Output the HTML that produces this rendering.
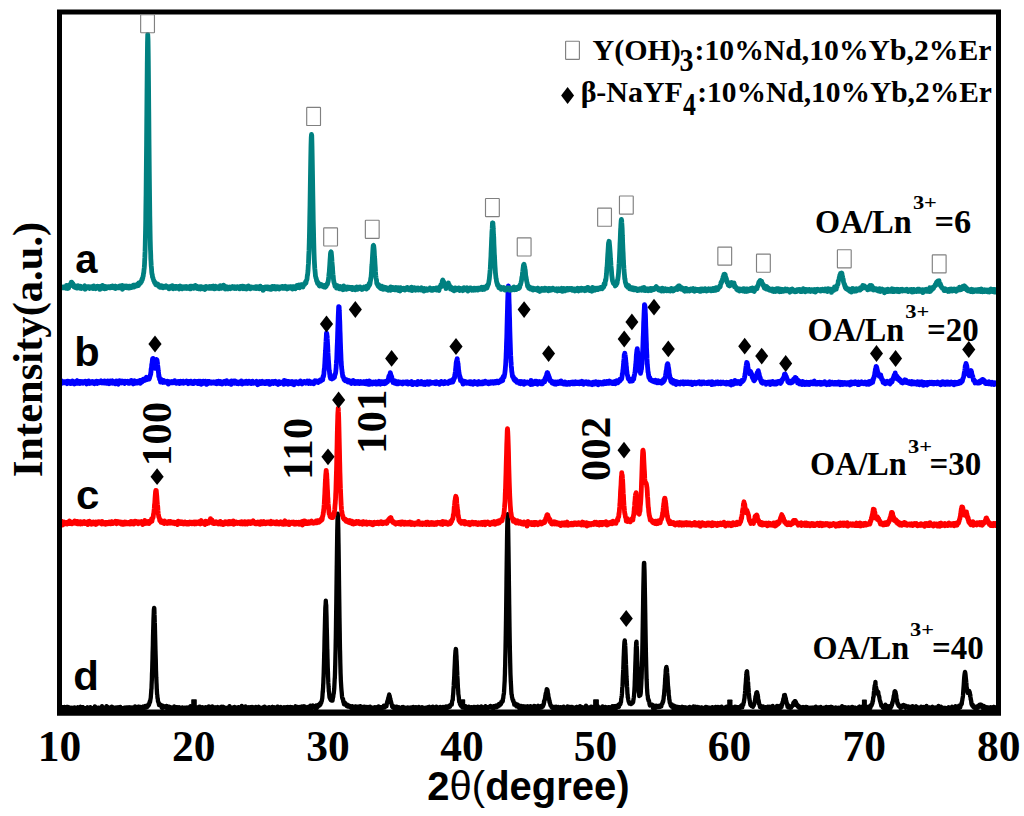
<!DOCTYPE html>
<html><head><meta charset="utf-8"><style>
html,body{margin:0;padding:0;background:#fff;width:1024px;height:816px;overflow:hidden}
svg{display:block}
text{font-family:"Liberation Serif",serif;font-weight:bold}
.s,.s text{font-family:"Liberation Sans",sans-serif;font-weight:bold}
</style></head><body>
<svg width="1024" height="816" viewBox="0 0 1024 816">
<rect width="1024" height="816" fill="#fff"/>
<polyline fill="none" stroke="#000" stroke-width="4.3" stroke-linejoin="round" stroke-linecap="round" points="60.5,707.8 60.75,708.2 61,709.4 61.25,708.7 61.5,707.1 61.75,708.3 62,707.8 62.25,708.4 62.5,707.2 62.75,708.4 63,708.4 63.25,709.4 63.5,708.5 63.75,708.6 64,707.2 64.25,709.9 64.5,706.9 64.75,709.0 65,708.0 65.25,707.7 65.5,707.8 65.75,707.8 66,708.5 66.25,708.2 66.5,709.3 66.75,707.0 67,708.3 67.25,707.7 67.5,708.8 67.75,706.8 68,708.0 68.25,708.4 68.5,707.2 68.75,709.0 69,708.4 69.25,709.0 69.5,708.9 69.75,707.6 70,707.7 70.25,708.1 70.5,708.8 70.75,708.9 71,707.8 71.25,707.8 71.5,707.7 71.75,707.9 72,708.1 72.25,708.2 72.5,709.7 72.75,707.9 73,708.1 73.25,708.6 73.5,707.6 73.75,708.0 74,708.3 74.25,708.8 74.5,707.4 74.75,709.2 75,708.0 75.25,708.4 75.5,708.9 75.75,708.7 76,709.0 76.25,708.4 76.5,708.3 76.75,708.5 77,707.6 77.25,709.1 77.5,707.7 77.75,707.4 78,709.7 78.25,708.2 78.5,707.4 78.75,709.6 79,708.0 79.25,709.0 79.5,707.7 79.75,708.1 80,707.1 80.25,706.9 80.5,707.6 80.75,708.2 81,708.8 81.25,710.0 81.5,707.5 81.75,709.0 82,707.8 82.25,708.2 82.5,707.2 82.75,707.2 83,707.7 83.25,707.4 83.5,708.3 83.75,707.8 84,709.1 84.25,708.4 84.5,708.4 84.75,709.1 85,708.6 85.25,708.2 85.5,708.2 85.75,708.2 86,709.0 86.25,708.8 86.5,708.5 86.75,708.8 87,707.9 87.25,708.6 87.5,707.3 87.75,709.2 88,708.3 88.25,708.4 88.5,708.7 88.75,708.3 89,708.1 89.25,709.1 89.5,708.3 89.75,707.6 90,708.6 90.25,707.1 90.5,709.4 90.75,708.1 91,708.3 91.25,709.8 91.5,709.8 91.75,708.3 92,708.7 92.25,709.0 92.5,709.4 92.75,708.2 93,708.4 93.25,709.1 93.5,708.4 93.75,708.8 94,708.7 94.25,707.5 94.5,707.7 94.75,706.4 95,708.1 95.25,709.2 95.5,707.5 95.75,709.1 96,709.0 96.25,708.2 96.5,708.3 96.75,708.3 97,707.7 97.25,708.1 97.5,708.2 97.75,708.7 98,708.8 98.25,707.7 98.5,708.8 98.75,707.7 99,708.1 99.25,708.5 99.5,708.2 99.75,708.2 100,708.4 100.25,707.9 100.5,707.8 100.75,708.1 101,708.9 101.25,708.2 101.5,709.6 101.75,708.4 102,706.2 102.25,707.9 102.5,709.4 102.75,708.3 103,707.9 103.25,707.6 103.5,709.2 103.75,708.9 104,708.7 104.25,708.5 104.5,709.3 104.75,708.8 105,707.4 105.25,708.8 105.5,708.4 105.75,708.2 106,708.8 106.25,708.3 106.5,706.2 106.75,709.3 107,709.0 107.25,708.2 107.5,708.0 107.75,708.4 108,707.3 108.25,708.4 108.5,708.1 108.75,708.0 109,707.6 109.25,707.8 109.5,709.0 109.75,709.2 110,708.6 110.25,708.2 110.5,707.6 110.75,708.7 111,709.4 111.25,707.1 111.5,709.0 111.75,706.7 112,708.0 112.25,708.5 112.5,707.3 112.75,707.2 113,708.4 113.25,708.8 113.5,707.9 113.75,709.2 114,707.7 114.25,709.4 114.5,708.3 114.75,708.4 115,708.6 115.25,708.4 115.5,709.5 115.75,709.8 116,708.6 116.25,708.1 116.5,707.4 116.75,707.7 117,708.2 117.25,708.1 117.5,708.2 117.75,708.2 118,708.5 118.25,707.3 118.5,707.5 118.75,709.0 119,708.8 119.25,707.8 119.5,709.1 119.75,707.7 120,708.0 120.25,706.9 120.5,708.8 120.75,708.2 121,708.9 121.25,708.7 121.5,708.3 121.75,708.3 122,709.0 122.25,708.1 122.5,708.1 122.75,708.2 123,708.7 123.25,708.8 123.5,709.5 123.75,708.1 124,709.1 124.25,707.7 124.5,708.6 124.75,708.3 125,709.4 125.25,708.6 125.5,707.9 125.75,708.6 126,708.4 126.25,707.9 126.5,708.0 126.75,707.5 127,710.1 127.25,708.3 127.5,708.8 127.75,707.3 128,707.4 128.25,708.0 128.5,708.0 128.75,708.7 129,707.4 129.25,708.5 129.5,709.2 129.75,707.5 130,708.8 130.25,707.4 130.5,708.4 130.75,708.4 131,709.3 131.25,707.6 131.5,708.2 131.75,708.8 132,707.3 132.25,708.1 132.5,707.5 132.75,707.6 133,708.5 133.25,708.6 133.5,709.9 133.75,709.0 134,708.9 134.25,707.9 134.5,707.8 134.75,708.1 135,706.4 135.25,709.2 135.5,707.5 135.75,707.2 136,707.6 136.25,708.6 136.5,708.8 136.75,707.7 137,708.2 137.25,707.9 137.5,707.2 137.75,708.0 138,707.9 138.25,706.8 138.5,708.6 138.75,706.7 139,708.0 139.25,707.1 139.5,707.2 139.75,707.3 140,708.2 140.25,706.8 140.5,707.6 140.75,708.8 141,707.2 141.25,707.6 141.5,708.1 141.75,707.2 142,707.9 142.25,707.0 142.5,708.0 142.75,707.5 143,706.7 143.25,708.3 143.5,707.2 143.75,707.1 144,706.6 144.25,706.8 144.5,707.0 144.75,707.1 145,707.7 145.25,706.0 145.5,706.6 145.75,707.5 146,706.7 146.25,706.8 146.5,707.5 146.75,706.5 147,706.5 147.25,706.0 147.5,707.0 147.75,706.4 148,704.9 148.25,705.6 148.5,704.1 148.75,705.4 149,704.7 149.25,703.7 149.5,703.0 149.75,701.4 150,702.3 150.25,700.6 150.5,699.1 150.75,697.9 151,694.4 151.1,693.2 151.25,691.0 151.35,689.0 151.5,688.9 151.6,685.1 151.75,681.6 151.85,680.0 152,673.1 152.1,672.3 152.25,667.5 152.35,663.4 152.5,658.9 152.6,653.3 152.75,648.8 152.85,645.3 153,636.9 153.1,633.3 153.25,628.3 153.35,624.6 153.5,618.9 153.6,616.6 153.75,612.8 153.85,609.8 154,609.0 154.1,607.9 154.25,608.0 154.35,609.0 154.5,614.4 154.6,616.2 154.75,622.4 154.85,623.5 155,630.0 155.1,634.5 155.25,640.3 155.35,644.9 155.5,650.8 155.6,654.2 155.75,658.7 155.85,663.3 156,670.2 156.1,672.7 156.25,677.5 156.35,678.9 156.5,682.8 156.6,684.5 156.75,688.3 156.85,689.9 157,692.5 157.1,694.7 157.25,694.7 157.5,698.2 157.75,698.5 158,701.6 158.25,701.6 158.5,702.6 158.75,703.4 159,705.0 159.25,704.2 159.5,704.2 159.75,704.0 160,705.3 160.25,704.8 160.5,705.2 160.75,705.7 161,706.4 161.25,705.6 161.5,706.7 161.75,707.6 162,705.4 162.25,707.5 162.5,708.1 162.75,706.3 163,707.2 163.25,705.9 163.5,707.2 163.75,706.8 164,707.3 164.25,706.5 164.5,706.6 164.75,706.9 165,706.8 165.25,706.9 165.5,707.2 165.75,706.6 166,707.3 166.25,707.8 166.5,705.8 166.75,707.6 167,707.0 167.25,706.7 167.5,706.6 167.75,707.0 168,707.1 168.25,707.8 168.5,706.7 168.75,708.4 169,707.1 169.25,708.2 169.5,708.5 169.75,706.9 170,708.5 170.25,709.3 170.5,707.5 170.75,708.2 171,707.7 171.25,707.9 171.5,707.7 171.75,707.5 172,708.4 172.25,708.5 172.5,707.9 172.75,709.0 173,708.7 173.25,708.4 173.5,707.5 173.75,709.3 174,708.9 174.25,706.5 174.5,707.2 174.75,707.7 175,708.7 175.25,708.9 175.5,707.8 175.75,708.2 176,708.5 176.25,707.1 176.5,708.5 176.75,707.8 177,708.2 177.25,708.0 177.5,707.2 177.75,707.4 178,708.1 178.25,708.2 178.5,707.9 178.75,708.8 179,707.8 179.25,707.2 179.5,707.9 179.75,708.0 180,708.0 180.25,708.9 180.5,708.5 180.75,708.9 181,708.6 181.25,708.0 181.5,708.9 181.75,707.9 182,708.3 182.25,707.4 182.5,708.2 182.75,707.9 183,708.4 183.25,709.4 183.5,709.8 183.75,708.9 184,708.1 184.25,708.7 184.5,708.3 184.75,707.7 185,708.1 185.25,708.0 185.5,707.7 185.75,709.1 186,707.8 186.25,707.8 186.5,708.7 186.75,707.7 187,707.4 187.25,707.6 187.5,708.5 187.75,708.4 188,708.4 188.25,707.9 188.5,707.5 188.75,708.8 189,707.2 189.25,708.0 189.5,707.3 189.75,707.9 190,708.1 190.25,709.1 190.5,706.2 190.75,709.2 191,707.6 191.25,708.4 191.5,708.8 191.75,707.7 192,708.1 192.25,708.6 192.5,708.1 192.75,707.7 193,708.3 193.25,708.3 193.5,707.2 193.75,709.2 194,708.4 194.25,706.5 194.5,707.6 194.75,709.4 195,709.3 195.25,708.4 195.5,707.1 195.75,708.1 196,709.0 196.25,708.5 196.5,708.0 196.75,707.7 197,708.8 197.25,708.1 197.5,708.5 197.75,708.6 198,709.4 198.25,708.4 198.5,708.4 198.75,707.0 199,709.0 199.25,708.9 199.5,708.2 199.75,706.7 200,707.9 200.25,708.3 200.5,709.7 200.75,708.7 201,708.8 201.25,708.8 201.5,709.2 201.75,707.5 202,707.7 202.25,707.4 202.5,708.1 202.75,708.0 203,708.3 203.25,707.5 203.5,708.3 203.75,707.7 204,709.7 204.25,707.9 204.5,710.0 204.75,709.4 205,707.4 205.25,708.9 205.5,708.7 205.75,707.2 206,708.7 206.25,708.2 206.5,708.5 206.75,707.7 207,708.2 207.25,708.5 207.5,708.1 207.75,707.8 208,708.1 208.25,707.6 208.5,708.5 208.75,706.5 209,709.3 209.25,708.3 209.5,708.6 209.75,708.9 210,707.4 210.25,709.8 210.5,707.5 210.75,708.6 211,708.5 211.25,709.2 211.5,708.2 211.75,707.3 212,708.5 212.25,706.5 212.5,708.1 212.75,707.9 213,709.3 213.25,708.1 213.5,707.9 213.75,707.7 214,707.6 214.25,707.9 214.5,708.7 214.75,707.3 215,708.1 215.25,707.2 215.5,708.1 215.75,708.4 216,707.4 216.25,707.8 216.5,708.3 216.75,708.8 217,708.9 217.25,708.2 217.5,707.5 217.75,707.1 218,708.8 218.25,709.2 218.5,708.5 218.75,709.3 219,707.9 219.25,708.0 219.5,709.3 219.75,707.5 220,708.7 220.25,708.5 220.5,708.3 220.75,709.5 221,707.6 221.25,707.9 221.5,706.8 221.75,707.5 222,707.9 222.25,708.0 222.5,708.1 222.75,708.4 223,707.8 223.25,706.8 223.5,708.3 223.75,708.5 224,707.4 224.25,707.7 224.5,709.5 224.75,709.0 225,709.0 225.25,708.7 225.5,708.3 225.75,707.9 226,708.6 226.25,708.1 226.5,707.9 226.75,708.2 227,708.2 227.25,708.9 227.5,707.6 227.75,710.0 228,707.5 228.25,707.9 228.5,708.9 228.75,707.6 229,707.9 229.25,708.3 229.5,706.2 229.75,707.9 230,707.6 230.25,708.1 230.5,708.6 230.75,708.7 231,709.3 231.25,709.3 231.5,709.0 231.75,708.2 232,709.0 232.25,707.5 232.5,708.2 232.75,709.3 233,708.8 233.25,707.3 233.5,707.8 233.75,708.9 234,708.7 234.25,709.0 234.5,707.0 234.75,707.3 235,708.1 235.25,707.6 235.5,708.2 235.75,708.3 236,708.5 236.25,708.2 236.5,708.6 236.75,708.8 237,708.4 237.25,707.4 237.5,709.2 237.75,708.4 238,708.5 238.25,708.4 238.5,707.1 238.75,708.7 239,707.8 239.25,707.4 239.5,709.2 239.75,708.0 240,708.5 240.25,708.9 240.5,709.4 240.75,707.0 241,707.7 241.25,708.7 241.5,707.8 241.75,705.9 242,708.3 242.25,708.4 242.5,708.8 242.75,708.4 243,707.9 243.25,708.4 243.5,708.2 243.75,707.9 244,708.4 244.25,708.5 244.5,707.5 244.75,709.0 245,708.8 245.25,708.8 245.5,706.3 245.75,708.3 246,708.2 246.25,707.5 246.5,708.7 246.75,707.2 247,709.1 247.25,708.5 247.5,707.9 247.75,709.2 248,708.6 248.25,708.5 248.5,707.3 248.75,708.6 249,709.2 249.25,709.0 249.5,707.3 249.75,709.2 250,709.4 250.25,708.8 250.5,708.0 250.75,707.2 251,707.6 251.25,707.8 251.5,708.4 251.75,708.6 252,707.7 252.25,707.1 252.5,707.9 252.75,707.3 253,709.2 253.25,707.3 253.5,708.5 253.75,708.8 254,707.5 254.25,708.9 254.5,708.1 254.75,707.6 255,707.5 255.25,708.3 255.5,708.9 255.75,706.9 256,708.6 256.25,708.1 256.5,707.7 256.75,708.1 257,708.2 257.25,708.1 257.5,708.8 257.75,707.5 258,709.6 258.25,708.8 258.5,707.8 258.75,706.8 259,708.2 259.25,707.9 259.5,708.7 259.75,708.7 260,709.5 260.25,708.1 260.5,708.8 260.75,707.9 261,707.9 261.25,709.3 261.5,708.1 261.75,708.1 262,708.0 262.25,708.4 262.5,708.6 262.75,708.1 263,707.4 263.25,708.4 263.5,707.6 263.75,708.0 264,708.4 264.25,708.4 264.5,706.6 264.75,709.4 265,708.8 265.25,709.6 265.5,710.0 265.75,707.5 266,707.8 266.25,708.4 266.5,708.9 266.75,707.8 267,708.0 267.25,708.9 267.5,707.6 267.75,708.3 268,708.9 268.25,708.0 268.5,708.7 268.75,708.1 269,707.1 269.25,707.8 269.5,708.0 269.75,707.9 270,708.2 270.25,708.4 270.5,708.4 270.75,708.3 271,707.8 271.25,708.0 271.5,707.9 271.75,707.7 272,709.1 272.25,706.8 272.5,708.3 272.75,707.0 273,707.7 273.25,708.7 273.5,707.9 273.75,709.1 274,707.4 274.25,707.9 274.5,707.6 274.75,708.1 275,707.8 275.25,707.8 275.5,708.1 275.75,708.8 276,708.2 276.25,708.1 276.5,707.8 276.75,707.5 277,707.0 277.25,707.3 277.5,708.0 277.75,706.7 278,708.5 278.25,707.7 278.5,707.3 278.75,707.6 279,708.5 279.25,708.3 279.5,708.2 279.75,709.2 280,709.7 280.25,707.1 280.5,708.6 280.75,707.5 281,707.1 281.25,707.7 281.5,708.8 281.75,707.8 282,707.7 282.25,709.1 282.5,708.4 282.75,708.0 283,709.4 283.25,708.5 283.5,707.6 283.75,707.4 284,707.8 284.25,708.2 284.5,708.8 284.75,708.7 285,708.2 285.25,707.3 285.5,708.8 285.75,708.2 286,707.4 286.25,707.3 286.5,708.3 286.75,708.4 287,708.7 287.25,707.2 287.5,709.5 287.75,706.8 288,708.1 288.25,709.0 288.5,708.8 288.75,707.4 289,708.5 289.25,708.9 289.5,708.6 289.75,707.4 290,709.2 290.25,706.9 290.5,708.1 290.75,707.3 291,707.7 291.25,707.8 291.5,708.4 291.75,707.1 292,708.2 292.25,708.9 292.5,708.1 292.75,708.4 293,708.3 293.25,707.5 293.5,707.7 293.75,708.0 294,708.3 294.25,709.4 294.5,709.1 294.75,707.7 295,707.7 295.25,707.3 295.5,706.3 295.75,708.9 296,708.3 296.25,706.6 296.5,708.0 296.75,709.6 297,708.3 297.25,708.3 297.5,708.1 297.75,707.4 298,707.1 298.25,707.3 298.5,708.0 298.75,707.8 299,708.4 299.25,709.2 299.5,708.3 299.75,708.5 300,707.7 300.25,707.0 300.5,709.4 300.75,708.4 301,708.7 301.25,707.6 301.5,706.7 301.75,708.8 302,706.3 302.25,707.7 302.5,707.5 302.75,708.0 303,708.4 303.25,708.4 303.5,706.3 303.75,708.5 304,706.5 304.25,708.3 304.5,707.5 304.75,707.0 305,707.4 305.25,706.8 305.5,707.7 305.75,708.4 306,708.3 306.25,707.7 306.5,708.5 306.75,708.1 307,709.2 307.25,708.0 307.5,707.2 307.75,707.4 308,707.1 308.25,707.4 308.5,707.5 308.75,708.1 309,708.1 309.25,707.6 309.5,707.8 309.75,707.0 310,707.1 310.25,705.7 310.5,706.9 310.75,707.1 311,709.2 311.25,706.4 311.5,707.4 311.75,707.1 312,706.2 312.25,707.5 312.5,707.2 312.75,706.2 313,705.5 313.25,707.1 313.5,706.1 313.75,707.5 314,706.8 314.25,707.3 314.5,706.7 314.75,708.0 315,707.3 315.25,707.9 315.5,706.8 315.75,705.9 316,705.6 316.25,706.1 316.5,706.6 316.75,705.9 317,708.0 317.25,706.1 317.5,706.4 317.75,706.0 318,704.9 318.25,706.4 318.5,706.0 318.75,706.0 319,704.5 319.25,705.0 319.5,704.7 319.75,705.4 320,703.3 320.25,704.4 320.5,704.5 320.75,702.9 321,702.1 321.25,703.0 321.5,701.5 321.75,701.2 322,699.7 322.25,698.3 322.5,695.2 322.75,691.0 322.8,692.3 323,688.3 323.05,688.4 323.25,683.7 323.3,684.1 323.5,677.9 323.55,677.3 323.75,671.7 323.8,669.2 324,662.6 324.05,660.5 324.25,652.0 324.3,651.7 324.5,641.5 324.55,638.9 324.75,630.9 324.8,629.2 325,620.8 325.05,618.5 325.25,611.3 325.3,608.5 325.5,605.5 325.55,605.4 325.75,601.6 325.8,600.7 326,603.8 326.05,603.9 326.25,605.5 326.3,609.3 326.5,615.5 326.55,617.6 326.75,627.9 326.8,629.3 327,637.1 327.05,639.4 327.25,649.0 327.3,649.1 327.5,658.3 327.55,659.2 327.75,667.2 327.8,668.4 328,673.7 328.05,676.3 328.25,680.9 328.3,682.9 328.5,685.3 328.55,686.5 328.75,689.0 328.8,691.0 329,691.9 329.25,694.7 329.5,697.3 329.75,697.9 330,698.5 330.25,699.1 330.5,699.5 330.75,700.0 331,699.4 331.25,698.2 331.5,700.5 331.75,698.7 332,700.5 332.25,699.1 332.5,700.7 332.75,698.7 333,697.5 333.25,696.9 333.5,694.1 333.75,693.6 334,691.1 334.25,688.5 334.5,683.1 334.75,677.9 334.8,678.8 335,672.8 335.05,670.9 335.25,664.1 335.3,661.7 335.5,652.9 335.55,651.3 335.75,639.9 335.8,637.7 336,624.0 336.05,619.8 336.25,606.4 336.3,603.0 336.5,586.8 336.55,583.3 336.75,567.2 336.8,564.3 337,548.9 337.05,545.5 337.25,531.1 337.3,529.0 337.5,520.5 337.55,518.1 337.75,514.2 337.8,513.6 338,517.3 338.05,518.2 338.25,527.0 338.3,528.8 338.5,542.9 338.55,544.9 338.75,559.1 338.8,564.1 339,580.3 339.05,584.9 339.25,599.3 339.3,603.1 339.5,618.0 339.55,621.3 339.75,633.1 339.8,638.2 340,649.8 340.05,650.9 340.25,660.0 340.3,662.7 340.5,669.7 340.55,672.6 340.75,677.4 340.8,679.6 341,682.8 341.25,687.1 341.5,690.3 341.75,693.0 342,696.2 342.25,698.0 342.5,698.6 342.75,699.6 343,698.7 343.25,701.7 343.5,700.6 343.75,703.0 344,704.2 344.25,702.9 344.5,703.7 344.75,704.0 345,702.9 345.25,703.3 345.5,703.9 345.75,704.7 346,705.4 346.25,705.1 346.5,705.9 346.75,704.9 347,704.4 347.25,705.6 347.5,705.7 347.75,704.8 348,706.7 348.25,705.3 348.5,705.6 348.75,706.4 349,705.5 349.25,706.8 349.5,706.7 349.75,706.9 350,706.6 350.25,706.3 350.5,706.2 350.75,707.0 351,707.8 351.25,707.4 351.5,707.2 351.75,707.7 352,708.0 352.25,706.1 352.5,707.1 352.75,708.0 353,706.7 353.25,706.9 353.5,707.7 353.75,707.1 354,708.2 354.25,707.1 354.5,707.8 354.75,709.2 355,708.2 355.25,706.4 355.5,706.7 355.75,706.7 356,707.5 356.25,706.5 356.5,707.9 356.75,708.8 357,708.7 357.25,707.0 357.5,707.4 357.75,707.4 358,707.0 358.25,708.9 358.5,707.2 358.75,706.9 359,707.9 359.25,707.9 359.5,708.8 359.75,708.8 360,707.6 360.25,706.2 360.5,708.2 360.75,708.3 361,709.0 361.25,706.6 361.5,706.9 361.75,708.9 362,708.9 362.25,708.7 362.5,707.8 362.75,708.7 363,707.4 363.25,706.9 363.5,707.8 363.75,707.9 364,708.4 364.25,708.6 364.5,706.6 364.75,708.0 365,708.2 365.25,706.9 365.5,707.7 365.75,707.9 366,708.2 366.25,707.3 366.5,707.4 366.75,707.1 367,708.1 367.25,707.6 367.5,707.5 367.75,708.3 368,707.8 368.25,707.0 368.5,708.7 368.75,708.6 369,708.2 369.25,707.2 369.5,708.7 369.75,707.5 370,706.6 370.25,707.8 370.5,709.2 370.75,707.6 371,708.3 371.25,708.9 371.5,708.1 371.75,707.7 372,707.9 372.25,708.3 372.5,707.6 372.75,708.2 373,708.3 373.25,707.7 373.5,708.5 373.75,708.3 374,707.7 374.25,707.8 374.5,708.0 374.75,707.8 375,707.8 375.25,707.2 375.5,708.0 375.75,708.5 376,708.4 376.25,707.4 376.5,708.3 376.75,708.4 377,707.3 377.25,708.3 377.5,707.8 377.75,707.7 378,708.1 378.25,707.8 378.5,706.3 378.75,708.1 379,707.1 379.25,707.8 379.5,708.4 379.75,707.7 380,707.6 380.25,708.0 380.5,708.2 380.75,707.2 381,707.4 381.25,708.2 381.5,708.9 381.75,707.8 382,708.4 382.25,707.2 382.5,707.7 382.75,707.7 383,706.7 383.25,707.6 383.5,707.4 383.75,705.7 384,707.4 384.25,707.6 384.5,707.5 384.75,707.4 385,706.3 385.25,706.4 385.5,706.5 385.75,705.7 386,705.6 386.2,706.5 386.25,704.9 386.45,704.8 386.5,706.2 386.7,704.3 386.75,703.5 386.95,703.8 387,703.6 387.2,702.8 387.25,701.4 387.45,701.9 387.5,701.7 387.7,702.0 387.75,700.9 387.95,699.2 388,699.5 388.2,698.8 388.25,698.0 388.45,697.3 388.5,698.1 388.7,696.8 388.75,696.7 388.95,695.3 389,696.2 389.2,694.4 389.25,696.6 389.45,695.6 389.5,696.5 389.7,697.5 389.75,695.9 389.95,698.2 390,697.7 390.2,699.2 390.25,698.4 390.45,699.1 390.5,700.7 390.7,701.0 390.75,701.0 390.95,701.0 391,702.9 391.2,702.6 391.25,702.8 391.45,703.2 391.5,703.9 391.7,704.9 391.75,704.6 391.95,705.1 392,704.9 392.2,706.8 392.25,706.9 392.5,706.1 392.75,706.0 393,707.0 393.25,706.0 393.5,707.4 393.75,707.5 394,707.6 394.25,708.6 394.5,708.9 394.75,708.0 395,707.5 395.25,708.5 395.5,708.6 395.75,707.0 396,707.3 396.25,707.7 396.5,706.7 396.75,707.1 397,709.0 397.25,707.1 397.5,708.5 397.75,707.4 398,708.7 398.25,708.2 398.5,708.6 398.75,707.1 399,708.2 399.25,707.6 399.5,708.6 399.75,708.5 400,708.2 400.25,708.0 400.5,708.1 400.75,708.2 401,707.7 401.25,707.8 401.5,707.6 401.75,707.4 402,708.8 402.25,707.2 402.5,709.0 402.75,708.6 403,706.9 403.25,706.9 403.5,708.1 403.75,707.4 404,708.2 404.25,708.8 404.5,708.4 404.75,708.0 405,708.0 405.25,709.1 405.5,707.9 405.75,709.3 406,709.5 406.25,707.9 406.5,708.4 406.75,709.3 407,707.7 407.25,708.5 407.5,708.9 407.75,707.5 408,708.4 408.25,708.3 408.5,707.8 408.75,709.2 409,708.1 409.25,709.8 409.5,708.7 409.75,707.7 410,708.4 410.25,707.7 410.5,708.8 410.75,708.7 411,707.4 411.25,707.9 411.5,708.5 411.75,708.2 412,707.5 412.25,708.9 412.5,709.1 412.75,707.2 413,709.2 413.25,706.8 413.5,708.1 413.75,707.7 414,707.8 414.25,708.3 414.5,707.4 414.75,708.1 415,709.3 415.25,708.5 415.5,709.2 415.75,708.8 416,707.1 416.25,709.4 416.5,708.8 416.75,708.6 417,707.9 417.25,707.8 417.5,707.5 417.75,708.1 418,708.3 418.25,708.1 418.5,708.1 418.75,706.9 419,707.7 419.25,707.6 419.5,708.4 419.75,707.9 420,707.9 420.25,708.2 420.5,707.8 420.75,708.0 421,708.9 421.25,708.1 421.5,707.5 421.75,708.6 422,708.7 422.25,708.6 422.5,707.3 422.75,708.8 423,708.2 423.25,708.3 423.5,708.2 423.75,708.5 424,708.5 424.25,709.2 424.5,708.3 424.75,708.1 425,708.6 425.25,708.1 425.5,708.9 425.75,708.3 426,708.7 426.25,707.8 426.5,708.8 426.75,708.6 427,707.6 427.25,707.9 427.5,708.2 427.75,707.3 428,707.4 428.25,708.5 428.5,708.5 428.75,709.1 429,707.3 429.25,707.9 429.5,706.8 429.75,709.3 430,707.2 430.25,708.0 430.5,709.4 430.75,709.1 431,707.5 431.25,709.6 431.5,708.4 431.75,707.4 432,708.3 432.25,708.5 432.5,708.5 432.75,706.6 433,709.3 433.25,707.0 433.5,707.9 433.75,709.0 434,708.3 434.25,708.0 434.5,707.6 434.75,708.4 435,709.0 435.25,707.7 435.5,708.3 435.75,707.8 436,707.7 436.25,706.6 436.5,708.2 436.75,708.7 437,707.9 437.25,708.7 437.5,708.1 437.75,708.8 438,708.1 438.25,707.7 438.5,707.7 438.75,708.0 439,708.2 439.25,707.4 439.5,707.9 439.75,707.1 440,707.0 440.25,708.4 440.5,708.2 440.75,708.5 441,708.0 441.25,708.1 441.5,709.1 441.75,707.3 442,708.0 442.25,708.9 442.5,709.2 442.75,708.2 443,707.7 443.25,707.1 443.5,707.6 443.75,707.8 444,707.7 444.25,708.0 444.5,708.0 444.75,707.3 445,707.0 445.25,707.4 445.5,707.8 445.75,708.6 446,706.4 446.25,708.1 446.5,707.2 446.75,708.1 447,708.5 447.25,707.6 447.5,706.4 447.75,706.8 448,707.3 448.25,706.7 448.5,706.8 448.75,706.2 449,706.5 449.25,706.1 449.5,707.0 449.75,706.5 450,706.6 450.25,704.8 450.5,705.4 450.75,704.9 451,704.8 451.25,704.1 451.5,703.8 451.75,704.7 452,702.6 452.25,700.8 452.5,700.1 452.75,699.9 452.8,698.5 453,695.5 453.05,695.4 453.25,693.2 453.3,692.6 453.5,688.5 453.55,688.3 453.75,685.4 453.8,683.5 454,680.6 454.05,679.8 454.25,676.0 454.3,675.0 454.5,669.7 454.55,668.8 454.75,664.5 454.8,663.6 455,658.7 455.05,657.1 455.25,654.4 455.3,653.7 455.5,650.8 455.55,650.6 455.75,650.3 455.8,648.8 456,649.4 456.05,649.5 456.25,652.7 456.3,653.8 456.5,656.3 456.55,658.8 456.75,661.4 456.8,663.1 457,667.4 457.05,669.6 457.25,672.8 457.3,675.4 457.5,678.6 457.55,678.8 457.75,683.3 457.8,684.5 458,689.2 458.05,688.6 458.25,691.9 458.3,693.9 458.5,695.1 458.55,695.1 458.75,697.0 458.8,696.9 459,699.8 459.25,701.9 459.5,702.1 459.75,702.6 460,704.1 460.25,704.5 460.5,704.8 460.75,705.6 461,705.6 461.25,705.5 461.5,706.6 461.75,704.9 462,705.5 462.25,706.2 462.5,705.6 462.75,707.7 463,705.3 463.25,707.3 463.5,707.3 463.75,707.2 464,707.3 464.25,706.7 464.5,706.7 464.75,708.2 465,707.1 465.25,706.3 465.5,706.5 465.75,706.3 466,707.6 466.25,708.2 466.5,707.3 466.75,707.6 467,707.2 467.25,708.1 467.5,708.2 467.75,708.2 468,708.8 468.25,706.8 468.5,708.2 468.75,706.6 469,708.2 469.25,708.2 469.5,708.2 469.75,708.3 470,707.7 470.25,707.3 470.5,708.3 470.75,707.4 471,708.3 471.25,707.2 471.5,708.0 471.75,708.0 472,707.3 472.25,707.6 472.5,708.5 472.75,707.9 473,708.2 473.25,707.5 473.5,707.9 473.75,706.9 474,707.4 474.25,708.7 474.5,708.2 474.75,707.9 475,708.0 475.25,707.0 475.5,708.2 475.75,707.1 476,707.4 476.25,708.3 476.5,707.4 476.75,707.5 477,707.8 477.25,707.9 477.5,708.8 477.75,706.7 478,707.6 478.25,708.3 478.5,707.5 478.75,707.6 479,707.3 479.25,707.7 479.5,708.3 479.75,708.7 480,708.1 480.25,708.8 480.5,707.9 480.75,706.7 481,708.3 481.25,706.5 481.5,707.8 481.75,707.8 482,707.1 482.25,707.7 482.5,707.4 482.75,707.9 483,707.6 483.25,708.2 483.5,707.5 483.75,708.2 484,707.8 484.25,707.9 484.5,707.8 484.75,707.4 485,708.5 485.25,708.1 485.5,706.2 485.75,706.9 486,708.8 486.25,707.5 486.5,709.5 486.75,708.0 487,708.0 487.25,707.4 487.5,707.5 487.75,707.7 488,708.2 488.25,707.7 488.5,707.6 488.75,706.9 489,707.2 489.25,707.3 489.5,707.4 489.75,707.0 490,706.8 490.25,707.2 490.5,705.8 490.75,706.4 491,706.8 491.25,707.6 491.5,706.9 491.75,706.6 492,707.7 492.25,707.1 492.5,708.1 492.75,707.0 493,706.6 493.25,706.8 493.5,708.2 493.75,708.0 494,707.1 494.25,707.6 494.5,706.0 494.75,707.6 495,707.0 495.25,706.7 495.5,706.7 495.75,706.8 496,706.2 496.25,706.2 496.5,705.6 496.75,707.3 497,705.6 497.25,706.0 497.5,706.7 497.75,706.7 498,706.7 498.25,705.3 498.5,705.2 498.75,705.3 499,704.0 499.25,705.6 499.5,703.8 499.75,704.6 500,705.0 500.25,704.8 500.5,703.7 500.75,704.3 501,704.1 501.25,701.9 501.5,702.4 501.75,702.6 502,702.0 502.25,701.0 502.5,700.4 502.75,701.2 503,698.5 503.25,698.3 503.5,695.3 503.75,694.6 504,692.4 504.25,688.2 504.5,683.6 504.7,680.7 504.75,678.1 504.95,673.1 505,669.8 505.2,664.4 505.25,659.9 505.45,651.4 505.5,649.0 505.7,638.2 505.75,635.4 505.95,623.3 506,620.1 506.2,605.4 506.25,600.9 506.45,584.8 506.5,579.3 506.7,564.6 506.75,560.4 506.95,546.2 507,541.6 507.2,529.2 507.25,526.6 507.45,519.4 507.5,517.7 507.7,514.4 507.75,514.1 507.95,518.6 508,520.2 508.2,529.4 508.25,532.7 508.45,546.2 508.5,549.9 508.7,564.3 508.75,568.2 508.95,585.7 509,588.5 509.2,604.7 509.25,608.1 509.45,622.5 509.5,626.7 509.7,638.2 509.75,642.0 509.95,652.4 510,654.4 510.2,663.1 510.25,665.1 510.45,673.3 510.5,674.8 510.7,679.1 510.75,681.2 511,684.9 511.25,690.1 511.5,694.4 511.75,694.4 512,697.1 512.25,697.8 512.5,699.4 512.75,699.5 513,701.0 513.25,700.0 513.5,701.9 513.75,702.3 514,702.9 514.25,704.6 514.5,702.9 514.75,703.5 515,703.3 515.25,704.8 515.5,704.7 515.75,704.1 516,705.7 516.25,705.4 516.5,706.4 516.75,706.1 517,705.7 517.25,705.3 517.5,704.5 517.75,705.6 518,706.9 518.25,706.1 518.5,705.7 518.75,706.5 519,706.9 519.25,708.4 519.5,705.9 519.75,706.4 520,706.0 520.25,706.3 520.5,707.4 520.75,706.8 521,705.9 521.25,707.8 521.5,708.2 521.75,707.6 522,706.4 522.25,706.4 522.5,708.0 522.75,706.5 523,706.8 523.25,706.2 523.5,708.5 523.75,706.8 524,707.2 524.25,706.8 524.5,706.9 524.75,706.6 525,708.1 525.25,706.9 525.5,708.4 525.75,706.6 526,707.8 526.25,708.1 526.5,706.7 526.75,707.6 527,707.1 527.25,706.8 527.5,707.2 527.75,706.3 528,707.3 528.25,706.5 528.5,708.0 528.75,708.6 529,708.5 529.25,707.1 529.5,707.5 529.75,708.9 530,708.5 530.25,708.0 530.5,706.2 530.75,707.4 531,709.1 531.25,707.9 531.5,707.3 531.75,707.7 532,709.3 532.25,708.5 532.5,706.8 532.75,706.9 533,707.7 533.25,708.5 533.5,707.1 533.75,707.3 534,705.9 534.25,707.2 534.5,708.0 534.75,708.0 535,706.6 535.25,708.2 535.5,707.0 535.75,706.6 536,707.9 536.25,706.5 536.5,707.2 536.75,706.9 537,707.4 537.25,707.7 537.5,707.2 537.75,706.9 538,707.1 538.25,705.8 538.5,707.3 538.75,708.8 539,707.6 539.25,708.2 539.5,707.4 539.75,707.3 540,707.6 540.25,707.7 540.5,707.6 540.75,706.6 541,707.1 541.25,706.0 541.5,707.6 541.75,706.8 542,706.4 542.25,705.6 542.5,706.5 542.75,706.6 543,705.9 543.25,705.8 543.5,704.0 543.75,704.5 543.9,703.3 544,701.2 544.15,702.6 544.25,701.3 544.4,701.3 544.5,700.5 544.65,699.6 544.75,700.4 544.9,698.5 545,698.4 545.15,697.9 545.25,696.6 545.4,695.1 545.5,695.4 545.65,694.4 545.75,693.2 545.9,693.1 546,693.3 546.15,692.4 546.25,692.3 546.4,691.6 546.5,690.5 546.65,690.0 546.75,689.1 546.9,690.6 547,689.4 547.15,690.4 547.25,691.4 547.4,690.8 547.5,690.0 547.65,691.0 547.75,692.0 547.9,693.9 548,693.4 548.15,694.4 548.25,694.3 548.4,696.2 548.5,696.7 548.65,698.1 548.75,697.4 548.9,699.4 549,698.5 549.15,699.8 549.25,700.4 549.4,701.3 549.5,702.2 549.65,700.9 549.75,702.8 549.9,703.2 550,702.8 550.25,704.3 550.5,705.4 550.75,705.2 551,705.6 551.25,706.7 551.5,706.0 551.75,707.5 552,707.2 552.25,707.3 552.5,707.5 552.75,708.1 553,706.8 553.25,708.2 553.5,706.8 553.75,707.7 554,707.9 554.25,707.7 554.5,706.8 554.75,706.8 555,706.9 555.25,707.7 555.5,707.8 555.75,708.1 556,706.7 556.25,708.0 556.5,708.5 556.75,707.9 557,707.8 557.25,708.4 557.5,709.0 557.75,708.9 558,709.0 558.25,707.0 558.5,708.9 558.75,707.7 559,708.5 559.25,707.5 559.5,708.2 559.75,707.6 560,707.8 560.25,709.3 560.5,707.2 560.75,708.7 561,708.1 561.25,707.3 561.5,708.9 561.75,708.1 562,707.7 562.25,708.3 562.5,707.5 562.75,709.2 563,707.0 563.25,707.7 563.5,706.7 563.75,708.2 564,708.6 564.25,708.7 564.5,709.2 564.75,708.1 565,707.8 565.25,708.7 565.5,707.7 565.75,708.3 566,707.8 566.25,707.6 566.5,708.1 566.75,708.9 567,708.8 567.25,708.2 567.5,706.3 567.75,708.2 568,708.4 568.25,708.5 568.5,707.7 568.75,708.9 569,708.4 569.25,706.8 569.5,708.7 569.75,709.3 570,708.4 570.25,707.6 570.5,709.4 570.75,708.9 571,706.9 571.25,708.9 571.5,708.5 571.75,708.4 572,707.0 572.25,707.0 572.5,708.3 572.75,709.5 573,708.3 573.25,708.2 573.5,707.7 573.75,707.9 574,708.9 574.25,707.6 574.5,709.5 574.75,708.5 575,708.4 575.25,708.0 575.5,707.6 575.75,708.0 576,707.1 576.25,708.2 576.5,706.8 576.75,709.6 577,708.0 577.25,707.0 577.5,708.3 577.75,708.2 578,707.7 578.25,708.2 578.5,707.5 578.75,708.0 579,707.9 579.25,708.4 579.5,707.7 579.75,708.3 580,706.1 580.25,708.8 580.5,708.2 580.75,708.4 581,707.9 581.25,708.7 581.5,708.0 581.75,708.2 582,708.1 582.25,707.7 582.5,707.4 582.75,708.4 583,708.5 583.25,708.0 583.5,709.0 583.75,708.2 584,708.4 584.25,708.9 584.5,708.6 584.75,708.0 585,707.3 585.25,707.6 585.5,707.4 585.75,708.6 586,705.6 586.25,709.5 586.5,707.5 586.75,708.8 587,708.3 587.25,708.5 587.5,707.2 587.75,708.8 588,708.0 588.25,708.5 588.5,707.4 588.75,708.1 589,707.6 589.25,708.3 589.5,708.6 589.75,707.9 590,708.4 590.25,708.4 590.5,708.0 590.75,707.9 591,706.7 591.25,708.8 591.5,708.2 591.75,707.9 592,708.2 592.25,707.7 592.5,707.9 592.75,708.4 593,707.0 593.25,707.9 593.5,708.2 593.75,707.0 594,707.3 594.25,708.9 594.5,709.6 594.75,708.3 595,708.5 595.25,707.5 595.5,709.0 595.75,708.0 596,708.1 596.25,708.3 596.5,707.7 596.75,707.6 597,708.0 597.25,707.3 597.5,707.6 597.75,706.2 598,707.3 598.25,708.3 598.5,708.8 598.75,708.4 599,707.4 599.25,708.1 599.5,707.3 599.75,707.3 600,708.7 600.25,707.7 600.5,707.8 600.75,708.1 601,708.6 601.25,708.1 601.5,707.8 601.75,708.2 602,707.9 602.25,707.8 602.5,706.4 602.75,707.4 603,707.9 603.25,707.3 603.5,709.2 603.75,709.5 604,709.1 604.25,707.3 604.5,708.3 604.75,708.2 605,708.2 605.25,706.8 605.5,708.6 605.75,709.1 606,708.5 606.25,709.4 606.5,707.7 606.75,708.4 607,708.8 607.25,707.3 607.5,707.8 607.75,707.4 608,708.5 608.25,707.1 608.5,708.1 608.75,707.5 609,708.4 609.25,707.4 609.5,707.7 609.75,707.9 610,707.2 610.25,707.4 610.5,707.6 610.75,707.4 611,707.9 611.25,707.1 611.5,707.7 611.75,707.4 612,707.1 612.25,706.8 612.5,706.2 612.75,707.0 613,707.8 613.25,707.1 613.5,708.4 613.75,706.6 614,707.0 614.25,706.1 614.5,707.9 614.75,706.2 615,707.4 615.25,707.2 615.5,708.7 615.75,707.8 616,707.4 616.25,706.9 616.5,708.0 616.75,706.4 617,705.7 617.25,707.0 617.5,706.3 617.75,705.7 618,706.3 618.25,706.3 618.5,704.7 618.75,706.3 619,706.8 619.25,704.9 619.5,703.9 619.75,704.7 620,704.1 620.25,704.2 620.5,703.7 620.75,702.2 621,702.2 621.25,698.5 621.5,697.5 621.7,696.4 621.75,696.0 621.95,693.4 622,693.2 622.2,689.2 622.25,687.7 622.45,686.5 622.5,686.0 622.7,681.1 622.75,679.3 622.95,675.1 623,674.9 623.2,669.7 623.25,669.2 623.45,664.3 623.5,662.7 623.7,656.5 623.75,656.1 623.95,651.0 624,649.7 624.2,645.8 624.25,644.8 624.45,641.6 624.5,642.1 624.7,640.5 624.75,641.1 624.95,642.8 625,643.3 625.2,644.2 625.25,645.9 625.45,649.7 625.5,651.8 625.7,655.9 625.75,658.3 625.95,662.5 626,664.4 626.2,668.5 626.25,669.9 626.45,675.0 626.5,676.7 626.7,679.3 626.75,681.7 626.95,684.4 627,686.4 627.2,688.3 627.25,689.9 627.45,693.7 627.5,694.4 627.7,694.8 627.75,697.2 628,697.7 628.25,699.5 628.5,701.0 628.75,701.6 629,702.4 629.25,702.8 629.5,703.6 629.75,703.4 630,703.1 630.25,702.8 630.5,702.9 630.75,703.6 631,704.1 631.25,703.8 631.5,703.3 631.75,703.7 632,702.8 632.25,703.0 632.5,702.9 632.75,701.9 633,702.4 633.25,701.4 633.4,699.7 633.5,699.8 633.65,698.5 633.75,697.8 633.9,696.4 634,696.1 634.15,693.5 634.25,692.1 634.4,690.0 634.5,688.2 634.65,685.6 634.75,681.6 634.9,678.9 635,674.4 635.15,671.4 635.25,667.5 635.4,662.9 635.5,660.6 635.65,655.3 635.75,653.0 635.9,647.3 636,647.9 636.15,642.5 636.25,642.7 636.4,643.6 636.5,641.7 636.65,645.2 636.75,646.4 636.9,648.6 637,650.9 637.15,655.1 637.25,658.4 637.4,663.4 637.5,666.6 637.65,668.7 637.75,673.5 637.9,677.2 638,678.4 638.15,683.2 638.25,685.2 638.4,687.8 638.5,688.6 638.65,691.2 638.75,692.6 638.9,692.7 639,693.6 639.15,694.4 639.25,696.1 639.4,695.8 639.5,695.5 639.75,695.5 640,695.1 640.25,695.4 640.5,694.5 640.75,692.9 641,688.5 641.1,687.1 641.25,684.6 641.35,682.7 641.5,678.9 641.6,678.4 641.75,673.2 641.85,669.2 642,662.2 642.1,660.8 642.25,653.5 642.35,648.2 642.5,640.6 642.6,634.0 642.75,625.9 642.85,618.9 643,610.1 643.1,603.4 643.25,593.2 643.35,587.4 643.5,580.6 643.6,575.7 643.75,568.8 643.85,565.4 644,562.9 644.1,563.0 644.25,563.0 644.35,566.7 644.5,570.4 644.6,574.4 644.75,582.8 644.85,589.8 645,597.1 645.1,603.7 645.25,612.7 645.35,620.1 645.5,629.4 645.6,635.1 645.75,643.4 645.85,649.2 646,656.9 646.1,660.5 646.25,666.8 646.35,670.3 646.5,675.3 646.6,679.5 646.75,681.8 646.85,684.9 647,688.5 647.1,689.2 647.25,692.1 647.5,695.2 647.75,695.8 648,699.1 648.25,698.9 648.5,700.7 648.75,700.3 649,700.8 649.25,702.3 649.5,704.0 649.75,705.1 650,705.5 650.25,704.9 650.5,705.0 650.75,705.0 651,705.2 651.25,704.6 651.5,704.8 651.75,705.5 652,705.7 652.25,705.1 652.5,704.8 652.75,705.2 653,708.2 653.25,705.4 653.5,707.0 653.75,706.9 654,706.9 654.25,705.8 654.5,707.7 654.75,706.5 655,705.9 655.25,705.9 655.5,706.3 655.75,707.9 656,705.6 656.25,706.0 656.5,706.5 656.75,706.9 657,705.8 657.25,705.8 657.5,706.1 657.75,707.0 658,706.4 658.25,706.3 658.5,706.6 658.75,706.5 659,707.1 659.25,705.8 659.5,706.3 659.75,705.8 660,706.7 660.25,706.7 660.5,705.8 660.75,706.7 661,705.6 661.25,706.5 661.5,705.1 661.75,704.7 662,703.7 662.25,703.5 662.5,703.4 662.75,701.4 663,701.8 663.25,701.2 663.4,700.1 663.5,699.1 663.65,698.4 663.75,696.7 663.9,695.4 664,695.3 664.15,693.1 664.25,692.7 664.4,689.9 664.5,689.4 664.65,687.8 664.75,685.5 664.9,684.6 665,683.0 665.15,678.0 665.25,680.1 665.4,674.9 665.5,676.4 665.65,672.1 665.75,670.0 665.9,669.0 666,669.4 666.15,667.4 666.25,667.4 666.4,668.4 666.5,666.9 666.65,668.5 666.75,669.7 666.9,668.7 667,670.2 667.15,672.9 667.25,674.0 667.4,676.3 667.5,676.1 667.65,679.2 667.75,681.5 667.9,683.9 668,685.8 668.15,686.8 668.25,687.9 668.4,689.7 668.5,690.9 668.65,691.9 668.75,695.6 668.9,695.6 669,696.3 669.15,697.6 669.25,699.2 669.4,699.9 669.5,700.0 669.75,702.5 670,703.1 670.25,703.6 670.5,704.4 670.75,705.7 671,705.8 671.25,705.5 671.5,706.6 671.75,704.5 672,706.7 672.25,705.8 672.5,706.1 672.75,706.4 673,708.0 673.25,706.7 673.5,706.8 673.75,707.4 674,705.6 674.25,706.9 674.5,707.6 674.75,706.5 675,707.6 675.25,706.7 675.5,706.3 675.75,708.0 676,707.5 676.25,708.0 676.5,707.6 676.75,706.7 677,708.2 677.25,707.9 677.5,707.9 677.75,707.3 678,706.9 678.25,708.7 678.5,708.2 678.75,707.8 679,707.3 679.25,708.7 679.5,707.2 679.75,707.2 680,709.3 680.25,708.2 680.5,708.5 680.75,708.3 681,709.3 681.25,708.1 681.5,708.2 681.75,707.3 682,707.9 682.25,706.8 682.5,707.6 682.75,707.9 683,708.4 683.25,708.9 683.5,707.5 683.75,707.2 684,708.1 684.25,707.3 684.5,709.1 684.75,708.8 685,707.3 685.25,708.1 685.5,708.9 685.75,707.3 686,707.6 686.25,707.9 686.5,709.0 686.75,708.3 687,707.8 687.25,708.2 687.5,708.0 687.75,708.1 688,708.4 688.25,708.2 688.5,708.5 688.75,708.0 689,707.8 689.25,707.8 689.5,706.9 689.75,707.7 690,709.3 690.25,708.0 690.5,708.4 690.75,708.6 691,707.7 691.25,707.8 691.5,708.4 691.75,707.4 692,708.7 692.25,708.5 692.5,708.2 692.75,708.2 693,708.6 693.25,708.1 693.5,706.3 693.75,708.4 694,707.4 694.25,707.7 694.5,707.8 694.75,707.8 695,706.9 695.25,706.8 695.5,708.0 695.75,708.1 696,708.4 696.25,707.2 696.5,707.9 696.75,708.6 697,707.8 697.25,707.7 697.5,709.5 697.75,707.0 698,707.6 698.25,707.4 698.5,707.8 698.75,710.3 699,707.4 699.25,707.9 699.5,707.8 699.75,707.6 700,708.7 700.25,707.8 700.5,708.9 700.75,709.1 701,707.8 701.25,709.1 701.5,707.3 701.75,708.4 702,708.9 702.25,707.5 702.5,708.1 702.75,708.5 703,708.6 703.25,708.4 703.5,709.6 703.75,708.1 704,709.0 704.25,709.7 704.5,707.8 704.75,707.9 705,707.5 705.25,708.7 705.5,709.2 705.75,707.0 706,707.5 706.25,707.8 706.5,709.8 706.75,707.9 707,708.5 707.25,707.4 707.5,708.8 707.75,707.5 708,708.2 708.25,707.5 708.5,708.1 708.75,708.1 709,708.4 709.25,708.4 709.5,709.5 709.75,707.7 710,709.1 710.25,708.4 710.5,708.1 710.75,708.4 711,708.4 711.25,708.8 711.5,708.8 711.75,708.6 712,708.4 712.25,707.1 712.5,708.8 712.75,709.0 713,708.5 713.25,708.4 713.5,707.6 713.75,708.4 714,708.8 714.25,707.3 714.5,707.9 714.75,707.8 715,709.1 715.25,707.9 715.5,706.9 715.75,708.3 716,709.1 716.25,708.1 716.5,707.9 716.75,708.3 717,709.4 717.25,708.0 717.5,708.0 717.75,708.5 718,707.7 718.25,707.0 718.5,708.3 718.75,707.9 719,708.4 719.25,708.3 719.5,708.6 719.75,707.4 720,708.4 720.25,707.5 720.5,708.4 720.75,707.9 721,709.3 721.25,707.6 721.5,706.6 721.75,708.3 722,707.8 722.25,707.5 722.5,708.3 722.75,709.3 723,708.0 723.25,707.7 723.5,709.1 723.75,708.9 724,708.1 724.25,707.8 724.5,708.6 724.75,707.6 725,707.7 725.25,707.5 725.5,708.5 725.75,709.1 726,708.1 726.25,709.3 726.5,706.7 726.75,708.1 727,706.9 727.25,708.7 727.5,709.0 727.75,706.8 728,707.5 728.25,708.1 728.5,707.0 728.75,707.4 729,707.3 729.25,708.1 729.5,707.5 729.75,707.2 730,707.4 730.25,707.9 730.5,708.0 730.75,707.8 731,708.8 731.25,707.7 731.5,708.0 731.75,708.3 732,707.7 732.25,708.8 732.5,708.4 732.75,708.4 733,707.3 733.25,707.8 733.5,708.3 733.75,708.6 734,707.4 734.25,707.5 734.5,706.9 734.75,706.8 735,708.6 735.25,707.8 735.5,708.2 735.75,708.5 736,707.7 736.25,707.8 736.5,707.0 736.75,707.3 737,708.0 737.25,708.6 737.5,708.3 737.75,707.1 738,707.1 738.25,708.0 738.5,707.9 738.75,707.9 739,707.6 739.25,708.3 739.5,707.5 739.75,708.3 740,707.6 740.25,707.2 740.5,706.3 740.75,707.2 741,707.5 741.25,706.9 741.5,706.0 741.75,705.3 742,706.2 742.25,707.4 742.5,705.1 742.75,705.2 743,705.2 743.25,705.1 743.5,703.0 743.75,702.7 743.9,702.2 744,700.6 744.15,700.8 744.25,699.1 744.4,698.8 744.5,698.2 744.65,696.5 744.75,694.6 744.9,694.3 745,693.2 745.15,691.0 745.25,690.2 745.4,687.3 745.5,685.7 745.65,684.1 745.75,683.1 745.9,681.3 746,678.9 746.15,677.6 746.25,676.4 746.4,674.5 746.5,672.6 746.65,671.8 746.75,673.2 746.9,671.3 747,671.2 747.15,672.0 747.25,673.3 747.4,675.6 747.5,676.0 747.65,677.1 747.75,678.4 747.9,680.9 748,682.0 748.15,682.9 748.25,686.3 748.4,688.1 748.5,688.1 748.65,690.6 748.75,692.2 748.9,693.9 749,694.5 749.15,696.3 749.25,698.4 749.4,698.2 749.5,699.9 749.65,700.4 749.75,700.1 749.9,702.1 750,702.4 750.25,704.0 750.5,705.1 750.75,705.3 751,705.2 751.25,705.7 751.5,706.1 751.75,705.2 752,705.2 752.25,706.4 752.5,705.1 752.75,705.6 753,706.9 753.25,706.1 753.5,706.1 753.75,704.8 753.8,705.5 754,703.7 754.05,703.6 754.25,703.5 754.3,703.0 754.5,703.7 754.55,702.5 754.75,701.0 754.8,702.1 755,701.1 755.05,701.1 755.25,698.5 755.3,698.4 755.5,696.3 755.55,697.8 755.75,696.4 755.8,695.8 756,696.0 756.05,694.3 756.25,693.6 756.3,693.1 756.5,692.4 756.55,692.9 756.75,692.6 756.8,692.5 757,692.1 757.05,692.1 757.25,693.2 757.3,693.7 757.5,694.1 757.55,694.6 757.75,695.7 757.8,695.6 758,696.4 758.05,697.6 758.25,700.0 758.3,699.5 758.5,700.3 758.55,700.1 758.75,701.2 758.8,702.6 759,702.0 759.05,704.2 759.25,703.8 759.3,704.2 759.5,704.3 759.55,705.4 759.75,705.9 759.8,704.9 760,707.0 760.25,706.3 760.5,705.5 760.75,707.1 761,707.2 761.25,707.2 761.5,707.8 761.75,708.0 762,706.6 762.25,707.3 762.5,707.4 762.75,707.6 763,706.4 763.25,707.8 763.5,707.7 763.75,709.0 764,707.1 764.25,707.4 764.5,708.1 764.75,707.8 765,708.4 765.25,708.7 765.5,707.2 765.75,707.9 766,708.3 766.25,707.4 766.5,709.4 766.75,708.1 767,708.0 767.25,706.9 767.5,707.5 767.75,706.6 768,708.4 768.25,707.4 768.5,708.0 768.75,708.2 769,708.1 769.25,707.7 769.5,708.5 769.75,707.2 770,706.7 770.25,707.0 770.5,708.5 770.75,708.9 771,707.5 771.25,707.6 771.5,708.2 771.75,707.0 772,707.6 772.25,707.0 772.5,708.0 772.75,705.9 773,706.9 773.25,706.7 773.5,707.9 773.75,708.2 774,707.9 774.25,709.3 774.5,707.9 774.75,707.2 775,707.6 775.25,708.3 775.5,708.2 775.75,709.3 776,708.0 776.25,707.2 776.5,707.1 776.75,708.3 777,705.9 777.25,708.0 777.5,708.3 777.75,707.4 778,707.9 778.25,708.6 778.5,708.7 778.75,708.6 779,708.2 779.25,707.4 779.5,706.6 779.75,705.9 780,708.5 780.25,707.9 780.5,706.1 780.75,707.6 781,706.2 781.25,705.9 781.5,705.0 781.6,707.0 781.75,704.3 781.85,704.3 782,705.1 782.1,705.0 782.25,704.3 782.35,702.9 782.5,702.9 782.6,702.1 782.75,701.7 782.85,702.9 783,701.2 783.1,701.1 783.25,699.2 783.35,699.0 783.5,699.0 783.6,699.1 783.75,697.5 783.85,698.3 784,698.4 784.1,695.1 784.25,696.0 784.35,696.3 784.5,695.5 784.6,696.8 784.75,695.8 784.85,696.1 785,695.0 785.1,697.1 785.25,696.6 785.35,697.5 785.5,697.6 785.6,697.8 785.75,698.8 785.85,698.5 786,699.9 786.1,701.3 786.25,701.8 786.35,700.9 786.5,702.8 786.6,702.3 786.75,702.7 786.85,703.9 787,704.5 787.1,703.8 787.25,705.3 787.35,704.9 787.5,706.8 787.6,704.4 787.75,705.6 788,705.9 788.25,705.8 788.5,705.7 788.75,707.7 789,707.1 789.25,706.0 789.5,706.7 789.75,706.8 790,707.3 790.25,706.4 790.5,708.0 790.75,706.9 791,707.8 791.25,707.0 791.5,706.3 791.75,706.1 792,706.3 792.25,705.8 792.5,705.5 792.75,705.5 793,705.4 793.25,703.4 793.5,702.5 793.75,702.5 794,703.6 794.25,702.2 794.5,701.6 794.75,702.1 795,702.4 795.25,701.1 795.5,701.4 795.75,702.4 796,702.7 796.25,702.7 796.5,705.3 796.75,705.1 797,704.5 797.25,705.6 797.5,704.7 797.75,706.5 798,706.1 798.25,706.0 798.5,705.8 798.75,707.5 799,707.2 799.25,706.9 799.5,708.1 799.75,707.3 800,707.8 800.25,707.3 800.5,708.0 800.75,707.0 801,707.5 801.25,707.9 801.5,707.3 801.75,707.5 802,708.4 802.25,707.6 802.5,708.7 802.75,708.3 803,708.0 803.25,707.0 803.5,709.1 803.75,709.0 804,708.2 804.25,708.1 804.5,708.1 804.75,707.8 805,707.9 805.25,708.4 805.5,707.0 805.75,708.1 806,708.4 806.25,706.9 806.5,707.6 806.75,707.0 807,707.1 807.25,708.5 807.5,707.3 807.75,709.9 808,708.0 808.25,707.5 808.5,707.9 808.75,708.1 809,708.3 809.25,708.3 809.5,708.3 809.75,708.9 810,709.0 810.25,708.2 810.5,708.4 810.75,707.6 811,707.7 811.25,707.9 811.5,709.1 811.75,707.7 812,708.3 812.25,708.2 812.5,708.7 812.75,707.7 813,707.9 813.25,708.9 813.5,708.4 813.75,707.8 814,709.0 814.25,708.3 814.5,707.8 814.75,708.8 815,709.4 815.25,707.9 815.5,707.5 815.75,706.6 816,709.5 816.25,707.8 816.5,708.0 816.75,707.5 817,708.1 817.25,707.5 817.5,709.3 817.75,708.7 818,707.8 818.25,707.4 818.5,708.6 818.75,707.6 819,709.1 819.25,708.4 819.5,708.2 819.75,707.4 820,708.4 820.25,707.3 820.5,709.0 820.75,706.9 821,708.0 821.25,709.9 821.5,707.9 821.75,708.7 822,709.0 822.25,708.5 822.5,708.1 822.75,709.0 823,709.0 823.25,707.9 823.5,709.3 823.75,709.2 824,707.6 824.25,708.6 824.5,708.7 824.75,708.4 825,707.8 825.25,707.4 825.5,708.6 825.75,707.2 826,707.9 826.25,706.9 826.5,707.8 826.75,708.4 827,707.3 827.25,708.8 827.5,708.9 827.75,708.6 828,708.7 828.25,709.3 828.5,708.8 828.75,707.1 829,708.2 829.25,707.7 829.5,708.3 829.75,707.1 830,708.3 830.25,708.1 830.5,708.7 830.75,707.6 831,708.1 831.25,706.8 831.5,708.2 831.75,708.2 832,707.3 832.25,708.3 832.5,707.3 832.75,708.6 833,707.7 833.25,708.0 833.5,709.4 833.75,708.7 834,709.3 834.25,709.0 834.5,708.2 834.75,709.3 835,708.5 835.25,708.3 835.5,708.0 835.75,707.5 836,708.7 836.25,708.1 836.5,708.6 836.75,708.2 837,708.7 837.25,707.9 837.5,708.5 837.75,709.0 838,709.2 838.25,708.3 838.5,707.7 838.75,709.3 839,709.2 839.25,707.9 839.5,709.2 839.75,708.7 840,707.7 840.25,708.4 840.5,707.5 840.75,708.1 841,708.1 841.25,708.3 841.5,709.1 841.75,707.3 842,706.2 842.25,708.8 842.5,708.1 842.75,709.0 843,708.9 843.25,709.5 843.5,707.0 843.75,709.4 844,708.3 844.25,708.0 844.5,709.4 844.75,709.2 845,707.4 845.25,707.9 845.5,709.3 845.75,707.4 846,708.6 846.25,708.7 846.5,708.2 846.75,708.0 847,708.9 847.25,708.2 847.5,707.7 847.75,708.8 848,707.3 848.25,708.0 848.5,708.6 848.75,707.4 849,709.4 849.25,708.6 849.5,708.3 849.75,707.6 850,708.5 850.25,708.1 850.5,708.6 850.75,707.9 851,708.5 851.25,707.3 851.5,707.2 851.75,707.7 852,706.9 852.25,708.1 852.5,708.3 852.75,707.1 853,708.1 853.25,707.7 853.5,707.7 853.75,709.1 854,707.9 854.25,708.1 854.5,707.7 854.75,707.8 855,708.1 855.25,708.2 855.5,708.0 855.75,708.9 856,708.0 856.25,708.1 856.5,709.3 856.75,708.3 857,708.7 857.25,708.6 857.5,707.9 857.75,709.1 858,708.3 858.25,708.3 858.5,708.2 858.75,708.4 859,708.7 859.25,706.7 859.5,709.1 859.75,706.7 860,707.3 860.25,708.5 860.5,708.0 860.75,708.6 861,707.3 861.25,708.1 861.5,708.5 861.75,707.5 862,707.6 862.25,708.1 862.5,708.4 862.75,706.3 863,707.8 863.25,708.2 863.5,709.0 863.75,707.2 864,708.1 864.25,707.2 864.5,707.3 864.75,707.5 865,709.1 865.25,708.3 865.5,708.6 865.75,707.8 866,708.6 866.25,707.9 866.5,708.3 866.75,706.8 867,707.2 867.25,708.2 867.5,709.2 867.75,709.0 868,706.9 868.25,707.5 868.5,707.4 868.75,709.3 869,706.9 869.25,707.5 869.5,708.1 869.75,707.7 870,706.2 870.25,708.4 870.5,705.4 870.75,706.8 871,706.1 871.25,705.1 871.5,705.5 871.75,705.0 872,703.8 872.2,703.6 872.25,703.7 872.45,703.2 872.5,701.3 872.7,701.5 872.75,701.7 872.95,701.2 873,700.9 873.2,697.5 873.25,698.0 873.45,697.0 873.5,697.0 873.7,696.0 873.75,694.1 873.95,691.6 874,692.1 874.2,690.4 874.25,689.4 874.45,687.5 874.5,688.1 874.7,685.4 874.75,685.6 874.95,685.1 875,684.9 875.2,684.3 875.25,683.6 875.45,681.8 875.5,683.8 875.7,685.5 875.75,685.8 875.95,687.2 876,686.8 876.2,688.5 876.25,687.8 876.45,689.2 876.5,690.7 876.7,689.7 876.75,690.1 876.95,692.1 877,692.1 877.2,690.9 877.25,693.1 877.45,692.1 877.5,692.2 877.7,693.7 877.75,693.4 877.95,693.7 878,694.4 878.2,694.3 878.25,691.9 878.5,694.4 878.75,695.4 879,695.9 879.25,696.8 879.5,698.4 879.75,699.7 880,700.7 880.25,701.7 880.5,702.1 880.75,703.8 881,703.9 881.25,705.6 881.5,705.2 881.75,705.7 882,705.4 882.25,706.3 882.5,707.1 882.75,706.0 883,707.8 883.25,707.1 883.5,707.0 883.75,707.7 884,707.5 884.25,705.9 884.5,708.0 884.75,707.8 885,707.4 885.25,705.2 885.5,704.7 885.75,706.2 886,708.0 886.25,708.1 886.5,707.5 886.75,707.4 887,705.9 887.25,707.4 887.5,706.8 887.75,707.3 888,706.7 888.25,707.9 888.5,707.1 888.75,707.6 889,707.3 889.25,706.7 889.5,706.1 889.75,706.2 890,706.4 890.25,707.0 890.5,708.2 890.75,706.9 891,706.4 891.25,706.8 891.5,705.0 891.75,705.5 892,704.9 892.25,702.4 892.5,703.3 892.75,701.6 893,700.7 893.25,699.2 893.5,698.0 893.75,695.8 894,695.5 894.25,694.2 894.5,691.6 894.75,691.8 895,691.2 895.25,692.5 895.5,691.8 895.75,693.6 896,694.7 896.25,695.4 896.5,698.7 896.75,699.6 897,699.9 897.25,702.6 897.5,703.7 897.75,702.8 898,704.5 898.25,705.0 898.5,705.6 898.75,706.0 899,706.0 899.25,705.3 899.5,706.7 899.75,705.8 900,706.4 900.25,707.2 900.5,708.1 900.75,707.7 901,706.2 901.25,706.5 901.5,707.5 901.75,706.8 902,706.8 902.25,705.5 902.5,706.3 902.75,706.2 903,706.5 903.25,706.6 903.5,704.8 903.75,706.2 904,705.0 904.25,705.3 904.5,706.4 904.75,705.7 905,706.1 905.25,707.1 905.5,707.7 905.75,706.9 906,705.9 906.25,706.9 906.5,706.5 906.75,706.8 907,707.5 907.25,707.2 907.5,707.5 907.75,707.5 908,707.5 908.25,706.4 908.5,707.6 908.75,707.7 909,708.9 909.25,708.4 909.5,708.1 909.75,707.5 910,708.3 910.25,706.9 910.5,708.4 910.75,707.5 911,707.5 911.25,708.8 911.5,708.0 911.75,707.9 912,707.2 912.25,709.0 912.5,706.2 912.75,708.4 913,708.2 913.25,708.4 913.5,707.6 913.75,707.3 914,709.3 914.25,708.4 914.5,708.7 914.75,706.9 915,708.8 915.25,709.2 915.5,708.7 915.75,706.9 916,707.3 916.25,706.3 916.5,708.3 916.75,708.8 917,708.3 917.25,707.8 917.5,707.4 917.75,708.7 918,707.4 918.25,709.5 918.5,708.5 918.75,709.1 919,708.2 919.25,708.0 919.5,708.5 919.75,707.6 920,708.0 920.25,708.1 920.5,707.5 920.75,708.5 921,707.4 921.25,706.8 921.5,707.9 921.75,708.0 922,707.9 922.25,708.1 922.5,708.2 922.75,708.3 923,708.1 923.25,708.1 923.5,707.0 923.75,708.4 924,708.8 924.25,707.8 924.5,707.5 924.75,708.8 925,707.7 925.25,708.3 925.5,708.5 925.75,709.0 926,710.4 926.25,708.1 926.5,705.9 926.75,708.3 927,707.7 927.25,708.7 927.5,708.5 927.75,708.9 928,708.2 928.25,708.9 928.5,707.9 928.75,708.8 929,707.4 929.25,707.6 929.5,708.1 929.75,708.7 930,707.5 930.25,708.2 930.5,708.6 930.75,708.7 931,707.4 931.25,709.5 931.5,707.9 931.75,708.5 932,709.3 932.25,707.6 932.5,706.8 932.75,709.1 933,707.2 933.25,708.3 933.5,707.6 933.75,709.6 934,708.5 934.25,709.4 934.5,708.6 934.75,707.8 935,708.8 935.25,707.5 935.5,707.8 935.75,708.8 936,708.7 936.25,707.5 936.5,708.1 936.75,708.0 937,707.3 937.25,709.0 937.5,707.3 937.75,708.1 938,708.1 938.25,708.2 938.5,705.9 938.75,708.3 939,707.7 939.25,709.1 939.5,707.1 939.75,708.9 940,708.6 940.25,707.6 940.5,708.3 940.75,708.6 941,707.2 941.25,706.9 941.5,707.9 941.75,708.6 942,708.4 942.25,708.2 942.5,707.7 942.75,707.8 943,708.8 943.25,708.5 943.5,709.3 943.75,708.6 944,708.3 944.25,707.9 944.5,708.1 944.75,709.2 945,707.8 945.25,707.9 945.5,708.3 945.75,708.5 946,709.1 946.25,708.1 946.5,709.7 946.75,708.2 947,708.3 947.25,708.4 947.5,709.1 947.75,708.8 948,708.3 948.25,707.4 948.5,707.2 948.75,708.3 949,708.3 949.25,708.0 949.5,708.3 949.75,707.6 950,708.2 950.25,709.0 950.5,708.4 950.75,708.1 951,708.2 951.25,708.7 951.5,707.6 951.75,707.7 952,707.4 952.25,706.7 952.5,708.9 952.75,708.4 953,707.4 953.25,709.2 953.5,707.4 953.75,708.2 954,707.3 954.25,708.8 954.5,708.2 954.75,708.3 955,708.2 955.25,709.4 955.5,706.1 955.75,707.4 956,707.8 956.25,708.1 956.5,707.6 956.75,707.6 957,708.2 957.25,708.2 957.5,707.1 957.75,708.3 958,707.4 958.25,707.5 958.5,708.7 958.75,708.2 959,705.7 959.25,707.5 959.5,707.5 959.75,706.9 960,706.1 960.25,707.4 960.5,705.7 960.75,705.7 961,704.8 961.25,704.6 961.5,703.0 961.75,704.0 962,701.5 962.25,700.5 962.5,698.4 962.75,697.6 963,695.5 963.25,691.4 963.5,687.9 963.75,684.6 964,680.3 964.25,677.0 964.5,674.6 964.75,673.2 965,671.9 965.25,672.7 965.5,674.4 965.75,677.1 966,679.5 966.2,681.3 966.25,682.2 966.45,683.6 966.5,685.8 966.7,687.5 966.75,687.8 966.95,687.8 967,689.1 967.2,690.7 967.25,690.5 967.45,692.1 967.5,690.6 967.7,692.5 967.75,692.9 967.95,691.8 968,691.8 968.2,691.1 968.25,692.3 968.45,691.4 968.5,691.4 968.7,690.7 968.75,691.5 968.95,691.0 969,690.9 969.2,690.9 969.25,691.5 969.45,691.4 969.5,691.4 969.7,692.3 969.75,692.6 969.95,693.2 970,695.5 970.2,696.6 970.25,694.6 970.45,696.5 970.5,696.6 970.7,699.6 970.75,698.5 970.95,700.3 971,699.7 971.2,701.1 971.25,702.1 971.45,703.9 971.5,702.7 971.7,704.4 971.75,704.7 971.95,705.1 972,705.3 972.2,704.4 972.25,705.7 972.5,705.6 972.75,704.5 973,706.6 973.25,706.5 973.5,706.1 973.75,707.2 974,706.3 974.25,706.7 974.5,706.7 974.75,708.1 975,706.7 975.25,708.5 975.5,707.6 975.75,708.2 976,707.4 976.25,707.3 976.5,707.4 976.75,707.8 977,707.4 977.25,707.6 977.5,706.2 977.75,707.6 978,707.7 978.25,707.0 978.5,706.8 978.75,706.5 979,705.6 979.25,705.0 979.5,705.5 979.75,705.5 980,705.2 980.25,705.5 980.5,704.8 980.75,705.2 981,704.7 981.25,704.7 981.5,706.7 981.75,706.1 982,706.0 982.25,705.6 982.5,706.8 982.75,708.0 983,706.4 983.25,706.8 983.5,707.5 983.75,706.7 984,706.1 984.25,708.1 984.5,707.5 984.75,708.5 985,708.4 985.25,707.9 985.5,706.9 985.75,708.8 986,708.3 986.25,708.1 986.5,708.1 986.75,708.1 987,708.4 987.25,707.3 987.5,708.2 987.75,707.4 988,707.5 988.25,708.1 988.5,707.8 988.75,708.2 989,708.1 989.25,707.7 989.5,708.6 989.75,708.4 990,707.9 990.25,707.6 990.5,709.1 990.75,707.1 991,708.5 991.25,707.6 991.5,708.7 991.75,708.0 992,709.4 992.25,708.5 992.5,707.9 992.75,707.7 993,708.6 993.25,708.1 993.5,707.0 993.75,707.3 994,706.9 994.25,709.3 994.5,709.2 994.75,708.1 995,709.0 995.25,708.0 995.5,708.0 995.75,708.1 996,708.6 996.25,707.8 996.5,708.5 996.75,708.2 997,706.9 997.25,707.2 997.5,708.7"/>
<polyline fill="none" stroke="#f00" stroke-width="4.8" stroke-linejoin="round" stroke-linecap="round" points="60.5,524.2 60.75,521.0 61,523.1 61.25,522.4 61.5,522.5 61.75,522.6 62,521.4 62.25,522.6 62.5,522.2 62.75,525.1 63,522.9 63.25,522.5 63.5,522.6 63.75,522.3 64,522.1 64.25,522.5 64.5,523.1 64.75,522.6 65,523.5 65.25,522.7 65.5,522.8 65.75,523.9 66,523.2 66.25,522.4 66.5,522.7 66.75,523.2 67,524.1 67.25,522.6 67.5,522.6 67.75,523.5 68,522.2 68.25,522.6 68.5,523.4 68.75,523.2 69,522.9 69.25,523.3 69.5,520.8 69.75,523.5 70,522.1 70.25,521.6 70.5,523.0 70.75,523.3 71,522.5 71.25,522.0 71.5,522.8 71.75,522.8 72,523.8 72.25,523.3 72.5,522.9 72.75,523.6 73,522.6 73.25,522.1 73.5,523.2 73.75,523.2 74,522.6 74.25,522.2 74.5,523.0 74.75,521.0 75,523.3 75.25,523.1 75.5,521.6 75.75,522.8 76,522.1 76.25,523.3 76.5,521.4 76.75,522.2 77,523.3 77.25,523.6 77.5,521.3 77.75,522.4 78,523.0 78.25,522.4 78.5,523.9 78.75,522.0 79,523.0 79.25,522.1 79.5,523.8 79.75,522.8 80,522.5 80.25,521.6 80.5,524.0 80.75,523.3 81,523.3 81.25,523.6 81.5,523.0 81.75,522.3 82,522.2 82.25,522.2 82.5,523.8 82.75,521.8 83,522.4 83.25,522.6 83.5,523.0 83.75,523.2 84,521.9 84.25,521.6 84.5,522.8 84.75,523.6 85,523.3 85.25,522.9 85.5,522.6 85.75,523.0 86,522.6 86.25,523.4 86.5,522.2 86.75,522.9 87,522.7 87.25,523.2 87.5,523.0 87.75,524.6 88,523.8 88.25,523.8 88.5,521.4 88.75,522.6 89,522.4 89.25,523.2 89.5,521.2 89.75,523.6 90,523.5 90.25,521.9 90.5,522.1 90.75,522.2 91,522.8 91.25,523.2 91.5,524.2 91.75,522.7 92,523.3 92.25,522.9 92.5,524.0 92.75,523.3 93,523.8 93.25,522.0 93.5,522.7 93.75,522.2 94,523.9 94.25,523.3 94.5,522.6 94.75,522.5 95,523.1 95.25,522.3 95.5,522.1 95.75,523.1 96,524.5 96.25,522.6 96.5,522.4 96.75,522.0 97,521.9 97.25,523.2 97.5,523.4 97.75,522.8 98,523.0 98.25,522.9 98.5,522.9 98.75,521.7 99,522.5 99.25,522.9 99.5,522.2 99.75,522.5 100,522.2 100.25,522.6 100.5,523.4 100.75,522.5 101,522.7 101.25,523.4 101.5,523.2 101.75,524.0 102,521.3 102.25,523.4 102.5,522.5 102.75,522.9 103,523.4 103.25,523.6 103.5,523.5 103.75,522.9 104,523.9 104.25,522.6 104.5,522.7 104.75,523.4 105,522.4 105.25,524.3 105.5,523.5 105.75,524.3 106,522.8 106.25,522.5 106.5,522.9 106.75,523.3 107,522.4 107.25,523.1 107.5,522.8 107.75,523.9 108,522.3 108.25,523.5 108.5,522.3 108.75,522.1 109,522.3 109.25,522.0 109.5,522.9 109.75,523.5 110,522.9 110.25,523.2 110.5,523.9 110.75,523.0 111,522.9 111.25,522.6 111.5,521.7 111.75,523.3 112,521.6 112.25,523.3 112.5,522.8 112.75,523.6 113,522.7 113.25,522.2 113.5,523.0 113.75,522.4 114,522.7 114.25,522.8 114.5,522.7 114.75,522.7 115,522.2 115.25,522.7 115.5,521.3 115.75,522.7 116,522.0 116.25,523.6 116.5,523.7 116.75,521.4 117,522.9 117.25,522.7 117.5,522.1 117.75,523.2 118,522.5 118.25,521.6 118.5,522.6 118.75,522.7 119,522.9 119.25,521.9 119.5,523.2 119.75,523.3 120,522.0 120.25,522.3 120.5,522.7 120.75,522.4 121,524.0 121.25,522.9 121.5,522.1 121.75,522.2 122,522.7 122.25,524.4 122.5,522.7 122.75,522.9 123,523.1 123.25,522.8 123.5,524.4 123.75,522.4 124,523.3 124.25,522.9 124.5,523.2 124.75,522.0 125,524.0 125.25,522.7 125.5,522.8 125.75,522.1 126,522.3 126.25,523.2 126.5,523.5 126.75,523.3 127,523.6 127.25,523.3 127.5,522.8 127.75,523.4 128,523.2 128.25,522.7 128.5,523.3 128.75,523.7 129,522.9 129.25,522.5 129.5,523.3 129.75,524.1 130,522.6 130.25,522.7 130.5,522.7 130.75,523.6 131,521.5 131.25,523.0 131.5,523.6 131.75,522.2 132,523.8 132.25,523.1 132.5,522.4 132.75,522.9 133,521.7 133.25,522.3 133.5,524.0 133.75,522.1 134,524.0 134.25,522.7 134.5,523.4 134.75,522.8 135,521.2 135.25,522.3 135.5,522.9 135.75,521.9 136,521.8 136.25,523.0 136.5,522.3 136.75,521.5 137,522.2 137.25,523.3 137.5,522.4 137.75,523.3 138,523.8 138.25,522.7 138.5,521.9 138.75,521.8 139,522.7 139.25,523.3 139.5,522.9 139.75,523.0 140,522.3 140.25,522.9 140.5,522.3 140.75,522.4 141,521.7 141.25,521.5 141.5,522.3 141.75,521.8 142,521.9 142.25,523.1 142.5,522.5 142.75,524.6 143,523.2 143.25,522.1 143.5,523.1 143.75,522.8 144,522.0 144.25,523.3 144.5,521.9 144.75,520.3 145,523.0 145.25,522.0 145.5,523.5 145.75,521.9 146,521.6 146.25,523.4 146.5,521.6 146.75,522.5 147,523.3 147.25,522.3 147.5,522.2 147.75,522.3 148,522.7 148.25,521.5 148.5,522.5 148.75,522.4 149,523.6 149.25,521.6 149.5,521.2 149.75,522.2 150,521.4 150.25,521.7 150.5,521.5 150.75,522.1 151,520.7 151.25,520.9 151.5,519.0 151.75,519.9 152,521.2 152.25,519.2 152.5,518.7 152.75,517.6 153,517.9 153.25,516.5 153.5,514.0 153.75,513.5 154,511.0 154.25,508.7 154.5,504.7 154.75,503.2 155,498.9 155.25,495.3 155.5,492.2 155.75,490.5 156,490.6 156.25,490.5 156.5,493.3 156.75,495.7 157,499.5 157.25,502.5 157.5,505.1 157.75,506.8 158,511.0 158.25,513.6 158.5,515.0 158.75,516.8 159,517.2 159.25,518.2 159.5,518.5 159.75,520.7 160,520.3 160.25,520.1 160.5,519.8 160.75,520.9 161,522.2 161.25,521.6 161.5,520.9 161.75,522.5 162,522.6 162.25,522.4 162.5,522.4 162.75,522.7 163,522.3 163.25,522.5 163.5,521.5 163.75,523.2 164,522.3 164.25,523.6 164.5,520.8 164.75,522.7 165,523.0 165.25,522.1 165.5,522.7 165.75,522.9 166,522.8 166.25,522.0 166.5,522.3 166.75,523.2 167,523.4 167.25,522.6 167.5,522.6 167.75,522.7 168,523.3 168.25,521.8 168.5,521.6 168.75,522.6 169,521.8 169.25,522.2 169.5,522.7 169.75,522.9 170,521.9 170.25,523.2 170.5,521.4 170.75,523.0 171,521.5 171.25,521.8 171.5,523.1 171.75,522.4 172,522.1 172.25,522.4 172.5,523.0 172.75,522.6 173,522.7 173.25,523.4 173.5,522.2 173.75,522.4 174,522.3 174.25,523.5 174.5,523.4 174.75,523.6 175,522.7 175.25,522.6 175.5,523.3 175.75,522.4 176,523.3 176.25,523.2 176.5,522.2 176.75,522.7 177,522.7 177.25,524.0 177.5,524.6 177.75,522.7 178,522.8 178.25,521.2 178.5,522.9 178.75,522.7 179,522.0 179.25,523.3 179.5,521.7 179.75,522.6 180,522.9 180.25,521.9 180.5,523.4 180.75,523.5 181,521.8 181.25,521.8 181.5,523.2 181.75,522.8 182,521.9 182.25,522.6 182.5,522.7 182.75,522.7 183,523.4 183.25,523.1 183.5,524.0 183.75,523.7 184,523.3 184.25,523.5 184.5,523.7 184.75,523.3 185,521.9 185.25,523.4 185.5,522.8 185.75,523.9 186,522.9 186.25,523.2 186.5,523.0 186.75,524.0 187,522.9 187.25,522.6 187.5,523.0 187.75,522.5 188,522.9 188.25,522.8 188.5,523.0 188.75,524.1 189,522.5 189.25,522.8 189.5,522.7 189.75,523.3 190,522.0 190.25,522.3 190.5,522.8 190.75,523.2 191,522.8 191.25,522.5 191.5,522.2 191.75,523.2 192,523.8 192.25,523.0 192.5,522.9 192.75,523.1 193,522.2 193.25,522.6 193.5,522.6 193.75,523.0 194,522.8 194.25,522.0 194.5,523.6 194.75,524.0 195,522.6 195.25,523.1 195.5,523.0 195.75,523.4 196,521.8 196.25,523.9 196.5,522.5 196.75,523.7 197,522.9 197.25,522.5 197.5,522.7 197.75,523.4 198,522.2 198.25,522.6 198.5,522.5 198.75,521.6 199,523.7 199.25,523.2 199.5,522.8 199.75,523.6 200,522.1 200.25,522.8 200.5,524.0 200.75,523.5 201,521.3 201.25,520.5 201.5,522.1 201.75,523.5 202,522.5 202.25,522.7 202.5,523.2 202.75,522.2 203,522.9 203.25,523.4 203.5,523.1 203.75,523.1 204,522.4 204.25,523.1 204.5,522.5 204.75,523.7 205,524.6 205.25,522.2 205.5,521.2 205.75,522.5 206,523.0 206.25,523.5 206.5,523.5 206.75,522.2 207,522.1 207.25,523.6 207.5,521.9 207.7,523.4 207.75,522.5 207.95,523.1 208,523.1 208.2,523.1 208.25,523.1 208.45,521.7 208.5,522.6 208.7,522.3 208.75,522.5 208.95,523.0 209,521.9 209.2,521.3 209.25,521.3 209.45,521.3 209.5,522.0 209.7,520.5 209.75,521.8 209.95,520.8 210,520.4 210.2,519.3 210.25,520.3 210.45,520.3 210.5,518.6 210.7,520.5 210.75,520.9 210.95,520.1 211,520.2 211.2,521.9 211.25,521.1 211.45,520.0 211.5,520.7 211.7,521.0 211.75,521.1 211.95,519.9 212,522.1 212.2,521.4 212.25,522.0 212.45,522.0 212.5,522.8 212.7,522.1 212.75,521.8 212.95,522.8 213,523.4 213.2,522.3 213.25,523.5 213.45,522.8 213.5,522.2 213.7,523.7 213.75,522.1 214,523.4 214.25,522.3 214.5,523.0 214.75,521.9 215,522.2 215.25,523.5 215.5,522.9 215.75,522.8 216,522.5 216.25,523.1 216.5,521.8 216.75,522.0 217,522.7 217.25,522.2 217.5,522.3 217.75,522.8 218,522.7 218.25,522.7 218.5,524.0 218.75,523.5 219,523.7 219.25,522.8 219.5,522.5 219.75,521.8 220,522.6 220.25,521.4 220.5,522.4 220.75,523.4 221,524.0 221.25,523.5 221.5,522.2 221.75,523.2 222,522.3 222.25,523.4 222.5,522.8 222.75,523.4 223,524.6 223.25,523.5 223.5,524.5 223.75,523.0 224,522.6 224.25,523.8 224.5,524.0 224.75,522.4 225,522.9 225.25,521.8 225.5,522.7 225.75,523.5 226,522.8 226.25,522.4 226.5,521.9 226.75,523.1 227,523.4 227.25,523.3 227.5,523.0 227.75,522.0 228,524.1 228.25,522.8 228.5,522.7 228.75,523.4 229,521.3 229.25,522.8 229.5,522.7 229.75,523.1 230,523.8 230.25,523.2 230.5,521.6 230.75,522.6 231,523.0 231.25,522.9 231.5,521.9 231.75,521.7 232,523.2 232.25,523.1 232.5,522.8 232.75,521.6 233,524.1 233.25,520.8 233.5,522.6 233.75,524.3 234,522.7 234.25,523.0 234.5,522.0 234.75,523.8 235,521.9 235.25,523.0 235.5,522.9 235.75,522.1 236,523.5 236.25,521.9 236.5,522.4 236.75,522.8 237,522.6 237.25,523.2 237.5,523.5 237.75,522.6 238,522.5 238.25,522.5 238.5,522.6 238.75,523.4 239,522.7 239.25,523.1 239.5,522.8 239.75,522.3 240,523.5 240.25,522.1 240.5,522.9 240.75,523.9 241,522.1 241.25,522.8 241.5,521.7 241.75,522.5 242,521.8 242.25,522.6 242.5,522.5 242.75,522.9 243,524.0 243.25,523.0 243.5,523.3 243.75,522.8 244,522.7 244.25,522.3 244.5,521.6 244.75,522.9 245,524.0 245.25,523.2 245.5,522.5 245.75,524.0 246,522.5 246.25,522.4 246.5,522.0 246.75,522.2 247,522.7 247.25,524.2 247.5,522.7 247.75,522.1 248,522.4 248.25,522.7 248.5,521.7 248.75,522.9 249,523.3 249.25,523.1 249.5,523.3 249.75,521.9 250,521.7 250.25,523.7 250.5,523.6 250.75,521.8 251,523.0 251.25,522.9 251.5,523.2 251.75,523.0 252,522.5 252.25,523.0 252.5,523.0 252.75,522.8 253,521.6 253.25,520.8 253.5,522.3 253.75,521.7 254,523.0 254.25,523.3 254.5,523.0 254.75,522.6 255,522.9 255.25,523.7 255.5,522.3 255.75,523.5 256,523.3 256.25,523.0 256.5,523.9 256.75,522.3 257,523.5 257.25,522.2 257.5,522.3 257.75,522.1 258,523.2 258.25,522.2 258.5,522.9 258.75,522.1 259,523.6 259.25,524.1 259.5,523.0 259.75,524.0 260,523.2 260.25,524.4 260.5,522.9 260.75,521.7 261,523.9 261.25,522.8 261.5,522.1 261.75,522.4 262,521.7 262.25,522.7 262.5,522.1 262.75,523.9 263,523.3 263.25,521.7 263.5,521.8 263.75,522.5 264,521.5 264.25,522.8 264.5,522.8 264.75,522.3 265,522.5 265.25,523.2 265.5,523.9 265.75,523.9 266,522.9 266.25,523.5 266.5,522.3 266.75,523.1 267,522.2 267.25,523.4 267.5,522.0 267.75,522.2 268,522.9 268.25,523.3 268.5,521.9 268.75,522.5 269,523.0 269.25,523.0 269.5,522.3 269.75,522.9 270,522.7 270.25,523.8 270.5,523.3 270.75,521.9 271,521.3 271.25,522.9 271.5,523.7 271.75,523.0 272,523.5 272.25,522.5 272.5,521.9 272.75,523.4 273,522.9 273.25,523.3 273.5,521.9 273.75,523.0 274,522.4 274.25,523.4 274.5,522.5 274.75,522.4 275,522.5 275.25,523.8 275.5,522.9 275.75,522.3 276,522.2 276.25,522.1 276.5,523.9 276.75,521.6 277,522.3 277.25,523.3 277.5,523.7 277.75,522.8 278,523.4 278.25,523.4 278.5,523.6 278.75,522.9 279,524.0 279.25,523.0 279.5,524.0 279.75,522.1 280,523.5 280.25,522.0 280.5,521.8 280.75,523.2 281,522.3 281.25,523.2 281.5,522.1 281.75,524.0 282,522.9 282.25,522.1 282.5,523.0 282.75,523.5 283,522.4 283.25,523.3 283.5,524.3 283.75,523.5 284,522.9 284.25,522.5 284.5,523.3 284.75,521.8 285,520.8 285.25,522.4 285.5,522.2 285.75,524.1 286,523.0 286.25,522.2 286.5,522.1 286.75,523.3 287,522.3 287.25,522.5 287.5,522.8 287.75,523.0 288,523.0 288.25,523.0 288.5,523.8 288.75,524.1 289,521.8 289.25,524.7 289.5,523.0 289.75,523.8 290,522.4 290.25,523.1 290.5,523.1 290.75,523.0 291,523.5 291.25,523.4 291.5,522.2 291.75,522.8 292,523.4 292.25,523.4 292.5,522.7 292.75,522.7 293,522.8 293.25,522.1 293.5,522.0 293.75,524.0 294,522.6 294.25,523.0 294.5,522.4 294.75,523.8 295,524.1 295.25,522.7 295.5,523.3 295.75,522.4 296,524.1 296.25,523.5 296.5,522.3 296.75,523.8 297,523.1 297.25,523.2 297.5,523.1 297.75,522.4 298,522.5 298.25,523.3 298.5,522.8 298.75,522.2 299,524.3 299.25,522.7 299.5,522.5 299.75,522.4 300,523.3 300.25,523.5 300.5,523.0 300.75,523.5 301,521.8 301.25,522.6 301.5,522.5 301.75,522.8 302,523.2 302.25,521.4 302.5,525.0 302.75,522.2 303,523.1 303.25,523.4 303.5,523.4 303.75,523.0 304,520.8 304.25,522.0 304.5,523.3 304.75,522.1 305,522.0 305.25,521.1 305.5,523.6 305.75,523.1 306,522.1 306.25,522.6 306.5,522.7 306.75,521.9 307,522.5 307.25,522.9 307.5,523.1 307.75,523.6 308,522.7 308.25,522.3 308.5,522.9 308.75,522.2 309,521.8 309.25,523.4 309.5,522.4 309.75,522.7 310,523.1 310.25,521.8 310.5,523.0 310.75,522.9 311,522.5 311.25,522.8 311.5,522.0 311.75,521.0 312,522.3 312.25,521.8 312.5,523.1 312.75,522.6 313,522.1 313.25,522.4 313.5,523.3 313.75,523.2 314,522.6 314.25,522.6 314.5,522.1 314.75,522.2 315,522.6 315.25,522.1 315.5,522.4 315.75,521.3 316,520.9 316.25,520.9 316.5,521.7 316.75,522.9 317,522.7 317.25,521.2 317.5,520.7 317.75,522.3 318,522.0 318.25,520.6 318.5,522.3 318.75,521.6 319,522.3 319.25,521.5 319.5,521.8 319.75,521.2 320,520.2 320.25,520.6 320.5,520.1 320.75,520.9 321,519.4 321.25,518.8 321.5,520.1 321.75,520.0 322,519.8 322.25,519.0 322.5,516.5 322.75,516.1 323,515.0 323.2,514.2 323.25,512.4 323.45,512.4 323.5,512.2 323.7,509.4 323.75,509.6 323.95,508.0 324,506.6 324.2,504.5 324.25,503.7 324.45,499.9 324.5,499.0 324.7,494.8 324.75,494.9 324.95,489.7 325,488.5 325.2,485.3 325.25,483.2 325.45,480.1 325.5,479.6 325.7,475.5 325.75,474.8 325.95,473.1 326,472.6 326.2,470.3 326.25,470.5 326.45,473.3 326.5,473.1 326.7,473.8 326.75,475.1 326.95,479.5 327,479.8 327.2,484.8 327.25,485.5 327.45,489.9 327.5,489.8 327.7,494.9 327.75,496.8 327.95,498.5 328,500.8 328.2,503.7 328.25,504.2 328.45,506.3 328.5,506.1 328.7,508.5 328.75,510.1 328.95,512.0 329,512.6 329.2,513.7 329.25,514.0 329.5,514.3 329.75,514.7 330,516.3 330.25,517.0 330.5,517.1 330.75,516.2 331,517.0 331.25,516.4 331.5,517.5 331.75,516.6 332,517.1 332.25,517.3 332.5,517.0 332.75,517.6 333,515.5 333.25,514.3 333.5,515.9 333.75,515.5 334,514.7 334.25,512.7 334.5,511.4 334.75,509.2 335,505.6 335.2,503.6 335.25,503.6 335.45,499.5 335.5,500.3 335.7,493.7 335.75,493.3 335.95,489.2 336,486.6 336.2,479.9 336.25,478.1 336.45,471.2 336.5,470.8 336.7,461.7 336.75,459.6 336.95,449.8 337,448.5 337.2,438.6 337.25,435.6 337.45,427.0 337.5,425.4 337.7,418.6 337.75,416.2 337.95,411.6 338,411.8 338.2,408.4 338.25,408.2 338.45,412.0 338.5,412.6 338.7,417.8 338.75,419.8 338.95,427.3 339,430.0 339.2,438.5 339.25,441.6 339.45,449.6 339.5,452.1 339.7,461.7 339.75,463.5 339.95,472.5 340,473.9 340.2,480.7 340.25,482.9 340.45,488.4 340.5,489.1 340.7,494.4 340.75,495.8 340.95,500.1 341,501.4 341.2,505.2 341.25,505.6 341.5,509.5 341.75,511.5 342,512.3 342.25,515.0 342.5,515.8 342.75,515.5 343,516.8 343.25,518.0 343.5,517.9 343.75,518.9 344,518.8 344.25,519.4 344.5,519.0 344.75,519.7 345,519.5 345.25,520.4 345.5,519.0 345.75,520.6 346,521.4 346.25,521.1 346.5,520.8 346.75,521.3 347,520.4 347.25,520.6 347.5,521.0 347.75,521.2 348,522.1 348.25,520.9 348.5,522.3 348.75,520.6 349,521.2 349.25,521.8 349.5,522.7 349.75,521.5 350,520.5 350.25,522.3 350.5,522.0 350.75,521.3 351,521.4 351.25,521.7 351.5,522.3 351.75,522.7 352,521.2 352.25,523.9 352.5,522.3 352.75,522.1 353,522.9 353.25,522.5 353.5,524.1 353.75,523.2 354,522.2 354.25,522.2 354.5,522.2 354.75,522.3 355,523.0 355.25,522.1 355.5,523.7 355.75,522.6 356,522.5 356.25,523.3 356.5,521.3 356.75,522.0 357,523.1 357.25,522.7 357.5,522.7 357.75,523.0 358,522.3 358.25,522.6 358.5,521.8 358.75,521.5 359,523.7 359.25,522.2 359.5,522.3 359.75,523.8 360,523.6 360.25,522.5 360.5,522.5 360.75,522.8 361,522.2 361.25,523.3 361.5,523.0 361.75,523.0 362,523.4 362.25,523.4 362.5,524.2 362.75,524.0 363,521.7 363.25,523.6 363.5,522.2 363.75,521.9 364,523.5 364.25,522.5 364.5,522.7 364.75,523.7 365,522.5 365.25,522.4 365.5,523.2 365.75,523.8 366,523.4 366.25,521.9 366.5,522.5 366.75,522.9 367,524.4 367.25,523.6 367.5,523.6 367.75,523.9 368,522.8 368.25,523.4 368.5,523.4 368.75,522.4 369,523.0 369.25,523.4 369.5,522.3 369.75,523.6 370,523.6 370.25,523.8 370.5,522.5 370.75,523.1 371,524.1 371.25,523.6 371.5,522.5 371.75,523.2 372,524.1 372.25,523.0 372.5,523.4 372.75,524.9 373,523.1 373.25,523.0 373.5,522.4 373.75,522.6 374,524.1 374.25,523.0 374.5,522.3 374.75,522.4 375,523.1 375.25,523.6 375.5,522.6 375.75,523.6 376,522.8 376.25,523.4 376.5,523.5 376.75,523.5 377,522.8 377.25,523.0 377.5,523.5 377.75,522.2 378,523.2 378.25,523.5 378.5,523.8 378.75,523.1 379,523.0 379.25,523.2 379.5,522.6 379.75,522.9 380,523.4 380.25,523.3 380.5,522.3 380.75,522.8 381,521.6 381.25,523.6 381.5,522.7 381.75,523.2 382,522.3 382.25,523.0 382.5,523.3 382.75,523.7 383,522.1 383.25,523.6 383.5,522.9 383.75,522.4 384,523.3 384.25,522.7 384.5,522.7 384.75,522.4 385,523.0 385.25,522.9 385.5,522.7 385.75,522.1 386,522.3 386.25,522.9 386.5,523.4 386.75,522.4 387,523.2 387.25,522.0 387.5,521.0 387.75,521.9 388,520.4 388.25,520.9 388.5,520.9 388.75,519.4 389,519.1 389.25,520.4 389.5,518.4 389.75,518.2 390,518.4 390.25,517.9 390.5,518.2 390.75,518.9 391,517.5 391.25,520.7 391.5,519.4 391.75,519.9 392,521.5 392.25,521.5 392.5,520.9 392.75,522.2 393,521.4 393.25,521.9 393.5,521.5 393.75,522.1 394,523.0 394.25,522.9 394.5,523.1 394.75,523.5 395,522.9 395.25,522.5 395.5,522.8 395.75,524.2 396,523.1 396.25,523.3 396.5,523.0 396.75,523.2 397,523.4 397.25,523.1 397.5,523.0 397.75,522.6 398,522.5 398.25,523.4 398.5,523.7 398.75,523.8 399,523.2 399.25,522.6 399.5,523.6 399.75,523.6 400,522.1 400.25,523.7 400.5,523.6 400.75,524.4 401,522.4 401.25,522.3 401.5,523.8 401.75,522.0 402,522.7 402.25,522.5 402.5,522.5 402.75,521.9 403,523.1 403.25,523.9 403.5,523.5 403.75,523.6 404,523.0 404.25,524.3 404.5,523.6 404.75,524.0 405,522.2 405.25,523.5 405.5,522.5 405.75,523.5 406,523.4 406.25,522.5 406.5,523.4 406.75,524.1 407,523.6 407.25,523.7 407.5,522.7 407.75,522.8 408,522.5 408.25,523.4 408.5,524.1 408.75,523.6 409,523.3 409.25,522.5 409.5,523.6 409.75,523.1 410,522.0 410.25,522.1 410.5,523.1 410.75,522.7 411,524.5 411.25,523.3 411.5,522.6 411.75,523.0 412,524.4 412.25,522.6 412.5,523.8 412.75,523.6 413,524.3 413.25,523.7 413.5,523.0 413.75,523.7 414,523.4 414.25,524.0 414.5,523.3 414.75,524.7 415,523.3 415.25,523.6 415.5,522.9 415.75,523.4 416,523.3 416.25,523.4 416.5,524.0 416.75,523.0 417,522.7 417.25,524.1 417.5,523.1 417.75,522.9 418,524.1 418.25,523.9 418.5,521.5 418.75,523.1 419,523.9 419.25,523.9 419.5,523.0 419.75,524.4 420,522.8 420.25,523.2 420.5,523.4 420.75,523.3 421,523.9 421.25,524.1 421.5,523.3 421.75,524.3 422,522.9 422.25,523.2 422.5,524.6 422.75,523.4 423,524.1 423.25,523.1 423.5,523.2 423.75,523.3 424,523.5 424.25,523.1 424.5,523.4 424.75,523.8 425,524.2 425.25,523.4 425.5,523.8 425.75,524.0 426,522.6 426.25,522.3 426.5,524.5 426.75,524.3 427,523.4 427.25,523.6 427.5,522.7 427.75,522.4 428,523.6 428.25,522.3 428.5,524.0 428.75,522.9 429,523.6 429.25,524.7 429.5,524.7 429.75,523.2 430,524.1 430.25,522.6 430.5,523.0 430.75,523.6 431,524.3 431.25,523.0 431.5,523.7 431.75,523.4 432,522.5 432.25,523.3 432.5,524.4 432.75,523.3 433,523.7 433.25,523.9 433.5,522.8 433.75,524.2 434,524.4 434.25,524.5 434.5,524.3 434.75,523.0 435,522.9 435.25,522.8 435.5,522.7 435.75,522.8 436,524.0 436.25,524.3 436.5,522.9 436.75,523.9 437,522.4 437.25,523.1 437.5,522.6 437.75,522.2 438,523.3 438.25,523.4 438.5,523.0 438.75,522.9 439,522.6 439.25,523.2 439.5,522.9 439.75,523.4 440,522.4 440.25,523.4 440.5,523.6 440.75,524.1 441,524.0 441.25,523.4 441.5,522.8 441.75,522.0 442,523.2 442.25,524.2 442.5,524.4 442.75,521.4 443,522.7 443.25,522.9 443.5,522.4 443.75,523.3 444,523.2 444.25,522.8 444.5,523.1 444.75,522.0 445,522.4 445.25,522.4 445.5,523.7 445.75,521.9 446,522.9 446.25,523.5 446.5,522.9 446.75,523.5 447,522.5 447.25,523.2 447.5,523.5 447.75,524.4 448,523.3 448.25,523.7 448.5,522.7 448.75,522.7 449,523.7 449.25,522.9 449.5,523.4 449.75,522.9 450,523.8 450.25,523.8 450.5,521.5 450.75,523.2 451,522.1 451.25,521.9 451.5,521.2 451.75,521.5 452,519.8 452.25,519.6 452.5,518.9 452.75,518.8 452.8,519.0 453,518.1 453.05,517.6 453.25,515.8 453.3,514.7 453.5,515.0 453.55,514.5 453.75,513.1 453.8,513.5 454,510.6 454.05,510.1 454.25,506.7 454.3,508.2 454.5,505.7 454.55,504.7 454.75,503.4 454.8,501.9 455,500.2 455.05,501.5 455.25,498.9 455.3,498.7 455.5,497.4 455.55,497.1 455.75,496.3 455.8,497.7 456,496.4 456.05,497.1 456.25,497.5 456.3,497.8 456.5,498.0 456.55,498.8 456.75,503.2 456.8,503.7 457,504.4 457.05,505.2 457.25,507.8 457.3,507.1 457.5,511.0 457.55,509.5 457.75,511.5 457.8,510.5 458,515.1 458.05,514.4 458.25,516.8 458.3,515.3 458.5,517.3 458.55,517.4 458.75,518.3 458.8,519.9 459,520.7 459.25,520.8 459.5,520.1 459.75,521.5 460,522.1 460.25,521.9 460.5,522.1 460.75,522.2 461,521.4 461.25,522.3 461.5,523.4 461.75,521.7 462,522.5 462.25,523.1 462.5,521.6 462.75,522.5 463,521.5 463.25,522.3 463.5,521.8 463.75,522.2 464,522.5 464.25,522.7 464.5,522.8 464.75,521.3 465,524.1 465.25,522.8 465.5,522.3 465.75,522.6 466,523.3 466.25,522.4 466.5,522.8 466.75,522.8 467,523.5 467.25,522.6 467.5,523.5 467.75,523.4 468,523.1 468.25,524.1 468.5,523.2 468.75,522.4 469,523.4 469.25,523.3 469.5,523.2 469.75,523.4 470,524.9 470.25,523.4 470.5,523.6 470.75,523.1 471,524.2 471.25,523.3 471.5,522.7 471.75,522.4 472,523.7 472.25,523.8 472.5,522.2 472.75,522.8 473,523.8 473.25,524.0 473.5,522.4 473.75,523.0 474,523.9 474.25,523.0 474.5,523.0 474.75,523.0 475,522.4 475.25,523.4 475.5,523.6 475.75,522.4 476,523.4 476.25,524.1 476.5,523.5 476.75,524.0 477,523.0 477.25,524.3 477.5,522.8 477.75,524.7 478,523.0 478.25,522.9 478.5,522.7 478.75,523.1 479,523.0 479.25,522.9 479.5,523.1 479.75,523.8 480,524.0 480.25,523.1 480.5,524.2 480.75,522.7 481,522.6 481.25,522.6 481.5,523.8 481.75,522.3 482,522.4 482.25,524.2 482.5,524.5 482.75,524.3 483,522.3 483.25,523.3 483.5,523.9 483.75,523.4 484,522.2 484.25,523.1 484.5,522.1 484.75,522.4 485,524.8 485.25,523.8 485.5,522.3 485.75,522.2 486,523.6 486.25,522.9 486.5,523.7 486.75,522.8 487,523.1 487.25,523.4 487.5,522.5 487.75,521.9 488,522.4 488.25,522.7 488.5,523.1 488.75,523.2 489,523.2 489.25,523.5 489.5,522.6 489.75,524.1 490,524.6 490.25,523.4 490.5,523.3 490.75,524.0 491,523.6 491.25,523.2 491.5,523.0 491.75,522.5 492,522.2 492.25,523.5 492.5,523.8 492.75,522.3 493,522.9 493.25,523.1 493.5,522.6 493.75,522.4 494,522.6 494.25,521.5 494.5,522.8 494.75,522.6 495,524.3 495.25,523.4 495.5,522.5 495.75,522.7 496,523.8 496.25,523.7 496.5,522.7 496.75,522.4 497,521.4 497.25,522.2 497.5,522.2 497.75,521.7 498,523.4 498.25,520.8 498.5,521.9 498.75,522.2 499,522.2 499.25,522.9 499.5,520.7 499.75,521.0 500,521.4 500.25,521.3 500.5,520.8 500.75,520.3 501,521.4 501.25,519.7 501.5,519.8 501.75,520.9 502,520.8 502.25,519.8 502.5,518.2 502.75,517.7 503,517.0 503.25,516.1 503.5,515.6 503.75,515.6 504,513.3 504.25,510.6 504.5,507.9 504.75,504.2 505,501.6 505.25,494.0 505.5,489.2 505.75,480.5 506,472.2 506.25,462.6 506.5,454.7 506.75,444.7 507,438.7 507.25,430.6 507.5,428.6 507.75,431.7 508,437.2 508.25,444.5 508.5,452.6 508.75,464.7 509,473.4 509.25,481.8 509.5,488.6 509.75,495.9 510,500.4 510.25,505.1 510.5,508.3 510.75,512.0 511,512.8 511.25,514.5 511.5,516.7 511.75,517.1 512,517.6 512.25,518.1 512.5,519.4 512.75,518.8 513,519.9 513.25,521.3 513.5,520.5 513.75,519.9 514,519.8 514.25,521.0 514.5,520.2 514.75,520.1 515,520.9 515.25,520.8 515.5,522.3 515.75,520.8 516,523.0 516.25,521.4 516.5,522.1 516.75,522.6 517,522.4 517.25,522.8 517.5,521.7 517.75,520.8 518,522.3 518.25,521.3 518.5,522.2 518.75,523.3 519,522.5 519.25,522.3 519.5,521.9 519.75,522.6 520,522.7 520.25,521.7 520.5,523.1 520.75,522.1 521,523.1 521.25,522.6 521.5,523.7 521.75,523.6 522,523.0 522.25,523.0 522.5,523.4 522.75,524.1 523,523.9 523.25,523.2 523.5,523.4 523.75,524.3 524,522.0 524.25,523.6 524.5,522.6 524.75,524.2 525,522.9 525.25,523.2 525.5,522.5 525.75,523.3 526,523.8 526.25,524.5 526.5,522.4 526.75,523.0 527,526.1 527.25,524.0 527.5,523.4 527.75,523.7 528,521.5 528.25,524.5 528.5,523.5 528.75,522.4 529,524.2 529.25,523.0 529.5,522.7 529.75,523.8 530,523.7 530.25,523.1 530.5,523.4 530.75,522.5 531,522.4 531.25,524.1 531.5,524.4 531.75,523.8 532,523.7 532.25,523.2 532.5,523.4 532.75,522.8 533,524.7 533.25,523.1 533.5,523.8 533.75,523.5 534,522.5 534.25,524.8 534.5,523.2 534.75,522.9 535,523.6 535.25,522.8 535.5,523.5 535.75,522.8 536,523.9 536.25,523.5 536.5,522.5 536.75,524.2 537,523.6 537.25,522.7 537.5,523.7 537.75,523.7 538,524.7 538.25,522.8 538.5,524.0 538.75,523.3 539,523.8 539.25,523.2 539.5,523.3 539.75,523.7 540,522.5 540.25,521.9 540.5,523.3 540.75,523.0 541,523.3 541.25,523.7 541.5,523.0 541.75,524.0 542,523.1 542.25,523.1 542.5,523.5 542.75,523.3 543,522.7 543.25,522.7 543.5,521.9 543.75,521.8 544,522.0 544.25,522.2 544.3,521.2 544.5,521.8 544.55,522.5 544.75,522.3 544.8,520.7 545,521.0 545.05,520.6 545.25,520.2 545.3,520.2 545.5,519.4 545.55,519.5 545.75,518.6 545.8,518.1 546,517.9 546.05,517.9 546.25,517.9 546.3,517.2 546.5,517.0 546.55,517.3 546.75,515.3 546.8,515.7 547,516.0 547.05,515.6 547.25,514.7 547.3,516.1 547.5,515.5 547.55,514.8 547.75,517.1 547.8,515.0 548,516.2 548.05,515.9 548.25,516.9 548.3,517.3 548.5,516.9 548.55,517.5 548.75,518.1 548.8,517.6 549,519.7 549.05,519.1 549.25,519.3 549.3,519.1 549.5,519.8 549.55,520.3 549.75,520.3 549.8,521.6 550,519.3 550.05,519.7 550.25,521.3 550.3,520.3 550.5,521.8 550.75,521.7 551,522.8 551.25,522.9 551.5,523.7 551.75,523.5 552,523.9 552.25,523.5 552.5,523.9 552.75,523.6 553,522.9 553.25,522.4 553.5,522.5 553.75,523.7 554,521.7 554.25,523.6 554.5,522.9 554.75,524.0 555,523.6 555.25,523.0 555.5,523.6 555.75,522.0 556,523.8 556.25,523.9 556.5,522.3 556.75,524.2 557,523.5 557.25,523.8 557.5,522.6 557.75,524.1 558,524.1 558.25,523.7 558.5,523.0 558.75,524.2 559,524.6 559.25,524.0 559.5,524.4 559.75,523.3 560,523.8 560.25,524.0 560.5,523.8 560.75,525.7 561,524.0 561.25,523.4 561.5,524.3 561.75,523.0 562,524.0 562.25,524.3 562.5,523.4 562.75,523.6 563,523.1 563.25,523.9 563.5,523.3 563.75,525.0 564,524.3 564.25,523.7 564.5,522.8 564.75,525.2 565,524.7 565.25,524.2 565.5,524.0 565.75,523.9 566,523.5 566.25,525.1 566.5,524.0 566.75,522.8 567,523.4 567.25,522.0 567.5,524.3 567.75,524.4 568,525.1 568.25,525.3 568.5,523.3 568.75,524.2 569,524.5 569.25,524.4 569.5,523.5 569.75,524.4 570,524.2 570.25,524.8 570.5,523.8 570.75,523.7 571,523.5 571.25,523.6 571.5,523.3 571.75,523.6 572,524.2 572.25,524.2 572.5,524.8 572.75,524.6 573,524.3 573.25,523.1 573.5,524.3 573.75,524.7 574,522.9 574.25,523.1 574.5,523.2 574.75,523.1 575,523.7 575.25,523.2 575.5,524.1 575.75,523.0 576,523.8 576.25,523.5 576.5,523.2 576.75,524.6 577,523.9 577.25,524.2 577.5,523.6 577.75,524.3 578,524.3 578.25,523.7 578.5,522.6 578.75,524.4 579,524.3 579.25,524.0 579.5,524.0 579.75,523.9 580,524.0 580.25,523.2 580.5,523.8 580.75,524.1 581,523.4 581.25,523.2 581.5,525.2 581.75,524.3 582,523.6 582.25,523.5 582.5,522.0 582.75,522.9 583,523.7 583.25,524.8 583.5,522.4 583.75,523.4 584,525.2 584.25,524.3 584.5,524.2 584.75,524.7 585,523.8 585.25,523.7 585.5,524.4 585.75,524.5 586,523.1 586.25,524.9 586.5,522.6 586.75,523.4 587,526.0 587.25,523.5 587.5,524.3 587.75,523.2 588,523.6 588.25,523.4 588.5,523.6 588.75,524.3 589,525.1 589.25,524.5 589.5,524.9 589.75,523.5 590,524.9 590.25,524.2 590.5,524.8 590.75,523.6 591,523.7 591.25,524.8 591.5,524.3 591.75,523.9 592,523.4 592.25,523.8 592.5,524.2 592.75,524.3 593,523.4 593.25,523.6 593.5,524.1 593.75,523.0 594,524.5 594.25,523.8 594.5,523.7 594.75,522.1 595,522.7 595.25,523.1 595.5,523.4 595.75,523.0 596,524.0 596.25,523.9 596.5,523.6 596.75,522.3 597,524.7 597.25,523.6 597.5,524.2 597.75,523.3 598,523.7 598.25,524.2 598.5,523.9 598.75,524.4 599,523.6 599.25,525.1 599.5,522.4 599.75,523.3 600,524.4 600.25,523.5 600.5,523.4 600.75,522.5 601,524.5 601.25,522.4 601.5,524.0 601.75,523.8 602,524.3 602.25,524.7 602.5,523.2 602.75,523.1 603,523.4 603.25,522.4 603.5,524.2 603.75,523.3 604,523.7 604.25,522.8 604.5,523.6 604.75,523.1 605,523.5 605.25,522.8 605.5,524.3 605.75,523.1 606,521.7 606.25,524.0 606.5,523.3 606.75,522.9 607,525.2 607.25,523.4 607.5,522.5 607.75,523.0 608,523.7 608.25,523.2 608.5,524.3 608.75,524.1 609,522.8 609.25,523.4 609.5,523.8 609.75,523.0 610,522.9 610.25,523.8 610.5,523.5 610.75,522.2 611,522.8 611.25,522.8 611.5,523.0 611.75,522.5 612,523.9 612.25,522.3 612.5,522.2 612.75,523.0 613,521.2 613.25,522.0 613.5,523.1 613.75,521.7 614,522.0 614.25,523.2 614.5,522.7 614.75,522.3 615,522.4 615.25,521.6 615.5,522.2 615.75,521.6 616,523.4 616.25,521.8 616.5,521.0 616.75,521.0 617,520.7 617.25,519.4 617.5,519.4 617.75,520.5 618,517.8 618.25,517.5 618.5,517.5 618.75,516.5 618.9,513.7 619,514.7 619.15,512.2 619.25,512.7 619.4,510.4 619.5,508.7 619.65,507.6 619.75,506.2 619.9,503.1 620,503.6 620.15,499.4 620.25,498.7 620.4,494.9 620.5,492.1 620.65,489.7 620.75,488.5 620.9,486.2 621,485.1 621.15,481.3 621.25,479.4 621.4,476.5 621.5,476.2 621.65,475.0 621.75,472.7 621.9,474.8 622,474.8 622.15,476.4 622.25,475.0 622.4,477.4 622.5,478.7 622.65,480.2 622.75,482.3 622.9,484.9 623,487.9 623.15,490.7 623.25,493.2 623.4,494.8 623.5,495.9 623.65,499.8 623.75,501.4 623.9,503.9 624,505.7 624.15,506.4 624.25,508.6 624.4,509.1 624.5,510.9 624.65,512.7 624.75,512.9 624.9,514.3 625,513.8 625.25,515.7 625.5,517.4 625.75,517.3 626,518.2 626.25,521.0 626.5,519.9 626.75,519.5 627,519.6 627.25,521.5 627.5,518.7 627.75,520.6 628,521.3 628.25,520.6 628.5,521.4 628.75,520.4 629,521.1 629.25,521.2 629.5,521.2 629.75,521.3 630,521.2 630.25,521.9 630.5,520.8 630.75,520.5 631,520.6 631.25,520.5 631.5,519.5 631.75,519.0 632,519.1 632.25,519.9 632.5,518.8 632.75,518.4 632.9,520.2 633,518.7 633.15,517.2 633.25,516.4 633.4,517.1 633.5,515.0 633.65,515.4 633.75,514.3 633.9,513.6 634,511.3 634.15,511.0 634.25,508.1 634.4,507.6 634.5,507.3 634.65,505.2 634.75,502.2 634.9,502.1 635,500.6 635.15,498.4 635.25,496.8 635.4,495.5 635.5,494.4 635.65,494.5 635.75,493.6 635.9,493.8 636,493.5 636.15,492.6 636.25,494.2 636.4,496.7 636.5,495.4 636.65,497.9 636.75,498.2 636.9,499.9 637,501.8 637.15,504.0 637.25,505.0 637.4,506.4 637.5,507.7 637.65,507.2 637.75,509.8 637.9,510.6 638,510.8 638.15,511.7 638.25,511.6 638.4,513.6 638.5,512.6 638.65,512.4 638.75,513.5 638.9,513.2 639,513.6 639.25,514.3 639.5,512.4 639.75,511.4 640,511.2 640.25,506.2 640.5,504.4 640.75,501.1 641,496.6 641.25,491.6 641.5,483.2 641.75,477.1 642,469.3 642.25,462.0 642.5,455.7 642.75,450.8 643,450.1 643.25,451.2 643.5,453.1 643.75,459.2 644,463.8 644.25,468.8 644.5,472.5 644.75,478.9 645,481.4 645.25,482.3 645.5,483.0 645.75,482.5 646,483.6 646.25,483.4 646.5,484.7 646.75,486.3 647,487.9 647.25,491.1 647.5,496.2 647.75,498.4 648,503.3 648.25,506.9 648.5,508.1 648.75,511.9 649,513.4 649.25,515.4 649.5,515.9 649.75,517.4 650,518.5 650.25,520.1 650.5,519.9 650.75,520.1 651,519.2 651.25,520.7 651.5,520.2 651.75,520.8 652,521.3 652.25,521.9 652.5,521.8 652.75,521.7 653,521.6 653.25,522.7 653.5,521.2 653.75,522.0 654,523.0 654.25,521.9 654.5,522.7 654.75,522.8 655,523.6 655.25,523.1 655.5,521.1 655.75,522.3 656,522.6 656.25,523.0 656.5,522.6 656.75,523.7 657,523.2 657.25,521.5 657.5,521.9 657.75,520.9 658,523.5 658.25,522.2 658.5,522.1 658.75,521.0 659,521.8 659.25,522.3 659.5,521.6 659.75,521.5 660,521.1 660.25,522.8 660.5,520.7 660.75,519.8 661,520.0 661.25,519.6 661.5,519.1 661.75,518.2 661.8,517.3 662,517.2 662.05,517.3 662.25,515.1 662.3,517.2 662.5,515.8 662.55,513.0 662.75,512.6 662.8,513.2 663,511.9 663.05,511.8 663.25,507.5 663.3,507.5 663.5,506.1 663.55,506.4 663.75,503.5 663.8,504.1 664,502.4 664.05,502.2 664.25,499.3 664.3,500.1 664.5,499.0 664.55,498.5 664.75,499.3 664.8,498.2 665,499.7 665.05,498.4 665.25,500.9 665.3,501.2 665.5,500.8 665.55,502.0 665.75,503.7 665.8,503.2 666,506.3 666.05,506.6 666.25,507.4 666.3,508.6 666.5,510.9 666.55,510.6 666.75,511.8 666.8,513.9 667,513.5 667.05,514.7 667.25,516.6 667.3,516.6 667.5,515.8 667.55,517.1 667.75,518.2 667.8,518.3 668,519.6 668.25,520.3 668.5,520.7 668.75,521.2 669,522.1 669.25,522.6 669.5,520.6 669.75,523.7 670,522.0 670.25,523.1 670.5,521.5 670.75,522.4 671,521.9 671.25,523.7 671.5,523.6 671.75,523.1 672,523.0 672.25,523.4 672.5,522.5 672.75,522.8 673,522.8 673.25,523.9 673.5,523.4 673.75,522.5 674,523.7 674.25,523.9 674.5,524.5 674.75,523.1 675,523.8 675.25,525.1 675.5,523.4 675.75,523.4 676,524.0 676.25,523.3 676.5,523.7 676.75,523.3 677,523.1 677.25,524.3 677.5,523.5 677.75,523.0 678,523.6 678.25,523.7 678.5,524.0 678.75,524.5 679,525.1 679.25,522.9 679.5,523.6 679.75,522.5 680,524.0 680.25,524.2 680.5,523.4 680.75,523.2 681,523.2 681.25,522.8 681.5,524.3 681.75,525.2 682,523.1 682.25,525.0 682.5,523.8 682.75,522.9 683,524.3 683.25,524.4 683.5,524.2 683.75,523.7 684,525.1 684.25,523.7 684.5,524.4 684.75,524.4 685,523.3 685.25,522.6 685.5,522.7 685.75,523.7 686,524.2 686.25,522.7 686.5,523.4 686.75,525.0 687,522.7 687.25,524.3 687.5,524.2 687.75,524.5 688,522.9 688.25,524.2 688.5,523.0 688.75,524.9 689,523.4 689.25,524.2 689.5,523.4 689.75,524.1 690,522.9 690.25,524.2 690.5,524.4 690.75,524.0 691,525.1 691.25,524.3 691.5,524.6 691.75,524.4 692,525.3 692.25,523.5 692.5,523.8 692.75,523.9 693,524.5 693.25,524.2 693.5,524.6 693.75,524.2 694,523.7 694.25,524.0 694.5,524.3 694.75,522.4 695,525.0 695.25,523.6 695.5,523.8 695.75,524.2 696,523.9 696.25,523.0 696.5,523.9 696.75,525.1 697,524.8 697.25,525.0 697.5,523.7 697.75,523.9 698,524.8 698.25,525.1 698.5,524.1 698.75,523.4 699,522.7 699.25,525.1 699.5,523.0 699.75,524.4 700,524.7 700.25,526.4 700.5,524.3 700.75,524.0 701,524.5 701.25,524.5 701.5,525.1 701.75,524.6 702,523.6 702.25,522.6 702.5,524.4 702.75,523.7 703,525.2 703.25,523.2 703.5,524.3 703.75,523.6 704,523.5 704.25,525.4 704.5,524.3 704.75,524.0 705,524.7 705.25,523.6 705.5,523.9 705.75,523.7 706,525.6 706.25,524.4 706.5,524.6 706.75,525.0 707,524.0 707.25,524.1 707.5,523.0 707.75,524.5 708,524.4 708.25,523.9 708.5,525.0 708.75,522.9 709,524.5 709.25,523.2 709.5,523.3 709.75,524.0 710,525.1 710.25,523.3 710.5,523.4 710.75,523.3 711,525.6 711.25,524.6 711.5,524.5 711.75,525.7 712,524.4 712.25,522.6 712.5,523.8 712.75,523.3 713,525.6 713.25,523.1 713.5,524.4 713.75,523.8 714,523.9 714.25,524.2 714.5,524.1 714.75,523.7 715,523.3 715.25,523.7 715.5,523.4 715.75,523.5 716,524.3 716.25,524.1 716.5,524.5 716.75,524.0 717,525.6 717.25,523.6 717.5,523.4 717.75,524.9 718,523.7 718.25,524.3 718.5,524.9 718.75,524.1 719,523.9 719.25,524.9 719.5,524.4 719.75,523.8 720,523.3 720.25,523.9 720.5,523.0 720.75,523.5 721,523.4 721.25,524.4 721.5,524.7 721.75,523.7 722,523.8 722.25,523.4 722.5,523.1 722.75,523.8 723,524.6 723.25,524.5 723.5,524.6 723.75,523.9 724,522.2 724.25,524.8 724.5,525.1 724.75,524.8 725,524.8 725.25,524.9 725.5,526.1 725.75,524.4 726,525.3 726.25,524.7 726.5,524.6 726.75,524.0 727,523.9 727.25,523.3 727.5,524.5 727.75,523.9 728,523.2 728.25,523.6 728.5,523.2 728.75,525.3 729,523.9 729.25,524.2 729.5,523.2 729.75,523.3 730,524.8 730.25,523.9 730.5,524.2 730.75,525.4 731,525.6 731.25,524.5 731.5,524.4 731.75,524.2 732,523.8 732.25,525.5 732.5,523.1 732.75,523.9 733,522.6 733.25,523.0 733.5,524.2 733.75,524.2 734,524.1 734.25,523.6 734.5,523.3 734.75,523.4 735,523.5 735.25,524.6 735.5,524.8 735.75,524.0 736,523.3 736.25,523.0 736.5,523.8 736.75,523.4 737,522.2 737.25,524.5 737.5,523.4 737.75,523.1 738,522.7 738.25,522.6 738.5,523.8 738.75,522.3 739,523.0 739.25,523.2 739.5,523.9 739.75,522.8 740,522.0 740.25,521.4 740.5,521.9 740.75,521.4 740.9,520.0 741,520.4 741.15,519.4 741.25,517.9 741.4,517.7 741.5,518.6 741.65,518.3 741.75,517.2 741.9,515.7 742,514.7 742.15,514.6 742.25,513.7 742.4,511.2 742.5,512.1 742.65,509.9 742.75,510.1 742.9,508.8 743,508.2 743.15,507.3 743.25,506.4 743.4,504.2 743.5,503.7 743.65,504.6 743.75,503.9 743.9,502.2 744,501.8 744.15,504.1 744.25,505.4 744.4,504.9 744.5,504.5 744.65,505.7 744.75,504.1 744.9,506.2 745,508.2 745.15,509.0 745.25,507.3 745.4,510.5 745.5,510.5 745.65,511.4 745.75,510.9 745.9,511.5 746,510.9 746.15,512.2 746.25,512.7 746.4,511.5 746.5,512.5 746.65,511.8 746.75,512.9 746.9,512.9 747,510.4 747.25,512.5 747.5,513.1 747.75,512.5 748,513.6 748.25,514.6 748.5,515.0 748.75,516.8 749,519.1 749.25,519.2 749.5,520.8 749.75,521.1 750,521.8 750.25,521.5 750.5,522.4 750.75,523.5 751,523.4 751.25,522.7 751.5,522.0 751.75,521.9 752,522.8 752.25,522.9 752.5,521.2 752.75,522.6 753,522.6 753.25,522.4 753.3,521.7 753.5,523.6 753.55,522.5 753.75,520.5 753.8,520.9 754,521.7 754.05,521.4 754.25,520.7 754.3,520.4 754.5,519.8 754.55,519.5 754.75,518.5 754.8,519.5 755,516.5 755.05,517.8 755.25,518.6 755.3,517.0 755.5,516.1 755.55,518.2 755.75,517.1 755.8,516.1 756,515.4 756.05,515.6 756.25,515.4 756.3,515.5 756.5,515.2 756.55,516.2 756.75,515.8 756.8,515.0 757,515.8 757.05,516.9 757.25,516.8 757.3,515.9 757.5,519.4 757.55,518.9 757.75,518.8 757.8,518.9 758,520.3 758.05,521.0 758.25,520.1 758.3,521.0 758.5,520.7 758.55,521.5 758.75,520.9 758.8,520.5 759,522.2 759.05,522.2 759.25,523.0 759.3,522.1 759.5,523.8 759.75,523.1 760,524.3 760.25,523.1 760.5,524.5 760.75,523.5 761,523.7 761.25,524.3 761.5,522.4 761.75,523.0 762,525.1 762.25,522.7 762.5,523.5 762.75,524.3 763,524.9 763.25,523.5 763.5,524.0 763.75,523.1 764,523.7 764.25,524.7 764.5,524.2 764.75,524.0 765,524.3 765.25,524.1 765.5,524.2 765.75,523.8 766,523.3 766.25,524.6 766.5,523.2 766.75,524.8 767,525.6 767.25,525.2 767.5,525.8 767.75,523.3 768,524.3 768.25,523.5 768.5,523.6 768.75,522.9 769,523.2 769.25,524.7 769.5,524.6 769.75,525.0 770,524.9 770.25,524.7 770.5,523.5 770.75,524.0 771,524.7 771.25,525.0 771.5,523.9 771.75,523.8 772,523.8 772.25,525.3 772.5,524.5 772.75,523.9 773,523.5 773.25,524.4 773.5,522.9 773.75,523.9 774,523.7 774.25,523.6 774.5,524.2 774.75,524.3 775,526.2 775.25,524.1 775.5,524.5 775.75,523.4 776,522.7 776.25,524.7 776.5,525.3 776.75,523.1 777,523.7 777.25,524.5 777.5,523.7 777.75,521.8 778,524.1 778.25,523.1 778.5,523.5 778.75,522.0 779,523.0 779.25,522.8 779.5,521.0 779.75,521.3 780,519.9 780.25,519.2 780.5,518.1 780.75,517.6 781,516.6 781.25,517.2 781.5,515.5 781.75,514.5 782,516.1 782.25,515.7 782.5,516.4 782.75,516.3 783,517.6 783.25,517.9 783.5,518.1 783.75,519.7 784,520.4 784.25,521.1 784.5,522.1 784.75,520.8 785,522.6 785.25,522.1 785.5,522.8 785.75,523.5 786,523.4 786.25,523.0 786.5,524.1 786.75,523.6 787,524.4 787.25,524.7 787.5,523.6 787.75,523.1 788,523.9 788.25,524.5 788.5,524.1 788.75,523.1 789,522.7 789.25,523.2 789.5,523.2 789.75,524.3 790,523.9 790.25,524.4 790.5,523.7 790.75,524.8 791,523.6 791.25,523.8 791.3,523.1 791.5,523.6 791.55,524.0 791.75,523.7 791.8,524.0 792,522.5 792.05,523.2 792.25,523.9 792.3,522.8 792.5,522.3 792.55,522.2 792.75,521.8 792.8,522.2 793,522.9 793.05,522.1 793.25,521.6 793.3,521.0 793.5,520.5 793.55,523.0 793.75,520.8 793.8,521.2 794,520.7 794.05,521.1 794.25,520.6 794.3,521.0 794.5,522.0 794.55,520.5 794.75,521.5 794.8,521.1 795,521.8 795.05,520.8 795.25,521.8 795.3,520.9 795.5,520.5 795.55,520.9 795.75,521.4 795.8,521.3 796,522.1 796.05,523.2 796.25,521.8 796.3,523.0 796.5,523.0 796.55,522.4 796.75,522.4 796.8,523.4 797,523.6 797.05,523.1 797.25,523.4 797.3,523.5 797.5,522.7 797.75,523.8 798,524.1 798.25,525.2 798.5,523.1 798.75,523.4 799,524.2 799.25,523.7 799.5,523.9 799.75,524.2 800,524.0 800.25,524.2 800.5,524.6 800.75,523.1 801,524.7 801.25,522.7 801.5,525.5 801.75,525.0 802,523.9 802.25,525.1 802.5,524.2 802.75,524.7 803,524.9 803.25,524.6 803.5,524.4 803.75,524.8 804,524.3 804.25,524.1 804.5,523.7 804.75,523.1 805,525.5 805.25,525.0 805.5,523.4 805.75,524.7 806,524.6 806.25,522.9 806.5,523.8 806.75,524.4 807,525.6 807.25,525.2 807.5,525.3 807.75,524.7 808,525.2 808.25,523.6 808.5,524.9 808.75,525.0 809,523.6 809.25,524.6 809.5,525.5 809.75,525.8 810,525.5 810.25,524.0 810.5,524.4 810.75,524.1 811,525.4 811.25,523.9 811.5,523.8 811.75,523.4 812,524.6 812.25,524.8 812.5,524.1 812.75,524.0 813,524.4 813.25,525.5 813.5,523.6 813.75,524.5 814,524.7 814.25,524.8 814.5,525.4 814.75,525.1 815,524.7 815.25,525.5 815.5,525.3 815.75,524.7 816,524.7 816.25,523.7 816.5,524.6 816.75,524.0 817,523.7 817.25,524.3 817.5,523.3 817.75,523.9 818,524.2 818.25,524.8 818.5,524.3 818.75,524.8 819,525.6 819.25,525.1 819.5,523.7 819.75,523.3 820,523.9 820.25,523.9 820.5,523.1 820.75,523.3 821,523.3 821.25,524.1 821.5,525.5 821.75,525.7 822,523.8 822.25,524.2 822.5,523.5 822.75,523.4 823,524.4 823.25,524.5 823.5,524.0 823.75,524.9 824,524.2 824.25,525.2 824.5,524.1 824.75,525.1 825,524.3 825.25,524.6 825.5,524.9 825.75,523.5 826,523.9 826.25,524.4 826.5,524.3 826.75,524.7 827,523.9 827.25,523.5 827.5,524.4 827.75,524.7 828,523.9 828.25,525.3 828.5,525.0 828.75,525.1 829,525.0 829.25,523.9 829.5,526.0 829.75,524.0 830,524.8 830.25,525.0 830.5,524.7 830.75,524.7 831,524.0 831.25,524.3 831.5,524.6 831.75,525.5 832,524.1 832.25,525.0 832.5,524.9 832.75,524.6 833,524.2 833.25,524.5 833.5,523.4 833.75,524.7 834,524.8 834.25,524.2 834.5,525.0 834.75,524.8 835,524.1 835.25,525.2 835.5,524.2 835.75,526.3 836,523.9 836.25,524.0 836.5,524.2 836.75,524.8 837,525.4 837.25,524.7 837.5,524.3 837.75,525.9 838,525.3 838.25,524.4 838.5,524.5 838.75,523.5 839,524.6 839.25,525.8 839.5,523.8 839.75,523.6 840,524.7 840.25,522.9 840.5,525.6 840.75,523.5 841,524.1 841.25,524.5 841.5,525.4 841.75,524.9 842,523.2 842.25,523.4 842.5,524.7 842.75,523.1 843,524.4 843.25,524.0 843.5,525.1 843.75,525.4 844,522.8 844.25,524.8 844.5,525.0 844.75,524.0 845,524.1 845.25,523.7 845.5,524.3 845.75,524.8 846,525.5 846.25,525.5 846.5,524.3 846.75,523.9 847,525.2 847.25,522.6 847.5,523.5 847.75,525.0 848,526.1 848.25,524.0 848.5,524.6 848.75,523.7 849,524.5 849.25,524.5 849.5,524.0 849.75,524.8 850,524.4 850.25,524.9 850.5,524.4 850.75,523.7 851,524.6 851.25,525.1 851.5,524.0 851.75,525.4 852,524.8 852.25,524.3 852.5,524.5 852.75,524.2 853,523.9 853.25,525.2 853.5,525.1 853.75,524.2 854,524.4 854.25,524.4 854.5,525.0 854.75,525.5 855,524.0 855.25,524.7 855.5,524.5 855.75,524.9 856,525.5 856.25,523.9 856.5,523.0 856.75,524.4 857,523.4 857.25,525.7 857.5,524.0 857.75,524.3 858,524.6 858.25,524.6 858.5,524.2 858.75,524.5 859,525.1 859.25,524.2 859.5,525.8 859.75,524.7 860,522.8 860.25,525.1 860.5,523.2 860.75,524.7 861,526.0 861.25,525.2 861.5,523.6 861.75,523.8 862,524.4 862.25,525.4 862.5,523.9 862.75,525.2 863,524.6 863.25,524.3 863.5,524.2 863.75,525.5 864,523.3 864.25,523.5 864.5,524.9 864.75,525.0 865,523.3 865.25,523.6 865.5,523.4 865.75,524.6 866,523.7 866.25,525.1 866.5,524.6 866.75,524.3 867,524.2 867.25,524.4 867.5,524.5 867.75,523.9 868,524.0 868.25,524.3 868.5,523.6 868.75,524.3 869,523.4 869.25,522.8 869.5,523.3 869.75,524.1 870,523.8 870.25,521.2 870.5,522.2 870.6,521.4 870.75,521.2 870.85,520.9 871,520.6 871.1,520.1 871.25,519.7 871.35,519.7 871.5,518.1 871.6,517.7 871.75,517.0 871.85,516.6 872,517.0 872.1,515.3 872.25,515.2 872.35,514.7 872.5,514.3 872.6,513.2 872.75,513.1 872.85,511.8 873,511.3 873.1,511.3 873.25,509.2 873.35,510.2 873.5,510.7 873.6,509.7 873.75,509.5 873.85,511.1 874,510.2 874.1,511.3 874.25,509.3 874.35,511.5 874.5,511.7 874.6,512.8 874.7,513.9 874.75,513.2 874.85,513.6 874.95,512.3 875,515.0 875.1,515.8 875.2,515.4 875.25,515.2 875.35,516.1 875.45,516.9 875.5,516.8 875.6,518.1 875.7,516.5 875.75,516.1 875.85,517.6 875.95,518.3 876,517.2 876.1,517.7 876.2,517.3 876.25,516.9 876.35,517.3 876.45,516.4 876.5,518.1 876.6,518.2 876.7,518.5 876.75,517.3 876.95,517.4 877,516.6 877.2,516.7 877.25,518.3 877.45,519.7 877.5,517.0 877.7,517.5 877.75,518.5 877.95,517.6 878,518.5 878.2,518.2 878.25,518.3 878.45,519.6 878.5,518.9 878.7,518.7 878.75,520.2 878.95,520.2 879,519.9 879.2,520.1 879.25,521.2 879.45,520.7 879.5,521.4 879.7,522.4 879.75,521.7 879.95,522.9 880,521.2 880.2,522.9 880.25,522.9 880.45,524.1 880.5,522.8 880.7,523.6 880.75,522.9 881,522.5 881.25,522.8 881.5,523.0 881.75,524.1 882,523.1 882.25,523.7 882.5,524.4 882.75,524.7 883,524.5 883.25,524.9 883.5,523.1 883.75,523.5 884,524.1 884.25,524.7 884.5,524.2 884.75,523.3 885,523.7 885.25,522.7 885.5,524.4 885.75,522.6 886,523.9 886.25,524.5 886.5,524.3 886.75,522.5 887,523.7 887.25,523.2 887.5,523.1 887.75,524.3 888,523.2 888.25,521.7 888.5,521.6 888.75,522.5 888.8,522.1 889,520.8 889.05,520.3 889.25,520.6 889.3,520.6 889.5,521.0 889.55,519.8 889.75,520.1 889.8,520.4 890,517.8 890.05,518.3 890.25,519.1 890.3,517.5 890.5,517.1 890.55,517.6 890.75,515.7 890.8,515.8 891,514.2 891.05,515.6 891.25,514.3 891.3,514.3 891.5,512.3 891.55,514.7 891.75,514.4 891.8,513.3 892,514.8 892.05,512.3 892.25,514.2 892.3,513.2 892.5,516.7 892.55,513.1 892.7,514.5 892.75,514.9 892.8,516.2 892.95,516.6 893,516.5 893.05,516.2 893.2,518.3 893.25,516.4 893.3,517.3 893.45,518.7 893.5,516.7 893.55,517.2 893.7,518.9 893.75,518.5 893.8,517.4 893.95,518.7 894,520.1 894.05,518.7 894.2,519.6 894.25,519.2 894.3,518.7 894.45,520.5 894.5,520.2 894.55,520.4 894.7,519.6 894.75,519.8 894.8,519.9 894.95,520.2 895,519.6 895.2,519.6 895.25,521.0 895.45,519.4 895.5,519.9 895.7,520.1 895.75,520.0 895.95,519.7 896,520.1 896.2,521.4 896.25,520.7 896.45,520.7 896.5,522.4 896.7,520.6 896.75,522.3 896.95,522.1 897,521.0 897.2,521.9 897.25,522.0 897.45,523.4 897.5,523.2 897.7,522.6 897.75,522.0 897.95,521.8 898,522.9 898.2,522.2 898.25,523.1 898.45,523.2 898.5,523.7 898.7,524.2 898.75,523.6 899,524.0 899.25,523.7 899.5,524.6 899.75,524.5 900,525.1 900.25,525.0 900.5,523.6 900.75,523.1 901,524.6 901.25,525.0 901.5,523.7 901.75,525.3 902,524.3 902.25,524.2 902.5,524.5 902.75,523.3 903,523.2 903.25,524.1 903.5,523.5 903.75,524.3 904,524.3 904.25,522.5 904.5,523.8 904.75,524.7 905,522.7 905.25,524.1 905.5,523.4 905.75,523.0 906,525.2 906.25,525.2 906.5,524.1 906.75,524.1 907,525.4 907.25,525.3 907.5,524.4 907.75,525.0 908,524.5 908.25,524.2 908.5,524.9 908.75,524.1 909,524.9 909.25,524.3 909.5,524.1 909.75,524.1 910,524.8 910.25,525.1 910.5,524.8 910.75,523.9 911,524.9 911.25,523.8 911.5,523.7 911.75,524.3 912,525.0 912.25,525.0 912.5,524.9 912.75,525.5 913,525.1 913.25,524.2 913.5,525.1 913.75,524.3 914,524.8 914.25,524.9 914.5,524.5 914.75,523.5 915,524.4 915.25,524.3 915.5,524.5 915.75,524.2 916,523.8 916.25,523.4 916.5,525.0 916.75,525.1 917,524.8 917.25,524.5 917.5,525.9 917.75,525.0 918,524.6 918.25,525.1 918.5,524.5 918.75,525.1 919,524.8 919.25,524.9 919.5,524.6 919.75,524.3 920,524.9 920.25,525.4 920.5,523.9 920.75,524.2 921,523.8 921.25,525.2 921.5,524.4 921.75,525.2 922,524.0 922.25,525.2 922.5,524.2 922.75,524.3 923,525.0 923.25,524.3 923.5,524.2 923.75,525.2 924,524.6 924.25,525.5 924.5,526.4 924.75,524.2 925,524.4 925.25,523.5 925.5,523.8 925.75,525.0 926,524.8 926.25,524.8 926.5,524.9 926.75,524.0 927,523.4 927.25,525.4 927.5,524.8 927.75,525.4 928,524.6 928.25,525.1 928.5,524.2 928.75,524.6 929,524.5 929.25,524.9 929.5,525.6 929.75,525.1 930,522.6 930.25,524.5 930.5,524.6 930.75,525.2 931,524.7 931.25,524.1 931.5,524.1 931.75,524.4 932,524.1 932.25,525.6 932.5,525.0 932.75,524.7 933,525.3 933.25,526.1 933.5,524.5 933.75,524.6 934,524.4 934.25,523.8 934.5,524.2 934.75,524.0 935,524.9 935.25,524.9 935.5,525.2 935.75,524.1 936,525.3 936.25,523.9 936.5,524.5 936.75,525.5 937,525.5 937.25,525.4 937.5,526.1 937.75,525.3 938,524.4 938.25,524.5 938.5,524.1 938.75,524.8 939,524.1 939.25,524.2 939.5,523.9 939.75,523.4 940,526.3 940.25,525.2 940.5,523.2 940.75,524.9 941,524.2 941.25,523.1 941.5,524.5 941.75,524.7 942,525.0 942.25,525.4 942.5,524.0 942.75,524.6 943,525.1 943.25,525.0 943.5,524.9 943.75,524.7 944,525.4 944.25,523.7 944.5,523.5 944.75,525.8 945,524.9 945.25,525.3 945.5,524.7 945.75,524.3 946,524.2 946.25,524.7 946.5,524.2 946.75,524.5 947,524.5 947.25,525.1 947.5,525.1 947.75,525.6 948,524.0 948.25,524.5 948.5,525.2 948.75,524.8 949,522.8 949.25,524.8 949.5,524.5 949.75,524.2 950,524.2 950.25,524.0 950.5,525.3 950.75,524.9 951,524.6 951.25,525.2 951.5,525.1 951.75,523.8 952,523.7 952.25,523.7 952.5,524.9 952.75,524.3 953,525.2 953.25,524.7 953.5,524.2 953.75,523.4 954,524.1 954.25,525.8 954.5,523.7 954.75,523.6 955,524.0 955.25,525.0 955.5,524.0 955.75,523.2 956,523.5 956.25,523.7 956.5,523.8 956.75,524.4 957,525.3 957.25,524.4 957.5,523.7 957.75,523.1 958,522.3 958.25,523.0 958.5,523.1 958.75,522.3 959,521.1 959.1,521.4 959.25,520.4 959.35,520.1 959.5,519.5 959.6,519.3 959.75,518.6 959.85,518.9 960,517.5 960.1,517.0 960.25,516.9 960.35,516.1 960.5,515.5 960.6,513.6 960.75,514.1 960.85,512.6 961,510.9 961.1,510.9 961.25,509.3 961.35,508.9 961.5,508.5 961.6,508.9 961.75,506.8 961.85,507.6 962,506.9 962.1,508.1 962.25,507.2 962.35,507.6 962.5,508.5 962.6,507.1 962.75,508.1 962.85,507.8 963,508.9 963.1,510.2 963.25,510.6 963.35,511.4 963.4,511.1 963.5,511.4 963.6,512.2 963.65,511.9 963.75,512.1 963.85,512.2 963.9,513.4 964,514.1 964.1,513.2 964.15,513.9 964.25,512.8 964.35,513.8 964.4,514.7 964.5,513.9 964.6,515.2 964.65,514.6 964.75,515.2 964.85,514.6 964.9,514.0 965,514.9 965.1,515.3 965.15,514.4 965.25,515.0 965.4,514.1 965.5,514.2 965.65,515.1 965.75,514.1 965.9,513.3 966,514.2 966.15,513.8 966.25,513.4 966.4,514.3 966.5,512.0 966.65,514.6 966.75,515.7 966.9,515.0 967,513.8 967.15,516.5 967.25,517.6 967.4,516.8 967.5,516.1 967.65,516.9 967.75,517.6 967.9,518.4 968,519.4 968.15,519.5 968.25,517.9 968.4,519.7 968.5,520.1 968.65,521.9 968.75,520.5 968.9,520.3 969,521.2 969.15,521.9 969.25,520.7 969.4,522.9 969.5,522.2 969.75,523.2 970,523.4 970.25,523.5 970.5,524.3 970.75,524.6 971,523.3 971.25,523.6 971.5,524.5 971.75,523.9 972,523.5 972.25,524.0 972.5,523.4 972.75,523.7 973,521.7 973.25,524.2 973.5,525.4 973.75,524.6 974,524.6 974.25,524.3 974.5,523.7 974.75,524.5 975,524.3 975.25,524.1 975.5,524.4 975.75,523.8 976,524.3 976.25,524.7 976.5,524.9 976.75,524.3 976.8,524.7 977,524.2 977.05,522.6 977.25,522.8 977.3,523.9 977.5,523.2 977.55,524.4 977.75,523.0 977.8,523.6 978,523.4 978.05,523.3 978.25,523.3 978.3,523.6 978.5,523.6 978.55,523.2 978.75,523.5 978.8,523.7 979,523.1 979.05,522.8 979.25,522.7 979.3,522.8 979.5,522.7 979.55,523.1 979.75,524.8 979.8,523.8 980,523.0 980.05,523.4 980.25,523.5 980.3,524.0 980.5,524.2 980.55,522.6 980.75,524.8 980.8,522.8 981,523.5 981.05,522.9 981.25,522.4 981.3,522.4 981.5,525.0 981.55,524.7 981.75,523.1 981.8,523.0 982,524.9 982.05,523.2 982.25,524.2 982.3,525.3 982.5,524.4 982.55,524.9 982.75,524.0 982.8,522.7 983,523.3 983.25,522.5 983.5,523.8 983.75,522.5 984,523.2 984.25,522.5 984.5,522.0 984.75,522.3 985,521.2 985.25,520.3 985.5,521.0 985.75,519.7 986,518.2 986.25,519.7 986.5,517.8 986.75,519.1 987,519.6 987.25,519.6 987.5,519.8 987.75,520.7 988,521.3 988.25,521.3 988.5,523.1 988.75,522.5 989,522.8 989.25,524.5 989.5,523.2 989.75,522.9 990,524.0 990.25,524.1 990.5,524.2 990.75,525.7 991,523.9 991.25,525.3 991.5,525.0 991.75,525.4 992,524.4 992.25,524.3 992.5,524.4 992.75,524.7 993,525.2 993.25,525.7 993.5,523.4 993.75,525.3 994,524.9 994.25,524.6 994.5,523.9 994.75,524.9 995,523.4 995.25,525.5 995.5,524.0 995.75,524.6 996,524.6 996.25,525.1 996.5,523.8 996.75,525.3 997,525.0 997.25,525.8 997.5,524.9"/>
<polyline fill="none" stroke="#00f" stroke-width="4.8" stroke-linejoin="round" stroke-linecap="round" points="60.5,382.4 60.75,381.9 61,382.0 61.25,380.6 61.5,383.5 61.75,383.1 62,382.1 62.25,382.8 62.5,382.5 62.75,381.9 63,383.0 63.25,382.1 63.5,382.1 63.75,381.7 64,382.6 64.25,382.2 64.5,382.7 64.75,381.9 65,382.4 65.25,381.7 65.5,382.9 65.75,382.4 66,382.5 66.25,382.6 66.5,381.6 66.75,382.8 67,383.7 67.25,381.1 67.5,381.1 67.75,381.2 68,382.9 68.25,382.4 68.5,383.1 68.75,382.8 69,382.4 69.25,382.5 69.5,382.2 69.75,382.9 70,381.5 70.25,382.0 70.5,382.5 70.75,383.6 71,381.8 71.25,381.5 71.5,381.9 71.75,383.0 72,382.1 72.25,383.2 72.5,381.0 72.75,383.1 73,383.0 73.25,381.3 73.5,382.4 73.75,383.2 74,382.4 74.25,383.0 74.5,384.0 74.75,382.5 75,382.1 75.25,381.8 75.5,382.8 75.75,382.2 76,382.2 76.25,382.2 76.5,382.8 76.75,381.6 77,381.2 77.25,380.6 77.5,383.1 77.75,382.4 78,383.4 78.25,382.3 78.5,381.8 78.75,382.6 79,382.3 79.25,381.4 79.5,381.7 79.75,383.5 80,382.6 80.25,382.6 80.5,382.1 80.75,381.8 81,382.9 81.25,382.2 81.5,381.8 81.75,382.2 82,381.7 82.25,382.4 82.5,383.1 82.75,381.7 83,383.3 83.25,381.8 83.5,382.4 83.75,381.7 84,382.2 84.25,382.3 84.5,382.0 84.75,381.8 85,381.8 85.25,381.7 85.5,381.2 85.75,382.1 86,382.6 86.25,382.9 86.5,382.8 86.75,384.0 87,382.5 87.25,382.0 87.5,383.6 87.75,381.6 88,383.0 88.25,381.6 88.5,382.6 88.75,380.9 89,382.9 89.25,382.2 89.5,381.6 89.75,383.5 90,382.8 90.25,382.3 90.5,381.8 90.75,382.3 91,382.2 91.25,382.8 91.5,382.9 91.75,381.8 92,381.9 92.25,381.9 92.5,381.4 92.75,381.9 93,382.3 93.25,382.8 93.5,383.2 93.75,381.8 94,382.7 94.25,382.0 94.5,383.8 94.75,382.3 95,382.7 95.25,381.7 95.5,381.7 95.75,382.5 96,382.0 96.25,382.6 96.5,381.2 96.75,382.8 97,381.7 97.25,383.5 97.5,382.1 97.75,383.1 98,381.3 98.25,382.6 98.5,381.7 98.75,382.0 99,382.3 99.25,382.1 99.5,382.5 99.75,382.8 100,382.8 100.25,382.3 100.5,381.4 100.75,381.8 101,382.2 101.25,380.8 101.5,382.8 101.75,382.2 102,382.1 102.25,383.0 102.5,382.8 102.75,382.5 103,381.6 103.25,382.5 103.5,382.6 103.75,381.7 104,383.0 104.25,382.7 104.5,380.9 104.75,382.4 105,381.4 105.25,383.1 105.5,382.9 105.75,381.5 106,381.7 106.25,382.4 106.5,382.2 106.75,383.4 107,382.8 107.25,382.1 107.5,382.7 107.75,380.9 108,382.5 108.25,382.9 108.5,382.2 108.75,381.8 109,382.7 109.25,383.7 109.5,382.5 109.75,381.5 110,383.3 110.25,381.0 110.5,382.7 110.75,381.9 111,383.0 111.25,381.7 111.5,383.2 111.75,382.5 112,381.1 112.25,380.9 112.5,382.1 112.75,383.2 113,382.4 113.25,382.4 113.5,382.1 113.75,382.8 114,382.6 114.25,382.5 114.5,381.6 114.75,383.1 115,383.3 115.25,381.4 115.5,383.9 115.75,382.8 116,382.0 116.25,381.0 116.5,382.8 116.75,382.7 117,381.9 117.25,381.1 117.5,383.1 117.75,381.9 118,382.0 118.25,384.3 118.5,383.8 118.75,383.0 119,382.0 119.25,382.8 119.5,380.7 119.75,382.4 120,381.8 120.25,381.4 120.5,381.2 120.75,382.7 121,382.4 121.25,382.4 121.5,382.9 121.75,381.7 122,381.4 122.25,381.0 122.5,382.1 122.75,382.8 123,382.2 123.25,382.7 123.5,381.5 123.75,382.0 124,381.7 124.25,381.4 124.5,383.6 124.75,382.9 125,381.7 125.25,381.7 125.5,382.2 125.75,381.3 126,382.6 126.25,381.4 126.5,382.0 126.75,381.5 127,381.9 127.25,381.3 127.5,381.2 127.75,381.6 128,381.8 128.25,382.0 128.5,382.3 128.75,383.3 129,382.8 129.25,382.1 129.5,382.7 129.75,381.8 130,383.2 130.25,382.6 130.5,381.3 130.75,382.8 131,382.8 131.25,380.3 131.5,381.7 131.75,381.9 132,380.9 132.25,381.5 132.5,381.5 132.75,382.5 133,382.4 133.25,384.0 133.5,381.9 133.75,383.0 134,382.2 134.25,382.3 134.5,381.3 134.75,380.8 135,381.6 135.25,382.7 135.5,383.2 135.75,382.5 136,382.4 136.25,381.5 136.5,383.1 136.75,383.0 137,381.7 137.25,382.0 137.5,381.3 137.75,383.0 138,382.3 138.25,381.9 138.5,382.2 138.75,382.2 139,381.6 139.25,381.0 139.5,380.9 139.75,380.6 140,382.1 140.25,383.3 140.5,380.5 140.75,381.7 141,381.8 141.25,380.8 141.5,381.6 141.75,380.6 142,382.1 142.25,380.7 142.5,381.1 142.75,381.3 143,380.4 143.25,379.3 143.5,380.0 143.75,380.7 144,380.0 144.25,380.0 144.5,378.9 144.75,379.5 145,379.8 145.25,379.1 145.5,380.2 145.75,378.6 146,377.9 146.25,377.3 146.5,379.2 146.75,378.3 147,379.0 147.25,378.6 147.5,379.5 147.75,379.2 148,378.1 148.25,378.6 148.5,379.1 148.75,377.4 149,379.2 149.25,378.8 149.5,378.3 149.75,377.0 149.8,377.3 150,375.8 150.05,376.4 150.25,375.3 150.3,375.5 150.5,374.2 150.55,374.5 150.75,374.0 150.8,372.0 151,372.2 151.05,369.8 151.25,368.2 151.3,369.2 151.5,367.6 151.55,367.4 151.75,364.2 151.8,364.9 152,363.2 152.05,363.6 152.25,361.1 152.3,361.2 152.5,359.0 152.55,359.4 152.75,358.6 152.8,359.4 153,358.4 153.05,358.6 153.25,360.3 153.3,361.4 153.5,361.6 153.55,361.8 153.75,362.7 153.8,364.1 154,365.0 154.05,366.1 154.25,366.2 154.3,365.5 154.5,366.5 154.55,366.4 154.75,366.6 154.8,368.4 155,368.0 155.05,366.5 155.25,368.1 155.3,366.8 155.5,365.1 155.55,365.8 155.75,364.4 155.8,363.6 156,361.5 156.05,362.5 156.25,361.5 156.3,359.3 156.5,360.6 156.55,360.5 156.75,359.5 156.8,360.0 157,360.2 157.05,360.0 157.25,361.5 157.3,363.1 157.5,362.7 157.55,364.4 157.75,366.2 157.8,366.0 158,368.1 158.05,367.9 158.25,370.1 158.3,371.1 158.5,372.9 158.55,372.4 158.75,376.6 158.8,374.3 159,376.0 159.05,376.0 159.25,376.8 159.3,378.2 159.5,377.7 159.55,379.1 159.75,379.6 159.8,378.2 160,380.1 160.25,379.3 160.5,382.0 160.75,380.1 161,379.9 161.25,379.4 161.5,380.0 161.75,380.6 162,380.4 162.25,380.4 162.5,380.8 162.75,381.2 163,382.5 163.25,380.3 163.5,381.2 163.75,380.9 164,380.6 164.25,380.8 164.5,381.1 164.75,382.3 165,381.7 165.25,381.5 165.5,382.3 165.75,382.1 166,381.8 166.25,382.2 166.5,381.4 166.75,382.4 167,382.3 167.25,381.7 167.5,381.2 167.75,383.1 168,382.1 168.25,384.2 168.5,381.6 168.75,382.7 169,381.8 169.25,382.3 169.5,382.7 169.75,381.6 170,382.1 170.25,382.3 170.5,382.3 170.75,382.6 171,382.9 171.25,382.8 171.5,382.4 171.75,382.0 172,381.4 172.25,381.7 172.5,381.9 172.75,382.7 173,382.0 173.25,381.4 173.5,382.7 173.75,381.7 174,381.7 174.25,382.1 174.5,382.6 174.75,380.6 175,381.5 175.25,382.4 175.5,382.0 175.75,381.7 176,381.9 176.25,383.3 176.5,382.0 176.75,382.8 177,382.9 177.25,382.0 177.5,382.6 177.75,382.0 178,381.9 178.25,381.5 178.5,382.9 178.75,382.0 179,381.9 179.25,381.5 179.5,383.6 179.75,382.9 180,382.2 180.25,381.9 180.5,381.3 180.75,382.5 181,382.5 181.25,381.4 181.5,383.2 181.75,382.9 182,381.7 182.25,382.0 182.5,382.1 182.75,382.5 183,382.3 183.25,381.2 183.5,383.4 183.75,382.6 184,383.2 184.25,383.2 184.5,382.2 184.75,382.6 185,382.9 185.25,382.9 185.5,382.3 185.75,381.9 186,382.4 186.25,381.8 186.5,382.0 186.75,381.0 187,382.4 187.25,381.7 187.5,382.0 187.75,382.4 188,382.6 188.25,383.7 188.5,382.5 188.75,381.4 189,382.5 189.25,382.0 189.5,382.7 189.75,381.9 190,381.9 190.25,382.0 190.5,382.0 190.75,381.1 191,381.9 191.25,382.4 191.5,383.2 191.75,382.2 192,382.1 192.25,382.8 192.5,382.8 192.75,383.5 193,382.8 193.25,382.4 193.5,383.3 193.75,383.5 194,382.1 194.25,382.5 194.5,381.2 194.75,382.2 195,381.8 195.25,382.3 195.5,382.1 195.75,382.3 196,382.3 196.25,382.8 196.5,382.6 196.75,382.0 197,381.5 197.25,383.3 197.5,383.4 197.75,382.1 198,382.8 198.25,381.4 198.5,381.3 198.75,382.2 199,383.5 199.25,381.7 199.5,381.8 199.75,383.6 200,381.1 200.25,382.9 200.5,382.8 200.75,382.3 201,382.6 201.25,384.3 201.5,381.6 201.75,382.2 202,382.3 202.25,382.0 202.5,381.5 202.75,383.6 203,382.6 203.25,381.2 203.5,381.9 203.75,382.7 204,382.7 204.25,381.4 204.5,382.4 204.75,382.6 205,382.7 205.25,382.7 205.5,381.2 205.75,383.7 206,382.6 206.25,383.7 206.5,384.4 206.75,382.3 207,381.6 207.25,383.0 207.5,382.3 207.75,382.1 208,381.7 208.25,383.6 208.5,382.1 208.75,381.5 209,382.1 209.25,381.6 209.5,382.6 209.75,382.2 210,381.7 210.25,382.9 210.5,382.0 210.75,383.0 211,383.3 211.25,382.2 211.5,382.0 211.75,382.6 212,383.1 212.25,382.5 212.5,382.6 212.75,382.4 213,382.7 213.25,382.9 213.5,382.0 213.75,382.1 214,382.5 214.25,382.0 214.5,382.6 214.75,382.8 215,382.4 215.25,382.0 215.5,381.9 215.75,383.7 216,383.1 216.25,381.7 216.5,381.9 216.75,383.8 217,383.5 217.25,382.6 217.5,383.3 217.75,381.4 218,382.5 218.25,383.0 218.5,381.2 218.75,381.9 219,383.0 219.25,383.3 219.5,382.0 219.75,382.7 220,383.6 220.25,382.2 220.5,381.5 220.75,382.4 221,382.2 221.25,383.4 221.5,382.6 221.75,381.9 222,384.2 222.25,382.1 222.5,382.8 222.75,382.9 223,383.0 223.25,382.6 223.5,382.9 223.75,382.4 224,381.5 224.25,382.3 224.5,382.3 224.75,382.4 225,382.6 225.25,382.0 225.5,383.4 225.75,383.6 226,380.9 226.25,382.5 226.5,382.0 226.75,380.7 227,382.8 227.25,382.1 227.5,382.2 227.75,382.0 228,383.3 228.25,383.4 228.5,382.7 228.75,383.0 229,382.4 229.25,382.6 229.5,382.0 229.75,382.5 230,382.0 230.25,382.8 230.5,383.1 230.75,382.7 231,383.3 231.25,384.4 231.5,381.0 231.75,382.5 232,382.1 232.25,382.2 232.5,381.6 232.75,382.5 233,382.3 233.25,382.1 233.5,382.3 233.75,382.1 234,380.9 234.25,383.3 234.5,382.3 234.75,381.9 235,382.7 235.25,382.1 235.5,381.0 235.75,383.1 236,381.3 236.25,382.4 236.5,382.6 236.75,383.5 237,383.4 237.25,382.6 237.5,382.0 237.75,382.2 238,383.3 238.25,383.8 238.5,382.9 238.75,382.1 239,383.2 239.25,382.3 239.5,382.2 239.75,382.3 240,382.9 240.25,382.7 240.5,383.2 240.75,383.4 241,382.9 241.25,380.9 241.5,381.3 241.75,382.6 242,382.5 242.25,384.1 242.5,382.5 242.75,382.4 243,383.2 243.25,383.3 243.5,382.4 243.75,382.9 244,381.8 244.25,381.9 244.5,383.4 244.75,381.6 245,383.2 245.25,383.0 245.5,383.1 245.75,383.2 246,382.9 246.25,381.1 246.5,381.8 246.75,382.1 247,383.2 247.25,381.8 247.5,382.1 247.75,382.3 248,383.5 248.25,381.5 248.5,381.6 248.75,383.0 249,381.1 249.25,382.8 249.5,382.2 249.75,381.5 250,382.3 250.25,381.9 250.5,382.7 250.75,382.8 251,383.6 251.25,382.6 251.5,382.6 251.75,382.2 252,382.6 252.25,383.3 252.5,381.2 252.75,383.0 253,382.2 253.25,382.6 253.5,382.8 253.75,383.2 254,382.7 254.25,382.3 254.5,382.8 254.75,382.6 255,382.4 255.25,382.7 255.5,383.2 255.75,382.7 256,382.7 256.25,381.7 256.5,382.5 256.75,381.3 257,383.1 257.25,381.9 257.5,383.5 257.75,384.7 258,382.3 258.25,383.5 258.5,382.9 258.75,382.2 259,382.0 259.25,383.0 259.5,383.6 259.75,382.8 260,381.5 260.25,381.9 260.5,382.4 260.75,383.5 261,382.8 261.25,382.8 261.5,383.4 261.75,382.4 262,382.5 262.25,382.5 262.5,381.3 262.75,382.9 263,382.9 263.25,383.3 263.5,381.8 263.75,382.0 264,383.3 264.25,382.8 264.5,383.6 264.75,382.0 265,382.7 265.25,382.1 265.5,382.8 265.75,382.3 266,383.0 266.25,383.4 266.5,383.1 266.75,381.3 267,383.3 267.25,382.9 267.5,381.9 267.75,382.0 268,382.6 268.25,383.0 268.5,382.3 268.75,381.5 269,382.8 269.25,382.7 269.5,384.3 269.75,381.7 270,384.4 270.25,383.8 270.5,382.8 270.75,383.8 271,382.7 271.25,383.3 271.5,382.1 271.75,382.7 272,381.9 272.25,381.5 272.5,382.4 272.75,382.2 273,383.0 273.25,383.5 273.5,382.5 273.75,382.7 274,382.7 274.25,381.4 274.5,382.8 274.75,382.6 275,382.6 275.25,381.9 275.5,381.2 275.75,382.4 276,382.8 276.25,383.6 276.5,383.4 276.75,383.6 277,382.9 277.25,383.4 277.5,382.5 277.75,383.1 278,383.3 278.25,384.5 278.5,382.8 278.75,381.7 279,383.6 279.25,382.1 279.5,382.6 279.75,382.4 280,382.0 280.25,383.6 280.5,383.0 280.75,382.2 281,382.7 281.25,382.3 281.5,383.1 281.75,382.4 282,382.1 282.25,382.2 282.5,382.3 282.75,382.8 283,382.0 283.25,382.6 283.5,382.9 283.75,384.3 284,383.2 284.25,380.5 284.5,382.3 284.75,382.4 285,382.9 285.25,383.7 285.5,383.1 285.75,381.0 286,382.8 286.25,382.7 286.5,382.9 286.75,383.6 287,381.9 287.25,383.4 287.5,381.5 287.75,382.7 288,382.9 288.25,384.2 288.5,382.1 288.75,381.4 289,383.1 289.25,382.2 289.5,383.7 289.75,382.1 290,382.0 290.25,383.5 290.5,382.7 290.75,383.3 291,381.6 291.25,383.8 291.5,382.2 291.75,383.2 292,381.9 292.25,381.5 292.5,382.4 292.75,382.7 293,383.7 293.25,382.9 293.5,383.1 293.75,383.1 294,384.8 294.25,382.0 294.5,383.5 294.75,382.5 295,382.8 295.25,382.2 295.5,383.4 295.75,381.7 296,381.7 296.25,382.5 296.5,381.8 296.75,383.1 297,383.3 297.25,382.1 297.5,383.2 297.75,382.1 298,382.6 298.25,382.6 298.5,383.9 298.75,382.6 299,382.0 299.25,382.0 299.5,383.4 299.75,381.4 300,382.3 300.25,382.3 300.5,380.9 300.75,382.3 301,383.3 301.25,382.7 301.5,381.9 301.75,383.1 302,382.9 302.25,384.0 302.5,382.0 302.75,382.3 303,382.6 303.25,382.5 303.5,382.6 303.75,382.5 304,382.1 304.25,381.4 304.5,382.1 304.75,381.6 305,381.8 305.25,382.1 305.5,382.9 305.75,383.1 306,381.8 306.25,382.7 306.5,383.1 306.75,382.5 307,381.3 307.25,381.0 307.5,383.0 307.75,383.1 308,382.7 308.25,381.7 308.5,383.5 308.75,383.3 309,382.4 309.25,382.3 309.5,381.0 309.75,382.9 310,381.3 310.25,382.9 310.5,382.9 310.75,382.4 311,383.5 311.25,382.1 311.5,382.8 311.75,382.9 312,382.5 312.25,382.0 312.5,383.2 312.75,382.6 313,382.1 313.25,382.1 313.5,382.3 313.75,383.8 314,382.3 314.25,382.0 314.5,381.4 314.75,381.3 315,380.8 315.25,382.3 315.5,382.1 315.75,381.3 316,381.0 316.25,381.7 316.5,381.6 316.75,381.0 317,382.1 317.25,381.9 317.5,381.7 317.75,382.3 318,381.2 318.25,382.6 318.5,380.9 318.75,381.9 319,381.9 319.25,381.2 319.5,381.5 319.75,380.3 320,380.0 320.25,380.8 320.5,380.3 320.75,381.1 321,380.6 321.25,380.8 321.5,380.4 321.75,380.1 322,379.7 322.25,379.0 322.5,378.6 322.75,379.8 323,376.5 323.25,376.7 323.5,376.4 323.7,374.9 323.75,375.3 323.95,373.3 324,371.6 324.2,370.4 324.25,369.2 324.45,368.6 324.5,368.3 324.7,364.3 324.75,364.3 324.95,360.5 325,359.0 325.2,356.1 325.25,354.4 325.45,351.3 325.5,350.8 325.7,347.2 325.75,346.6 325.95,341.7 326,341.2 326.2,338.2 326.25,337.6 326.45,333.1 326.5,334.2 326.7,334.6 326.75,333.3 326.95,335.2 327,336.0 327.2,336.4 327.25,338.4 327.45,342.0 327.5,342.7 327.7,345.4 327.75,347.7 327.95,351.0 328,352.9 328.2,356.4 328.25,356.6 328.45,360.5 328.5,360.7 328.7,363.7 328.75,363.8 328.95,367.2 329,368.5 329.2,370.1 329.25,370.5 329.45,371.7 329.5,372.2 329.7,374.4 329.75,373.1 330,376.8 330.25,376.2 330.5,378.4 330.75,378.2 331,377.5 331.25,378.6 331.5,378.4 331.75,378.7 332,379.0 332.25,378.1 332.5,378.0 332.75,378.1 333,377.4 333.25,378.0 333.5,378.2 333.75,378.0 334,377.6 334.25,376.9 334.5,377.2 334.75,374.6 335,375.0 335.25,374.0 335.5,373.5 335.75,371.6 335.9,370.4 336,368.8 336.15,367.8 336.25,365.1 336.4,363.7 336.5,360.6 336.65,360.7 336.75,358.6 336.9,353.9 337,351.4 337.15,346.9 337.25,344.6 337.4,341.6 337.5,338.5 337.65,333.0 337.75,330.6 337.9,325.8 338,323.6 338.15,319.3 338.25,316.0 338.4,312.6 338.5,310.5 338.65,306.7 338.75,307.3 338.9,306.6 339,307.4 339.15,306.9 339.25,310.2 339.4,312.1 339.5,315.1 339.65,319.8 339.75,320.8 339.9,325.5 340,330.3 340.15,333.4 340.25,336.6 340.4,342.1 340.5,344.4 340.65,349.1 340.75,351.3 340.9,354.6 341,357.5 341.15,361.4 341.25,361.6 341.4,365.1 341.5,366.4 341.65,367.6 341.75,369.1 341.9,369.6 342,370.8 342.25,373.3 342.5,374.6 342.75,376.7 343,375.8 343.25,377.2 343.5,377.5 343.75,378.3 344,379.6 344.25,378.3 344.5,380.0 344.75,379.3 345,379.7 345.25,380.8 345.5,380.1 345.75,380.9 346,380.7 346.25,380.6 346.5,380.6 346.75,379.8 347,380.6 347.25,381.3 347.5,381.4 347.75,380.3 348,382.1 348.25,381.9 348.5,380.6 348.75,380.9 349,382.0 349.25,380.5 349.5,381.2 349.75,381.8 350,381.8 350.25,381.9 350.5,382.2 350.75,381.4 351,381.7 351.25,383.5 351.5,381.1 351.75,381.8 352,382.2 352.25,381.7 352.5,383.0 352.75,382.2 353,382.7 353.25,380.4 353.5,383.1 353.75,383.1 354,381.8 354.25,383.2 354.5,382.5 354.75,383.0 355,383.6 355.25,382.4 355.5,381.7 355.75,382.4 356,381.5 356.25,381.9 356.5,381.9 356.75,382.0 357,383.3 357.25,383.1 357.5,381.9 357.75,383.3 358,381.3 358.25,382.1 358.5,382.4 358.75,383.4 359,383.1 359.25,382.9 359.5,383.5 359.75,383.1 360,383.5 360.25,382.0 360.5,381.4 360.75,382.3 361,383.2 361.25,382.8 361.5,383.3 361.75,383.1 362,383.0 362.25,383.2 362.5,382.2 362.75,383.4 363,382.0 363.25,382.6 363.5,381.7 363.75,383.0 364,381.6 364.25,383.7 364.5,381.7 364.75,382.9 365,382.6 365.25,382.1 365.5,383.6 365.75,382.4 366,383.7 366.25,382.0 366.5,382.2 366.75,381.3 367,383.1 367.25,383.4 367.5,382.9 367.75,382.6 368,382.1 368.25,384.4 368.5,383.3 368.75,381.5 369,382.5 369.25,380.9 369.5,383.9 369.75,384.1 370,383.8 370.25,382.7 370.5,382.4 370.75,381.8 371,383.1 371.25,382.3 371.5,382.5 371.75,382.3 372,382.6 372.25,383.4 372.5,384.0 372.75,382.9 373,382.8 373.25,382.0 373.5,381.9 373.75,382.0 374,383.4 374.25,383.0 374.5,383.5 374.75,383.1 375,382.5 375.25,381.9 375.5,382.5 375.75,381.8 376,384.2 376.25,383.0 376.5,382.5 376.75,384.2 377,382.5 377.25,383.2 377.5,382.7 377.75,383.1 378,382.5 378.25,383.1 378.5,383.8 378.75,381.9 379,381.2 379.25,383.7 379.5,382.9 379.75,383.4 380,382.6 380.25,383.9 380.5,384.1 380.75,381.9 381,383.2 381.25,382.3 381.5,381.6 381.75,382.5 382,383.1 382.25,381.8 382.5,381.8 382.75,383.6 383,382.7 383.25,383.0 383.5,381.8 383.75,382.2 384,382.7 384.25,382.7 384.5,382.7 384.75,383.7 385,382.6 385.25,381.4 385.5,381.8 385.75,382.3 386,383.2 386.25,381.7 386.5,381.8 386.75,382.0 387,381.3 387.25,381.0 387.3,381.3 387.5,382.0 387.55,381.5 387.75,380.7 387.8,381.1 388,379.5 388.05,381.0 388.25,380.4 388.3,379.9 388.5,378.0 388.55,380.5 388.75,376.4 388.8,377.6 389,377.0 389.05,377.9 389.25,375.7 389.3,376.7 389.5,375.8 389.55,375.5 389.75,375.7 389.8,376.0 390,374.8 390.05,374.3 390.25,372.7 390.3,375.4 390.5,374.2 390.55,373.2 390.75,375.0 390.8,376.0 391,375.5 391.05,374.9 391.25,378.0 391.3,377.0 391.5,377.5 391.55,378.2 391.75,376.6 391.8,378.3 392,378.8 392.05,380.7 392.25,379.2 392.3,379.4 392.5,379.3 392.55,379.8 392.75,380.6 392.8,381.0 393,381.0 393.05,382.7 393.25,381.8 393.3,382.0 393.5,382.7 393.75,382.4 394,381.7 394.25,381.1 394.5,382.6 394.75,381.8 395,383.4 395.25,381.9 395.5,381.0 395.75,382.6 396,383.4 396.25,382.5 396.5,382.8 396.75,382.8 397,383.9 397.25,382.9 397.5,382.7 397.75,382.3 398,381.6 398.25,383.8 398.5,383.6 398.75,382.1 399,383.2 399.25,383.0 399.5,382.5 399.75,382.6 400,383.4 400.25,382.0 400.5,382.5 400.75,382.8 401,382.8 401.25,382.7 401.5,383.0 401.75,383.2 402,382.2 402.25,382.9 402.5,382.5 402.75,384.0 403,381.9 403.25,382.7 403.5,383.4 403.75,382.7 404,382.7 404.25,382.5 404.5,383.1 404.75,382.1 405,382.8 405.25,382.8 405.5,381.9 405.75,383.1 406,382.6 406.25,383.1 406.5,383.5 406.75,383.2 407,382.1 407.25,383.2 407.5,381.8 407.75,382.4 408,384.1 408.25,382.9 408.5,384.0 408.75,382.8 409,383.0 409.25,382.2 409.5,383.6 409.75,382.8 410,383.4 410.25,383.3 410.5,383.3 410.75,383.2 411,382.9 411.25,383.0 411.5,382.5 411.75,381.5 412,383.3 412.25,384.5 412.5,383.7 412.75,384.6 413,383.3 413.25,382.3 413.5,382.3 413.75,383.5 414,383.2 414.25,382.9 414.5,383.5 414.75,382.4 415,383.4 415.25,382.8 415.5,383.1 415.75,383.8 416,382.9 416.25,384.0 416.5,383.9 416.75,382.5 417,384.7 417.25,382.1 417.5,382.9 417.75,383.5 418,381.4 418.25,383.7 418.5,383.8 418.75,382.9 419,383.2 419.25,383.2 419.5,382.9 419.75,383.8 420,382.8 420.25,383.0 420.5,383.3 420.75,383.6 421,383.8 421.25,382.0 421.5,381.6 421.75,382.9 422,383.0 422.25,382.2 422.5,383.2 422.75,383.5 423,383.3 423.25,384.2 423.5,382.3 423.75,383.0 424,384.4 424.25,383.5 424.5,382.2 424.75,383.2 425,383.8 425.25,384.5 425.5,383.5 425.75,383.8 426,382.2 426.25,382.8 426.5,383.9 426.75,382.3 427,383.0 427.25,381.7 427.5,384.1 427.75,382.9 428,383.4 428.25,381.9 428.5,382.1 428.75,384.3 429,382.8 429.25,382.6 429.5,383.4 429.75,383.4 430,381.6 430.25,382.3 430.5,383.0 430.75,383.0 431,383.2 431.25,382.7 431.5,382.8 431.75,383.1 432,382.5 432.25,382.4 432.5,382.6 432.75,383.0 433,382.9 433.25,382.6 433.5,382.8 433.75,382.9 434,383.2 434.25,383.2 434.5,382.1 434.75,383.7 435,381.8 435.25,383.3 435.5,382.5 435.75,383.4 436,383.7 436.25,381.6 436.5,383.4 436.75,383.1 437,382.6 437.25,383.2 437.5,382.6 437.75,383.0 438,382.2 438.25,383.5 438.5,383.3 438.75,383.4 439,382.5 439.25,384.2 439.5,384.3 439.75,382.8 440,382.6 440.25,382.6 440.5,383.4 440.75,383.6 441,382.4 441.25,381.4 441.5,383.2 441.75,382.8 442,383.0 442.25,383.2 442.5,382.1 442.75,382.9 443,382.6 443.25,383.1 443.5,383.7 443.75,382.8 444,382.2 444.25,383.7 444.5,383.3 444.75,382.6 445,381.5 445.25,382.1 445.5,382.8 445.75,383.1 446,382.3 446.25,383.0 446.5,382.2 446.75,382.4 447,383.0 447.25,382.4 447.5,382.7 447.75,383.2 448,383.4 448.25,382.1 448.5,382.3 448.75,381.5 449,381.5 449.25,382.6 449.5,382.0 449.75,381.0 450,382.7 450.25,381.6 450.5,382.0 450.75,382.4 451,382.3 451.25,381.9 451.5,380.5 451.75,382.2 452,381.2 452.25,380.5 452.5,379.8 452.75,382.1 453,381.0 453.25,380.6 453.5,380.6 453.75,379.5 454,377.9 454.1,379.0 454.25,378.7 454.35,378.0 454.5,378.0 454.6,377.8 454.75,375.1 454.85,374.7 455,374.7 455.1,373.5 455.25,372.4 455.35,372.1 455.5,370.8 455.6,369.1 455.75,368.1 455.85,366.6 456,365.6 456.1,364.0 456.25,362.1 456.35,362.3 456.5,361.1 456.6,361.5 456.75,361.1 456.85,359.6 457,359.6 457.1,358.7 457.25,358.7 457.35,359.4 457.5,360.1 457.6,361.0 457.75,362.0 457.85,363.8 458,363.8 458.1,363.7 458.25,366.3 458.35,366.7 458.5,368.6 458.6,370.2 458.75,370.2 458.85,371.4 459,373.0 459.1,372.7 459.25,374.6 459.35,375.4 459.5,376.5 459.6,377.2 459.75,377.6 459.85,377.9 460,377.2 460.1,376.7 460.25,378.4 460.5,380.7 460.75,380.3 461,379.1 461.25,380.6 461.5,381.4 461.75,380.1 462,382.0 462.25,380.9 462.5,382.5 462.75,381.9 463,384.2 463.25,381.1 463.5,382.3 463.75,381.2 464,383.1 464.25,382.4 464.5,383.0 464.75,382.5 465,381.6 465.25,382.0 465.5,381.6 465.75,381.8 466,382.6 466.25,383.3 466.5,383.2 466.75,383.0 467,382.2 467.25,383.0 467.5,382.1 467.75,382.8 468,383.3 468.25,382.6 468.5,382.4 468.75,382.4 469,383.2 469.25,382.5 469.5,381.7 469.75,382.5 470,382.0 470.25,383.8 470.5,382.8 470.75,381.7 471,383.0 471.25,383.3 471.5,383.1 471.75,382.5 472,382.9 472.25,383.0 472.5,383.5 472.75,383.1 473,384.4 473.25,382.7 473.5,383.9 473.75,382.8 474,381.6 474.25,382.0 474.5,381.6 474.75,381.6 475,383.7 475.25,382.4 475.5,383.3 475.75,382.2 476,382.8 476.25,382.1 476.5,383.4 476.75,382.7 477,382.5 477.25,382.7 477.5,384.4 477.75,383.2 478,383.4 478.25,382.0 478.5,382.4 478.75,383.0 479,381.5 479.25,383.8 479.5,383.0 479.75,382.8 480,382.7 480.25,382.7 480.5,382.5 480.75,383.8 481,383.3 481.25,383.7 481.5,382.6 481.75,382.2 482,383.8 482.25,382.0 482.5,382.4 482.75,383.3 483,383.6 483.25,381.9 483.5,382.6 483.75,382.8 484,382.7 484.25,382.2 484.5,383.3 484.75,382.4 485,382.6 485.25,381.2 485.5,382.7 485.75,381.4 486,383.2 486.25,383.1 486.5,382.4 486.75,382.9 487,382.8 487.25,382.6 487.5,383.0 487.75,382.6 488,382.4 488.25,382.1 488.5,383.9 488.75,382.8 489,382.7 489.25,383.2 489.5,382.4 489.75,382.4 490,383.1 490.25,383.3 490.5,383.1 490.75,381.6 491,382.6 491.25,382.6 491.5,382.9 491.75,381.9 492,381.8 492.25,382.4 492.5,381.9 492.75,381.8 493,382.4 493.25,383.1 493.5,382.5 493.75,383.2 494,381.7 494.25,382.9 494.5,382.3 494.75,381.7 495,382.0 495.25,381.7 495.5,382.1 495.75,381.7 496,383.0 496.25,381.9 496.5,381.1 496.75,381.9 497,382.3 497.25,381.8 497.5,382.5 497.75,381.2 498,381.2 498.25,382.9 498.5,381.7 498.75,382.0 499,381.9 499.25,381.9 499.5,381.4 499.75,381.2 500,381.9 500.25,380.7 500.5,381.0 500.75,381.3 501,380.4 501.25,379.5 501.5,380.7 501.75,380.9 502,380.1 502.25,378.5 502.5,379.9 502.75,380.5 503,377.7 503.25,376.5 503.5,377.7 503.75,377.4 504,377.2 504.25,376.4 504.5,374.8 504.75,373.8 505,371.8 505.25,369.4 505.4,367.6 505.5,366.2 505.65,364.6 505.75,362.8 505.9,359.5 506,358.5 506.15,353.9 506.25,351.8 506.4,348.0 506.5,343.6 506.65,340.0 506.75,337.5 506.9,332.1 507,327.0 507.15,321.5 507.25,317.4 507.4,312.1 507.5,308.3 507.65,301.7 507.75,299.5 507.9,294.8 508,292.1 508.15,288.7 508.25,287.8 508.4,286.0 508.5,287.7 508.65,289.3 508.75,290.9 508.9,293.9 509,298.6 509.15,303.6 509.25,305.2 509.4,312.5 509.5,316.3 509.65,320.3 509.75,326.3 509.9,332.0 510,335.6 510.15,340.3 510.25,343.0 510.4,347.5 510.5,351.0 510.65,355.2 510.75,356.4 510.9,359.6 511,362.1 511.15,362.7 511.25,365.9 511.4,367.4 511.5,367.3 511.75,371.7 512,372.4 512.25,375.0 512.5,376.6 512.75,375.7 513,376.4 513.25,377.8 513.5,377.1 513.75,379.2 514,379.2 514.25,380.0 514.5,378.4 514.75,380.0 515,380.4 515.25,379.1 515.5,381.1 515.75,379.7 516,380.9 516.25,380.1 516.5,381.6 516.75,382.4 517,381.3 517.25,381.4 517.5,382.4 517.75,381.3 518,381.7 518.25,382.3 518.5,382.1 518.75,382.9 519,382.7 519.25,383.3 519.5,382.0 519.75,382.8 520,381.5 520.25,382.8 520.5,383.4 520.75,383.8 521,381.4 521.25,382.2 521.5,382.8 521.75,381.8 522,382.8 522.25,382.8 522.5,382.1 522.75,382.1 523,381.8 523.25,382.7 523.5,383.4 523.75,382.7 524,384.4 524.25,381.6 524.5,382.2 524.75,383.1 525,381.8 525.25,382.9 525.5,383.2 525.75,382.8 526,382.5 526.25,383.3 526.5,383.0 526.75,383.2 527,383.1 527.25,382.3 527.5,382.0 527.75,382.5 528,382.9 528.25,382.6 528.5,383.4 528.75,382.9 529,383.4 529.25,382.8 529.5,382.3 529.75,383.4 530,383.1 530.25,382.2 530.5,382.5 530.75,384.7 531,380.5 531.25,383.6 531.5,382.8 531.75,382.8 532,382.6 532.25,382.5 532.5,384.4 532.75,382.5 533,382.6 533.25,383.4 533.5,383.1 533.75,382.7 534,382.6 534.25,381.9 534.5,383.5 534.75,382.1 535,381.1 535.25,383.5 535.5,383.3 535.75,383.0 536,382.4 536.25,383.6 536.5,382.0 536.75,381.3 537,382.9 537.25,383.3 537.5,383.2 537.75,384.2 538,383.3 538.25,382.6 538.5,382.6 538.75,383.3 539,382.7 539.25,382.6 539.5,381.5 539.75,382.4 540,381.7 540.25,382.8 540.5,382.7 540.75,383.1 541,383.8 541.25,382.4 541.5,383.5 541.75,381.7 542,382.5 542.25,383.0 542.5,383.7 542.75,381.5 543,382.0 543.25,382.1 543.5,381.8 543.75,381.0 544,380.3 544.25,380.3 544.4,380.9 544.5,379.8 544.65,381.8 544.75,381.2 544.9,378.7 545,379.4 545.15,380.3 545.25,380.2 545.4,379.5 545.5,377.5 545.65,377.7 545.75,378.5 545.9,377.2 546,376.5 546.15,376.6 546.25,376.6 546.4,375.5 546.5,375.2 546.65,375.3 546.75,373.9 546.9,373.3 547,374.2 547.15,372.6 547.25,373.7 547.4,372.8 547.5,373.9 547.65,372.6 547.75,374.4 547.9,374.1 548,374.0 548.15,374.0 548.25,374.8 548.4,374.8 548.5,374.9 548.65,377.0 548.75,377.1 548.9,378.0 549,376.6 549.15,376.6 549.25,377.2 549.4,379.2 549.5,379.6 549.65,378.1 549.75,380.4 549.9,379.7 550,379.4 550.15,380.5 550.25,381.1 550.4,380.8 550.5,381.0 550.75,380.8 551,380.7 551.25,381.6 551.5,380.9 551.75,382.6 552,381.6 552.25,383.2 552.5,381.3 552.75,383.4 553,381.9 553.25,381.9 553.5,382.8 553.75,383.2 554,382.6 554.25,382.4 554.5,384.1 554.75,383.0 555,381.9 555.25,382.5 555.5,383.9 555.75,383.0 556,383.3 556.25,384.2 556.5,382.4 556.75,383.1 557,382.3 557.25,382.8 557.5,383.2 557.75,381.9 558,382.9 558.25,383.0 558.5,383.6 558.75,382.5 559,382.0 559.25,383.2 559.5,382.1 559.75,383.0 560,383.3 560.25,382.3 560.5,382.8 560.75,382.2 561,380.9 561.25,381.9 561.5,381.4 561.75,382.9 562,382.2 562.25,382.8 562.5,382.9 562.75,383.7 563,382.7 563.25,382.6 563.5,383.3 563.75,384.1 564,382.9 564.25,383.2 564.5,382.8 564.75,382.4 565,381.9 565.25,382.9 565.5,382.8 565.75,382.8 566,384.3 566.25,382.7 566.5,383.2 566.75,382.7 567,383.8 567.25,382.7 567.5,384.3 567.75,382.8 568,383.5 568.25,383.7 568.5,382.8 568.75,383.6 569,383.0 569.25,382.4 569.5,382.5 569.75,383.2 570,384.2 570.25,382.6 570.5,383.3 570.75,382.4 571,383.1 571.25,382.1 571.5,382.4 571.75,383.0 572,382.4 572.25,382.8 572.5,383.7 572.75,382.9 573,382.5 573.25,382.1 573.5,382.6 573.75,383.8 574,382.9 574.25,382.9 574.5,383.5 574.75,383.6 575,383.7 575.25,382.7 575.5,382.3 575.75,381.8 576,382.5 576.25,382.7 576.5,383.5 576.75,383.2 577,382.6 577.25,383.6 577.5,382.1 577.75,382.2 578,382.1 578.25,382.2 578.5,382.8 578.75,382.4 579,382.4 579.25,383.9 579.5,381.9 579.75,382.2 580,382.8 580.25,383.3 580.5,383.3 580.75,382.8 581,382.7 581.25,382.8 581.5,383.5 581.75,382.3 582,381.3 582.25,383.1 582.5,382.1 582.75,382.9 583,383.9 583.25,383.0 583.5,384.3 583.75,381.9 584,383.1 584.25,383.2 584.5,383.5 584.75,382.5 585,383.1 585.25,383.0 585.5,383.0 585.75,382.0 586,381.8 586.25,383.3 586.5,383.2 586.75,383.0 587,383.4 587.25,383.7 587.5,382.2 587.75,383.5 588,384.0 588.25,383.7 588.5,383.4 588.75,383.5 589,382.0 589.25,382.6 589.5,383.7 589.75,384.0 590,383.3 590.25,382.7 590.5,382.9 590.75,383.6 591,384.4 591.25,383.5 591.5,382.6 591.75,383.4 592,383.3 592.25,384.7 592.5,383.4 592.75,383.0 593,382.9 593.25,382.1 593.5,382.2 593.75,382.6 594,382.4 594.25,383.1 594.5,383.0 594.75,383.6 595,384.0 595.25,383.1 595.5,382.8 595.75,381.7 596,383.2 596.25,383.4 596.5,382.4 596.75,382.7 597,382.5 597.25,383.7 597.5,383.4 597.75,383.8 598,382.1 598.25,384.8 598.5,382.3 598.75,382.2 599,383.1 599.25,382.5 599.5,384.2 599.75,382.6 600,382.4 600.25,383.6 600.5,383.8 600.75,382.3 601,382.6 601.25,382.7 601.5,382.8 601.75,384.1 602,383.8 602.25,383.6 602.5,383.8 602.75,382.9 603,383.5 603.25,382.8 603.5,382.3 603.75,384.0 604,381.6 604.25,382.9 604.5,382.5 604.75,381.7 605,382.6 605.25,382.9 605.5,383.2 605.75,382.2 606,383.3 606.25,383.0 606.5,383.4 606.75,381.5 607,382.5 607.25,382.4 607.5,383.2 607.75,382.3 608,382.4 608.25,382.0 608.5,381.9 608.75,382.1 609,383.4 609.25,382.0 609.5,381.0 609.75,382.9 610,382.4 610.25,383.1 610.5,383.1 610.75,382.4 611,382.4 611.25,382.3 611.5,382.6 611.75,382.1 612,382.7 612.25,383.6 612.5,382.1 612.75,382.1 613,382.1 613.25,383.0 613.5,383.0 613.75,383.5 614,383.0 614.25,382.5 614.5,382.8 614.75,381.5 615,382.8 615.25,382.5 615.5,383.8 615.75,383.3 616,381.7 616.25,381.8 616.5,382.8 616.75,380.7 617,381.5 617.25,382.3 617.5,382.4 617.75,382.1 618,382.7 618.25,381.6 618.5,381.8 618.75,381.5 619,380.7 619.25,381.4 619.5,380.9 619.75,381.2 620,379.1 620.25,380.8 620.5,380.1 620.75,379.7 621,379.7 621.25,378.8 621.5,379.1 621.75,378.4 621.8,378.0 622,377.1 622.05,376.5 622.25,375.1 622.3,373.9 622.5,373.2 622.55,373.9 622.75,372.1 622.8,370.8 623,369.4 623.05,369.5 623.25,366.7 623.3,367.4 623.5,363.5 623.55,364.1 623.75,361.8 623.8,360.9 624,358.9 624.05,358.5 624.25,354.7 624.3,356.3 624.5,355.5 624.55,354.7 624.75,354.7 624.8,353.1 625,354.2 625.05,354.6 625.25,355.3 625.3,356.7 625.5,357.9 625.55,357.7 625.75,360.6 625.8,361.2 626,362.5 626.05,363.8 626.25,365.8 626.3,366.3 626.5,367.2 626.55,369.4 626.75,370.8 626.8,370.8 627,372.6 627.05,373.0 627.25,373.9 627.3,374.0 627.5,375.6 627.55,375.4 627.75,376.3 627.8,376.1 628,377.4 628.25,379.0 628.5,379.0 628.75,379.3 629,379.3 629.25,379.5 629.5,378.9 629.75,381.3 630,379.7 630.25,379.2 630.5,380.6 630.75,380.5 631,379.9 631.25,379.2 631.5,379.2 631.75,381.2 632,379.9 632.25,379.4 632.5,381.0 632.75,379.2 633,378.6 633.25,379.3 633.5,378.8 633.75,379.1 634,376.2 634.2,376.7 634.25,375.1 634.45,375.7 634.5,374.7 634.7,373.6 634.75,373.1 634.95,372.8 635,372.9 635.2,370.0 635.25,369.4 635.45,367.2 635.5,367.4 635.7,364.0 635.75,366.6 635.95,361.4 636,362.1 636.2,358.4 636.25,356.7 636.45,354.1 636.5,354.3 636.7,352.0 636.75,351.9 636.95,349.8 637,352.0 637.2,351.4 637.25,348.6 637.45,350.7 637.5,351.5 637.7,351.8 637.75,352.3 637.95,355.2 638,355.4 638.2,356.5 638.25,358.8 638.45,359.9 638.5,362.2 638.7,362.4 638.75,362.0 638.95,365.7 639,366.9 639.2,368.2 639.25,368.3 639.45,368.9 639.5,370.5 639.7,369.6 639.75,371.6 639.95,370.9 640,371.5 640.2,371.4 640.25,371.7 640.5,373.4 640.75,371.2 641,371.4 641.25,369.5 641.5,369.1 641.7,365.6 641.75,366.0 641.95,364.3 642,364.6 642.2,359.2 642.25,358.6 642.45,355.5 642.5,355.6 642.7,349.6 642.75,349.7 642.95,343.8 643,342.2 643.2,336.3 643.25,336.1 643.45,330.9 643.5,328.6 643.7,321.3 643.75,321.0 643.95,316.5 644,315.2 644.2,310.2 644.25,310.0 644.45,305.1 644.5,304.6 644.7,306.3 644.75,305.2 644.95,306.0 645,306.4 645.2,308.3 645.25,311.8 645.45,314.7 645.5,316.1 645.7,323.2 645.75,325.8 645.95,330.4 646,332.5 646.2,337.8 646.25,339.8 646.45,343.8 646.5,347.8 646.7,350.5 646.75,352.7 646.95,355.2 647,358.9 647.2,361.5 647.25,363.5 647.45,364.6 647.5,366.4 647.7,368.0 647.75,368.6 648,372.0 648.25,372.3 648.5,374.9 648.75,376.9 649,377.7 649.25,377.9 649.5,378.0 649.75,377.5 650,379.7 650.25,378.5 650.5,380.1 650.75,379.3 651,379.8 651.25,380.0 651.5,380.6 651.75,380.1 652,380.6 652.25,380.3 652.5,381.2 652.75,381.1 653,381.3 653.25,380.5 653.5,381.4 653.75,381.3 654,381.8 654.25,381.5 654.5,380.8 654.75,382.1 655,381.1 655.25,381.8 655.5,380.2 655.75,382.1 656,382.2 656.25,381.1 656.5,382.2 656.75,381.6 657,382.9 657.25,382.4 657.5,381.0 657.75,381.8 658,380.7 658.25,381.7 658.5,382.4 658.75,382.6 659,381.9 659.25,381.8 659.5,382.1 659.75,381.5 660,382.2 660.25,382.7 660.5,382.1 660.75,382.5 661,381.3 661.25,381.5 661.5,382.1 661.75,383.2 662,382.4 662.25,382.9 662.5,381.6 662.75,382.4 663,380.2 663.25,381.6 663.5,379.5 663.75,381.6 664,380.8 664.25,380.8 664.5,379.8 664.6,378.9 664.75,378.3 664.85,378.6 665,379.0 665.1,378.0 665.25,376.6 665.35,376.1 665.5,375.2 665.6,375.0 665.75,374.2 665.85,373.3 666,372.7 666.1,370.9 666.25,372.1 666.35,370.4 666.5,370.2 666.6,368.7 666.75,367.3 666.85,366.8 667,366.0 667.1,364.8 667.25,364.4 667.35,365.7 667.5,364.7 667.6,363.6 667.75,364.5 667.85,363.8 668,365.9 668.1,364.6 668.25,366.8 668.35,366.8 668.5,367.8 668.6,367.9 668.75,369.4 668.85,369.8 669,370.8 669.1,372.4 669.25,374.9 669.35,373.6 669.5,375.4 669.6,375.3 669.75,375.6 669.85,377.6 670,377.8 670.1,378.5 670.25,378.4 670.35,378.8 670.5,378.6 670.6,379.2 670.75,381.0 671,378.7 671.25,381.0 671.5,382.1 671.75,381.9 672,382.1 672.25,381.5 672.5,382.6 672.75,382.7 673,382.0 673.25,383.3 673.5,381.8 673.75,380.5 674,382.3 674.25,382.3 674.5,381.8 674.75,382.1 675,382.1 675.25,381.2 675.5,383.4 675.75,382.6 676,384.5 676.25,382.6 676.5,382.9 676.75,381.6 677,383.4 677.25,381.9 677.5,383.1 677.75,383.4 678,383.3 678.25,382.2 678.5,382.2 678.75,383.3 679,383.6 679.25,383.8 679.5,382.8 679.75,382.8 680,384.1 680.25,382.4 680.5,383.4 680.75,382.6 681,381.9 681.25,382.1 681.5,383.2 681.75,383.0 682,383.2 682.25,382.7 682.5,382.6 682.75,383.1 683,382.8 683.25,381.8 683.5,382.6 683.75,384.1 684,382.4 684.25,383.3 684.5,382.9 684.75,383.5 685,382.3 685.25,382.1 685.5,383.3 685.75,382.5 686,382.9 686.25,382.7 686.5,383.6 686.75,383.2 687,383.1 687.25,382.3 687.5,381.9 687.75,382.4 688,383.6 688.25,383.5 688.5,383.4 688.75,382.7 689,382.3 689.25,383.8 689.5,383.1 689.75,383.4 690,382.3 690.25,382.5 690.5,383.5 690.75,383.5 691,382.3 691.25,383.2 691.5,382.2 691.75,383.9 692,383.5 692.25,384.6 692.5,384.1 692.75,382.6 693,383.2 693.25,382.7 693.5,383.1 693.75,383.6 694,383.0 694.25,383.1 694.5,382.1 694.75,383.4 695,383.0 695.25,383.5 695.5,383.8 695.75,383.1 696,383.5 696.25,382.6 696.5,383.7 696.75,383.0 697,382.6 697.25,382.9 697.5,382.1 697.75,382.6 698,382.7 698.25,383.1 698.5,383.0 698.75,382.6 699,382.9 699.25,381.6 699.5,383.1 699.75,383.4 700,383.6 700.25,383.8 700.5,382.9 700.75,383.0 701,382.7 701.25,382.7 701.5,383.1 701.75,384.0 702,381.9 702.25,382.7 702.5,383.2 702.75,382.4 703,383.3 703.25,382.1 703.5,382.8 703.75,381.9 704,383.2 704.25,382.5 704.5,383.5 704.75,382.9 705,382.4 705.25,382.8 705.5,383.1 705.75,383.0 706,382.9 706.25,382.8 706.5,383.1 706.75,383.6 707,382.7 707.25,383.4 707.5,382.1 707.75,383.7 708,383.3 708.25,382.8 708.5,382.8 708.75,381.9 709,383.1 709.25,382.9 709.5,382.1 709.75,382.7 710,383.5 710.25,383.2 710.5,383.2 710.75,382.7 711,383.6 711.25,383.0 711.5,383.6 711.75,384.6 712,381.7 712.25,382.7 712.5,383.1 712.75,382.6 713,383.8 713.25,382.8 713.5,384.2 713.75,383.6 714,383.4 714.25,383.1 714.5,383.7 714.75,383.4 715,384.1 715.25,383.4 715.5,383.8 715.75,383.4 716,383.3 716.25,382.0 716.5,383.1 716.75,383.3 717,382.3 717.25,382.1 717.5,382.9 717.75,383.3 718,381.9 718.25,383.3 718.5,383.7 718.75,382.9 719,383.2 719.25,383.4 719.5,382.6 719.75,383.5 720,383.4 720.25,382.2 720.5,383.4 720.75,383.7 721,382.3 721.25,383.7 721.5,382.9 721.75,382.1 722,382.3 722.25,382.5 722.5,383.4 722.75,382.7 723,382.8 723.25,382.2 723.5,383.1 723.75,382.2 724,382.6 724.25,383.5 724.5,383.5 724.75,382.7 725,383.0 725.25,383.4 725.5,383.0 725.75,383.9 726,384.0 726.25,383.0 726.5,382.2 726.75,382.9 727,384.0 727.25,383.8 727.5,383.9 727.75,383.8 728,382.7 728.25,383.2 728.5,383.8 728.75,383.2 729,383.6 729.25,382.3 729.5,382.2 729.75,384.4 730,383.5 730.25,383.4 730.5,384.0 730.75,384.5 731,385.0 731.25,381.3 731.5,383.3 731.75,383.7 732,381.6 732.25,381.7 732.5,382.8 732.75,384.3 733,383.6 733.25,384.4 733.5,383.1 733.75,383.7 734,384.0 734.25,383.2 734.5,382.9 734.75,383.0 735,380.3 735.25,383.1 735.5,381.5 735.75,382.3 736,383.3 736.25,383.1 736.5,381.4 736.75,383.1 737,383.3 737.25,382.9 737.5,383.2 737.75,383.1 738,381.5 738.25,382.5 738.5,382.4 738.75,381.7 739,382.5 739.25,381.9 739.5,382.4 739.75,381.8 740,383.1 740.25,383.9 740.5,381.9 740.75,382.3 741,382.2 741.25,382.4 741.5,381.9 741.75,380.3 742,382.0 742.25,381.5 742.5,380.7 742.75,381.1 743,380.6 743.25,380.8 743.5,380.0 743.75,379.5 743.9,379.4 744,379.2 744.15,378.5 744.25,379.0 744.4,377.7 744.5,376.6 744.65,377.6 744.75,376.0 744.9,376.2 745,373.7 745.15,373.9 745.25,374.1 745.4,372.7 745.5,371.2 745.65,369.6 745.75,368.8 745.9,368.0 746,366.7 746.15,365.8 746.25,365.0 746.4,364.1 746.5,364.5 746.65,362.5 746.75,363.6 746.9,363.8 747,362.6 747.15,362.8 747.25,363.7 747.4,364.2 747.5,365.4 747.65,364.1 747.75,366.0 747.8,367.3 747.9,366.9 748,368.7 748.05,369.3 748.15,367.9 748.25,369.9 748.3,369.5 748.4,369.6 748.5,369.9 748.55,370.2 748.65,370.1 748.75,371.0 748.8,372.0 748.9,372.5 749,371.6 749.05,372.4 749.15,372.5 749.25,370.7 749.3,372.9 749.4,371.7 749.5,371.8 749.55,373.2 749.65,373.8 749.75,371.8 749.8,372.0 749.9,371.9 750,372.1 750.05,372.2 750.25,371.7 750.3,371.2 750.5,373.5 750.55,371.9 750.75,371.8 750.8,373.0 751,372.4 751.05,373.5 751.25,373.8 751.3,374.1 751.5,373.7 751.55,374.6 751.75,373.8 751.8,374.1 752,375.8 752.05,375.7 752.25,377.6 752.3,376.6 752.5,376.2 752.55,377.6 752.75,377.9 752.8,378.4 753,377.9 753.05,378.3 753.25,379.3 753.3,379.8 753.5,379.9 753.55,380.2 753.75,378.9 753.8,379.8 754,380.2 754.25,380.8 754.5,380.3 754.75,379.8 755,379.6 755.25,379.3 755.5,377.9 755.75,378.3 756,378.2 756.25,377.3 756.5,374.6 756.75,375.0 757,373.0 757.25,373.9 757.5,372.8 757.75,372.4 758,371.3 758.25,370.6 758.5,371.8 758.75,373.1 759,373.2 759.25,374.5 759.5,377.5 759.75,376.3 760,378.5 760.25,377.6 760.5,379.7 760.75,380.7 761,380.9 761.25,381.8 761.5,382.6 761.75,380.6 762,381.9 762.25,382.3 762.5,382.4 762.75,383.3 763,382.4 763.25,383.2 763.5,383.2 763.75,382.6 764,382.9 764.25,382.0 764.5,382.8 764.75,382.7 765,382.5 765.25,382.3 765.5,383.4 765.75,382.6 766,384.3 766.25,383.7 766.5,383.3 766.75,382.4 767,383.5 767.25,382.9 767.5,382.9 767.75,382.1 768,383.3 768.25,383.1 768.5,382.6 768.75,382.4 769,382.7 769.25,382.0 769.5,382.5 769.75,383.9 770,382.5 770.25,384.6 770.5,382.0 770.75,383.7 771,383.7 771.25,383.8 771.5,383.4 771.75,381.8 772,383.8 772.25,383.7 772.5,383.0 772.75,381.3 773,383.7 773.25,382.3 773.5,382.8 773.75,383.8 774,383.9 774.25,383.2 774.5,382.6 774.75,384.1 775,383.7 775.25,382.8 775.5,382.2 775.75,383.1 776,381.9 776.25,384.1 776.5,383.2 776.75,382.6 777,383.1 777.25,381.7 777.5,382.8 777.75,382.3 778,381.7 778.25,382.3 778.5,383.0 778.75,381.7 779,382.5 779.25,381.6 779.5,382.7 779.75,381.3 780,383.0 780.25,382.8 780.5,382.9 780.75,383.4 781,382.1 781.25,381.9 781.5,382.0 781.75,381.0 782,379.7 782.25,379.7 782.5,379.2 782.75,379.7 783,378.5 783.25,378.0 783.5,377.9 783.75,376.9 784,377.4 784.25,375.2 784.5,374.1 784.75,375.2 785,373.9 785.25,374.3 785.5,375.4 785.75,375.4 786,376.4 786.25,376.3 786.5,377.2 786.75,378.6 787,378.5 787.25,379.2 787.5,380.0 787.75,381.6 788,381.9 788.25,381.4 788.5,381.5 788.75,381.2 789,382.8 789.25,382.3 789.5,382.7 789.75,381.1 790,382.7 790.25,382.3 790.5,382.7 790.75,382.9 791,382.1 791.25,381.7 791.5,382.4 791.75,380.9 792,382.6 792.2,381.7 792.25,380.7 792.45,382.2 792.5,381.9 792.7,382.1 792.75,381.7 792.95,381.1 793,380.7 793.2,379.7 793.25,380.9 793.45,380.5 793.5,379.8 793.7,380.2 793.75,379.1 793.95,380.2 794,379.5 794.2,379.3 794.25,378.6 794.45,379.5 794.5,378.9 794.7,378.3 794.75,378.9 794.95,378.4 795,379.2 795.2,377.4 795.25,377.7 795.45,380.0 795.5,378.2 795.7,379.0 795.75,378.4 795.95,379.1 796,380.8 796.2,377.8 796.25,379.7 796.45,379.6 796.5,379.6 796.7,379.3 796.75,379.3 796.95,381.2 797,380.7 797.2,379.7 797.25,380.7 797.45,380.0 797.5,383.0 797.7,381.5 797.75,380.0 797.95,382.1 798,382.0 798.2,381.9 798.25,381.9 798.5,381.6 798.75,382.0 799,380.9 799.25,383.3 799.5,383.9 799.75,382.9 800,383.1 800.25,381.8 800.5,382.5 800.75,381.8 801,381.9 801.25,383.3 801.5,383.9 801.75,382.9 802,384.7 802.25,383.6 802.5,381.4 802.75,382.7 803,383.9 803.25,383.1 803.5,383.8 803.75,381.9 804,384.0 804.25,382.2 804.5,383.3 804.75,384.6 805,383.2 805.25,382.9 805.5,383.6 805.75,382.5 806,382.5 806.25,383.8 806.5,382.1 806.75,382.3 807,384.4 807.25,382.3 807.5,383.5 807.75,383.9 808,383.1 808.25,382.4 808.5,383.7 808.75,382.5 809,384.7 809.25,384.7 809.5,382.5 809.75,383.6 810,382.7 810.25,383.4 810.5,383.0 810.75,382.5 811,383.6 811.25,382.0 811.5,383.4 811.75,383.1 812,382.6 812.25,383.8 812.5,383.2 812.75,383.0 813,383.1 813.25,383.0 813.5,383.9 813.75,383.0 814,381.2 814.25,381.0 814.5,382.5 814.75,382.3 815,383.0 815.25,382.3 815.5,382.6 815.75,384.1 816,382.3 816.25,383.8 816.5,383.1 816.75,384.1 817,383.8 817.25,383.3 817.5,384.0 817.75,383.4 818,382.4 818.25,383.6 818.5,383.6 818.75,383.2 819,383.4 819.25,382.9 819.5,383.5 819.75,383.1 820,382.2 820.25,383.1 820.5,384.4 820.75,383.8 821,384.3 821.25,383.3 821.5,383.0 821.75,382.5 822,383.4 822.25,384.0 822.5,383.8 822.75,383.8 823,382.9 823.25,383.3 823.5,382.7 823.75,383.8 824,383.7 824.25,382.8 824.5,383.4 824.75,381.7 825,383.8 825.25,382.7 825.5,383.0 825.75,383.7 826,383.7 826.25,382.8 826.5,384.4 826.75,384.7 827,384.3 827.25,384.2 827.5,383.3 827.75,384.2 828,382.6 828.25,382.5 828.5,383.4 828.75,383.4 829,382.7 829.25,384.5 829.5,382.2 829.75,381.8 830,383.0 830.25,384.4 830.5,383.8 830.75,383.5 831,383.4 831.25,383.7 831.5,383.5 831.75,383.3 832,383.2 832.25,382.1 832.5,383.9 832.75,383.0 833,383.5 833.25,383.6 833.5,384.0 833.75,382.7 834,383.8 834.25,383.9 834.5,383.2 834.75,383.2 835,383.4 835.25,382.5 835.5,382.9 835.75,382.5 836,384.1 836.25,382.7 836.5,382.5 836.75,383.4 837,383.6 837.25,383.0 837.5,382.6 837.75,383.5 838,383.9 838.25,382.1 838.5,383.9 838.75,382.0 839,383.7 839.25,382.9 839.5,383.1 839.75,383.8 840,384.3 840.25,384.7 840.5,384.2 840.75,383.7 841,382.3 841.25,383.0 841.5,383.3 841.75,382.8 842,383.7 842.25,383.1 842.5,384.5 842.75,383.1 843,382.4 843.25,382.9 843.5,382.7 843.75,383.7 844,384.2 844.25,384.0 844.5,384.0 844.75,382.8 845,382.5 845.25,382.7 845.5,383.3 845.75,383.0 846,383.4 846.25,384.0 846.5,383.3 846.75,384.4 847,382.7 847.25,383.7 847.5,383.2 847.75,384.0 848,383.2 848.25,382.9 848.5,383.2 848.75,382.6 849,382.5 849.25,383.8 849.5,382.8 849.75,384.1 850,385.0 850.25,383.0 850.5,383.9 850.75,383.2 851,381.9 851.25,383.2 851.5,384.3 851.75,382.4 852,383.1 852.25,383.1 852.5,382.2 852.75,383.4 853,383.1 853.25,383.6 853.5,383.3 853.75,382.2 854,383.3 854.25,383.6 854.5,383.0 854.75,383.6 855,383.6 855.25,381.7 855.5,383.6 855.75,381.8 856,382.3 856.25,383.1 856.5,382.5 856.75,382.6 857,383.9 857.25,382.4 857.5,384.0 857.75,384.4 858,384.1 858.25,382.4 858.5,382.1 858.75,383.2 859,384.6 859.25,383.0 859.5,382.7 859.75,383.0 860,383.6 860.25,383.9 860.5,383.1 860.75,383.0 861,383.5 861.25,383.1 861.5,382.8 861.75,381.8 862,383.2 862.25,382.6 862.5,382.9 862.75,382.9 863,382.4 863.25,383.4 863.5,383.8 863.75,383.4 864,382.6 864.25,383.1 864.5,383.5 864.75,382.9 865,383.5 865.25,382.0 865.5,382.8 865.75,384.0 866,383.6 866.25,382.8 866.5,383.0 866.75,384.4 867,383.6 867.25,382.4 867.5,383.1 867.75,382.5 868,382.4 868.25,381.9 868.5,383.2 868.75,384.3 869,383.3 869.25,381.7 869.5,383.0 869.75,381.5 870,382.7 870.25,383.2 870.5,383.4 870.75,382.4 871,382.4 871.25,382.1 871.5,381.9 871.75,382.9 872,381.0 872.25,380.3 872.5,382.3 872.75,382.3 873,379.1 873.2,380.5 873.25,380.3 873.45,378.8 873.5,378.3 873.7,378.4 873.75,377.9 873.95,378.0 874,376.7 874.2,377.1 874.25,375.6 874.45,376.2 874.5,375.4 874.7,374.5 874.75,373.2 874.95,372.1 875,371.9 875.2,371.7 875.25,370.1 875.45,369.0 875.5,369.1 875.7,368.7 875.75,368.2 875.95,367.6 876,366.6 876.2,366.9 876.25,366.5 876.45,368.2 876.5,367.5 876.7,368.5 876.75,367.2 876.95,368.8 877,369.3 877.2,369.2 877.25,369.7 877.45,370.7 877.5,371.3 877.7,372.3 877.75,371.3 877.95,373.2 878,373.3 878.2,373.9 878.25,373.2 878.45,374.2 878.5,375.3 878.7,375.5 878.75,374.3 878.95,376.0 879,374.6 879.2,374.3 879.25,375.7 879.45,375.1 879.5,376.5 879.7,374.7 879.75,375.0 879.95,375.4 880,375.1 880.2,374.8 880.25,375.2 880.45,375.4 880.5,375.5 880.7,375.9 880.75,374.9 880.95,377.1 881,376.2 881.2,377.0 881.25,376.7 881.45,377.7 881.5,378.6 881.7,379.4 881.75,378.8 881.95,379.2 882,378.8 882.2,379.5 882.25,379.9 882.45,380.0 882.5,379.6 882.7,380.6 882.75,379.9 882.95,382.4 883,381.2 883.2,380.9 883.25,381.7 883.5,381.1 883.75,381.6 884,383.0 884.25,383.0 884.5,381.3 884.75,381.5 885,382.0 885.25,383.9 885.5,382.5 885.75,382.6 886,382.1 886.25,383.4 886.5,383.2 886.75,381.3 887,382.0 887.25,381.3 887.5,381.8 887.75,382.0 888,381.6 888.25,382.1 888.5,383.0 888.75,383.3 889,382.6 889.25,383.0 889.5,381.5 889.75,383.5 890,384.0 890.25,382.2 890.5,382.7 890.75,382.4 891,380.5 891.25,382.6 891.5,382.0 891.75,380.3 892,380.9 892.1,381.8 892.25,381.2 892.35,379.7 892.5,380.0 892.6,379.7 892.75,380.0 892.85,379.2 893,379.4 893.1,379.0 893.25,377.7 893.35,378.7 893.5,378.2 893.6,377.3 893.75,377.8 893.85,378.6 894,375.5 894.1,376.5 894.25,376.5 894.35,375.7 894.5,374.9 894.6,376.6 894.75,374.5 894.85,374.6 895,374.1 895.1,375.3 895.25,373.0 895.35,373.9 895.5,374.3 895.6,375.0 895.75,375.3 895.8,375.8 895.85,375.1 896,375.0 896.05,375.6 896.1,375.1 896.25,375.6 896.3,375.8 896.35,376.5 896.5,377.1 896.55,375.9 896.6,376.3 896.75,377.0 896.8,377.2 896.85,377.1 897,377.9 897.05,377.4 897.1,376.4 897.25,378.8 897.3,377.0 897.35,379.1 897.5,378.3 897.55,378.4 897.6,377.2 897.75,378.5 897.8,378.2 897.85,377.8 898,378.9 898.05,379.1 898.1,379.4 898.25,377.8 898.3,378.1 898.5,379.8 898.55,379.2 898.75,379.5 898.8,378.6 899,379.4 899.05,379.8 899.25,378.6 899.3,379.0 899.5,379.9 899.55,380.7 899.75,379.7 899.8,380.5 900,379.8 900.05,379.6 900.25,381.1 900.3,380.0 900.5,381.0 900.55,380.6 900.75,381.5 900.8,380.4 901,380.4 901.05,380.5 901.25,381.5 901.3,382.5 901.5,382.3 901.55,381.9 901.75,381.8 901.8,382.7 902,381.9 902.25,382.7 902.5,382.9 902.75,382.4 903,382.2 903.25,382.1 903.5,381.7 903.75,381.8 904,380.9 904.25,380.8 904.5,382.3 904.75,381.0 905,379.8 905.25,381.8 905.5,381.8 905.75,381.3 906,380.2 906.25,382.5 906.5,382.1 906.75,382.4 907,381.5 907.25,382.2 907.5,381.9 907.75,382.0 908,381.5 908.25,381.9 908.5,382.2 908.75,382.7 909,383.4 909.25,383.2 909.5,381.6 909.75,383.6 910,381.9 910.25,383.3 910.5,382.9 910.75,383.1 911,382.7 911.25,382.3 911.5,384.2 911.75,381.4 912,382.5 912.25,384.0 912.5,383.1 912.75,383.1 913,382.5 913.25,382.3 913.5,383.5 913.75,383.0 914,383.4 914.25,383.7 914.5,382.0 914.75,382.4 915,382.7 915.25,383.3 915.5,383.7 915.75,382.5 916,383.0 916.25,383.1 916.5,383.1 916.75,384.3 917,382.7 917.25,383.3 917.5,381.6 917.75,383.1 918,383.3 918.25,383.7 918.5,382.8 918.75,382.8 919,382.4 919.25,382.9 919.5,384.9 919.75,382.0 920,382.0 920.25,383.3 920.5,382.6 920.75,384.1 921,382.2 921.25,384.4 921.5,382.9 921.75,382.1 922,381.7 922.25,382.6 922.5,382.8 922.75,383.5 923,382.3 923.25,385.4 923.5,383.8 923.75,383.1 924,382.9 924.25,385.1 924.5,382.7 924.75,383.8 925,384.3 925.25,382.6 925.5,383.7 925.75,382.9 926,384.2 926.25,384.3 926.5,383.6 926.75,383.4 927,382.4 927.25,385.0 927.5,384.3 927.75,383.8 928,384.3 928.25,383.3 928.5,382.5 928.75,383.9 929,382.6 929.25,382.9 929.5,383.8 929.75,382.2 930,383.3 930.25,383.1 930.5,382.5 930.75,382.4 931,383.1 931.25,383.1 931.5,383.4 931.75,382.2 932,383.3 932.25,382.4 932.5,382.7 932.75,383.9 933,382.8 933.25,382.9 933.5,382.7 933.75,383.3 934,383.9 934.25,383.0 934.5,383.7 934.75,382.4 935,383.6 935.25,383.2 935.5,383.3 935.75,382.6 936,382.8 936.25,383.5 936.5,382.4 936.75,383.8 937,383.0 937.25,383.6 937.5,382.5 937.75,382.1 938,383.7 938.25,383.7 938.5,383.2 938.75,383.7 939,383.3 939.25,383.7 939.5,383.4 939.75,382.6 940,384.0 940.25,382.6 940.5,384.8 940.75,383.2 941,382.6 941.25,383.1 941.5,383.3 941.75,383.3 942,383.6 942.25,382.8 942.5,381.8 942.75,382.7 943,383.6 943.25,384.0 943.5,381.9 943.75,383.3 944,384.0 944.25,382.3 944.5,384.4 944.75,382.7 945,383.2 945.25,382.9 945.5,384.5 945.75,383.9 946,383.3 946.25,383.0 946.5,382.0 946.75,383.0 947,382.8 947.25,383.1 947.5,381.9 947.75,384.1 948,383.9 948.25,384.3 948.5,382.8 948.75,383.2 949,382.3 949.25,383.8 949.5,383.0 949.75,384.4 950,383.7 950.25,383.7 950.5,383.6 950.75,382.1 951,383.7 951.25,382.0 951.5,383.4 951.75,383.6 952,382.3 952.25,382.7 952.5,383.0 952.75,383.3 953,383.3 953.25,383.1 953.5,382.5 953.75,383.3 954,384.8 954.25,382.6 954.5,384.2 954.75,382.2 955,382.6 955.25,383.9 955.5,383.6 955.75,384.1 956,383.4 956.25,382.5 956.5,383.0 956.75,382.6 957,383.6 957.25,383.3 957.5,383.7 957.75,382.3 958,382.6 958.25,382.4 958.5,382.4 958.75,382.5 959,383.5 959.25,382.6 959.5,383.3 959.75,382.6 960,381.1 960.25,381.3 960.5,382.0 960.75,382.9 961,381.9 961.25,380.8 961.5,381.7 961.75,381.2 962,381.5 962.25,381.4 962.5,380.5 962.75,379.3 963,378.4 963.25,378.1 963.5,377.3 963.75,376.4 964,374.5 964.25,372.9 964.5,372.0 964.75,370.6 965,368.5 965.25,365.9 965.5,365.1 965.75,365.9 966,363.3 966.25,364.0 966.5,365.6 966.75,365.5 967,367.3 967.25,369.9 967.5,371.1 967.75,370.4 967.9,372.8 968,372.5 968.15,372.3 968.25,374.3 968.4,373.5 968.5,374.0 968.65,373.7 968.75,374.9 968.9,375.0 969,374.9 969.15,375.9 969.25,374.5 969.4,373.6 969.5,374.1 969.65,373.6 969.75,373.6 969.9,371.1 970,373.1 970.15,373.6 970.25,372.5 970.4,371.2 970.5,373.0 970.65,371.9 970.75,372.7 970.9,372.0 971,371.2 971.15,370.5 971.25,371.9 971.4,372.6 971.5,372.3 971.65,372.2 971.75,374.1 971.9,373.6 972,375.5 972.15,374.8 972.25,375.8 972.4,376.0 972.5,376.9 972.65,377.6 972.75,376.1 972.9,377.6 973,378.0 973.15,378.4 973.25,379.1 973.4,380.4 973.5,379.1 973.65,380.5 973.75,380.1 973.9,380.1 974,379.8 974.25,380.6 974.5,380.7 974.75,382.0 975,383.0 975.25,382.4 975.5,382.7 975.75,381.7 976,382.8 976.25,381.8 976.5,381.8 976.75,382.7 977,382.1 977.25,383.0 977.5,382.6 977.75,382.4 978,382.1 978.25,382.6 978.5,382.7 978.75,382.5 979,383.1 979.25,381.9 979.5,381.2 979.6,381.2 979.75,381.3 979.85,381.3 980,381.8 980.1,382.9 980.25,381.0 980.35,381.0 980.5,381.1 980.6,380.7 980.75,380.8 980.85,381.7 981,382.0 981.1,380.5 981.25,380.8 981.35,381.4 981.5,380.9 981.6,380.4 981.75,380.7 981.85,380.3 982,379.8 982.1,380.6 982.25,379.7 982.35,379.8 982.5,380.3 982.6,379.3 982.75,380.6 982.85,379.7 983,379.5 983.1,380.6 983.25,380.8 983.35,381.1 983.5,381.5 983.6,379.9 983.75,380.6 983.85,380.1 984,380.5 984.1,381.7 984.25,381.4 984.35,381.5 984.5,381.7 984.6,381.3 984.75,382.5 984.85,381.1 985,382.3 985.1,381.6 985.25,381.5 985.35,383.5 985.5,382.0 985.6,382.8 985.75,381.9 986,382.0 986.25,383.5 986.5,383.0 986.75,382.9 987,383.2 987.25,383.4 987.5,383.6 987.75,383.4 988,383.5 988.25,383.3 988.5,383.2 988.75,383.9 989,381.7 989.25,383.7 989.5,383.2 989.75,383.3 990,383.0 990.25,382.7 990.5,383.6 990.75,382.4 991,382.6 991.25,382.6 991.5,384.4 991.75,383.2 992,383.2 992.25,382.3 992.5,383.3 992.75,383.8 993,382.5 993.25,383.3 993.5,383.4 993.75,383.7 994,383.9 994.25,384.6 994.5,383.3 994.75,383.3 995,382.8 995.25,383.9 995.5,383.3 995.75,383.6 996,383.8 996.25,383.2 996.5,383.2 996.75,383.4 997,383.4 997.25,383.3 997.5,383.2"/>
<polyline fill="none" stroke="#008080" stroke-width="4.8" stroke-linejoin="round" stroke-linecap="round" points="60.5,287.6 60.75,288.0 61,287.6 61.25,286.5 61.5,288.0 61.75,287.7 62,287.0 62.25,287.8 62.5,287.6 62.75,287.6 63,287.4 63.25,287.8 63.5,286.9 63.75,287.2 64,287.0 64.25,287.8 64.5,287.4 64.75,287.1 65,286.8 65.25,287.1 65.5,287.3 65.75,287.1 66,288.2 66.25,288.0 66.5,285.3 66.75,285.9 67,287.1 67.25,286.9 67.5,287.3 67.75,287.2 68,288.5 68.25,286.1 68.5,286.5 68.6,288.2 68.75,287.1 68.85,287.0 69,286.1 69.1,285.2 69.25,286.3 69.35,286.2 69.5,285.1 69.6,285.3 69.75,285.5 69.85,284.8 70,285.1 70.1,285.1 70.25,284.8 70.35,284.2 70.5,284.7 70.6,284.7 70.75,284.0 70.85,283.1 71,283.9 71.1,282.9 71.25,283.7 71.35,282.2 71.5,283.6 71.6,282.9 71.75,282.1 71.85,282.8 72,283.2 72.1,283.4 72.25,282.8 72.35,282.9 72.5,284.0 72.6,283.8 72.75,284.5 72.85,285.1 73,283.7 73.1,285.2 73.25,286.1 73.35,285.2 73.5,285.1 73.6,286.3 73.75,286.2 73.85,286.7 74,286.0 74.1,285.3 74.25,286.4 74.35,286.3 74.5,287.2 74.6,286.9 74.75,285.7 75,286.1 75.25,287.6 75.5,287.5 75.75,286.7 76,287.2 76.25,287.5 76.5,287.5 76.75,287.9 77,287.4 77.25,287.2 77.5,287.1 77.75,288.0 78,285.7 78.25,287.2 78.5,287.4 78.75,286.3 79,287.6 79.25,286.9 79.5,288.0 79.75,287.3 80,287.8 80.25,288.2 80.5,287.7 80.75,286.8 81,286.3 81.25,288.6 81.5,287.3 81.75,286.9 82,287.5 82.25,287.3 82.5,288.0 82.75,287.4 83,287.4 83.25,286.9 83.5,287.7 83.75,286.7 84,287.9 84.25,288.5 84.5,286.4 84.75,285.7 85,287.9 85.25,289.2 85.5,286.7 85.75,286.6 86,287.8 86.25,286.8 86.5,287.1 86.75,287.2 87,287.8 87.25,287.2 87.5,287.6 87.75,287.3 88,286.8 88.25,287.2 88.5,286.8 88.75,287.4 89,286.7 89.25,286.7 89.5,288.5 89.75,287.4 90,287.4 90.25,287.8 90.5,287.1 90.75,287.3 91,287.7 91.25,287.6 91.5,286.6 91.75,288.0 92,287.0 92.25,286.7 92.5,286.8 92.75,287.2 93,288.6 93.25,286.6 93.5,287.6 93.75,285.9 94,287.4 94.25,288.1 94.5,287.3 94.75,287.0 95,287.6 95.25,287.9 95.5,287.9 95.75,288.8 96,287.6 96.25,287.0 96.5,287.3 96.75,287.4 97,287.5 97.25,287.4 97.5,287.6 97.75,286.3 98,288.0 98.25,287.0 98.5,286.6 98.75,287.9 99,288.4 99.25,287.8 99.5,287.5 99.75,286.8 100,289.4 100.25,288.0 100.5,286.6 100.75,286.9 101,287.5 101.25,286.3 101.5,287.5 101.75,287.1 102,288.3 102.25,288.1 102.5,285.5 102.75,287.4 103,286.3 103.25,288.2 103.5,287.5 103.75,287.8 104,286.7 104.25,288.7 104.5,288.8 104.75,286.7 105,287.7 105.25,286.9 105.5,287.4 105.75,286.5 106,288.7 106.25,286.7 106.5,287.2 106.75,287.7 107,286.9 107.25,287.2 107.5,287.0 107.75,287.3 108,286.6 108.25,287.1 108.5,287.2 108.75,287.1 109,287.4 109.25,287.2 109.5,287.9 109.75,287.1 110,287.3 110.25,286.9 110.5,287.0 110.75,286.5 111,287.7 111.25,286.6 111.5,286.8 111.75,287.6 112,287.6 112.25,287.1 112.5,285.9 112.75,287.6 113,287.5 113.25,286.4 113.5,287.9 113.75,286.8 114,286.5 114.25,287.4 114.5,287.2 114.75,287.5 115,286.2 115.25,288.6 115.5,286.9 115.75,286.2 116,287.7 116.25,287.1 116.5,287.5 116.75,287.1 117,287.2 117.25,287.5 117.5,286.8 117.75,287.8 118,286.9 118.25,286.7 118.5,287.3 118.75,287.6 119,287.1 119.25,286.6 119.5,287.7 119.75,286.0 120,286.5 120.25,287.2 120.5,286.3 120.75,287.2 121,287.2 121.25,287.8 121.5,286.5 121.75,286.7 122,287.4 122.25,285.4 122.5,289.3 122.75,286.7 123,286.6 123.25,287.7 123.5,287.1 123.75,285.9 124,287.5 124.25,287.7 124.5,286.8 124.75,286.9 125,287.4 125.25,286.4 125.5,287.3 125.75,287.2 126,286.5 126.25,286.0 126.5,286.8 126.75,286.4 127,287.7 127.25,287.0 127.5,287.5 127.75,287.0 128,287.1 128.25,286.3 128.5,287.3 128.75,288.1 129,286.6 129.25,286.4 129.5,286.7 129.75,286.4 130,286.2 130.25,286.8 130.5,286.5 130.75,287.7 131,286.6 131.25,286.8 131.5,287.2 131.75,286.3 132,287.5 132.25,286.0 132.5,285.9 132.75,286.1 133,286.3 133.25,285.3 133.5,286.3 133.75,285.1 134,287.2 134.25,286.1 134.5,285.6 134.75,285.4 135,285.7 135.25,285.7 135.5,285.1 135.75,285.1 136,285.5 136.25,285.2 136.5,286.2 136.75,286.2 137,285.3 137.25,285.5 137.5,284.1 137.75,285.4 138,284.8 138.25,285.0 138.5,285.6 138.75,282.8 139,284.4 139.25,283.2 139.5,284.2 139.75,282.6 140,282.9 140.25,283.1 140.5,283.1 140.75,282.4 141,281.4 141.25,281.1 141.5,281.7 141.75,280.5 142,278.8 142.25,279.9 142.5,278.8 142.75,278.3 143,276.4 143.25,276.1 143.5,273.4 143.75,272.8 144,269.9 144.25,268.0 144.5,264.6 144.75,258.6 144.8,257.9 145,252.6 145.05,251.9 145.25,244.4 145.3,241.0 145.5,232.7 145.55,230.2 145.75,219.0 145.8,212.9 146,198.4 146.05,195.6 146.25,175.3 146.3,170.4 146.5,150.4 146.55,145.2 146.75,120.7 146.8,115.6 147,91.7 147.05,86.9 147.25,64.4 147.3,60.3 147.5,43.3 147.55,40.9 147.75,34.4 147.8,35.0 148,39.0 148.05,40.5 148.25,55.6 148.3,60.2 148.5,80.1 148.55,85.7 148.75,109.2 148.8,114.1 149,138.9 149.05,144.6 149.25,165.6 149.3,171.8 149.5,189.3 149.55,194.2 149.75,210.2 149.8,215.5 150,225.7 150.05,230.1 150.25,240.3 150.3,242.1 150.5,250.3 150.55,250.4 150.75,255.2 150.8,258.5 151,261.3 151.25,266.0 151.5,268.4 151.75,272.4 152,274.1 152.25,274.5 152.5,276.9 152.75,277.4 153,278.1 153.25,279.0 153.5,279.6 153.75,280.8 154,281.1 154.25,281.1 154.5,282.5 154.75,281.8 155,282.8 155.25,283.2 155.5,284.2 155.75,283.1 156,284.9 156.25,284.0 156.5,284.0 156.75,283.8 157,284.9 157.25,284.7 157.5,284.0 157.75,284.1 158,284.7 158.25,284.7 158.5,286.1 158.75,286.4 159,286.1 159.25,285.8 159.5,285.4 159.75,285.8 160,286.4 160.25,287.4 160.5,286.6 160.75,285.8 161,286.1 161.25,285.8 161.5,285.7 161.75,286.1 162,286.4 162.25,287.6 162.5,286.4 162.75,287.4 163,287.7 163.25,286.6 163.5,287.7 163.75,287.1 164,286.3 164.25,286.8 164.5,286.7 164.75,286.5 165,286.6 165.25,286.9 165.5,287.1 165.75,286.2 166,286.8 166.25,285.8 166.5,287.1 166.75,287.3 167,287.0 167.25,287.1 167.5,287.4 167.75,286.5 168,286.8 168.25,287.4 168.5,287.7 168.75,287.3 169,288.8 169.25,287.0 169.5,287.8 169.75,288.0 170,287.0 170.25,286.5 170.5,286.3 170.75,287.3 171,287.9 171.25,287.4 171.5,287.3 171.75,286.9 172,287.6 172.25,285.7 172.5,287.4 172.75,287.2 173,286.3 173.25,288.8 173.5,286.3 173.75,286.5 174,286.4 174.25,288.0 174.5,286.7 174.75,287.8 175,287.7 175.25,287.5 175.5,286.4 175.75,286.9 176,288.5 176.25,286.4 176.5,286.8 176.75,287.2 177,287.9 177.25,287.5 177.5,287.9 177.75,286.6 178,288.0 178.25,287.8 178.5,286.3 178.75,288.5 179,289.0 179.25,286.9 179.5,287.4 179.75,288.4 180,286.4 180.25,286.0 180.5,286.5 180.75,287.0 181,287.0 181.25,287.9 181.5,287.6 181.75,286.6 182,287.8 182.25,288.8 182.5,288.3 182.75,288.1 183,287.5 183.25,288.1 183.5,286.8 183.75,288.0 184,287.4 184.25,288.3 184.5,287.8 184.75,286.7 185,287.6 185.25,288.3 185.5,286.7 185.75,287.1 186,287.0 186.25,286.4 186.5,288.2 186.75,288.4 187,288.1 187.25,287.7 187.5,287.5 187.75,287.7 188,287.0 188.25,288.1 188.5,288.2 188.75,288.2 189,287.1 189.25,287.6 189.5,287.4 189.75,288.8 190,287.7 190.25,286.2 190.5,287.8 190.75,288.9 191,288.0 191.25,288.2 191.5,287.6 191.75,286.2 192,286.3 192.25,286.7 192.5,287.5 192.75,287.8 193,288.0 193.25,287.3 193.5,288.2 193.75,287.4 194,287.1 194.25,288.2 194.5,286.9 194.75,285.7 195,286.8 195.25,287.6 195.5,285.4 195.75,287.3 196,287.3 196.25,286.6 196.5,286.5 196.75,287.3 197,287.2 197.25,288.5 197.5,287.8 197.75,286.5 198,287.0 198.25,288.1 198.5,288.9 198.75,287.9 199,287.8 199.25,288.9 199.5,287.6 199.75,287.4 200,286.6 200.25,287.2 200.5,289.1 200.75,286.6 201,287.6 201.25,286.6 201.5,287.7 201.75,288.2 202,287.4 202.25,288.1 202.5,288.1 202.75,287.9 203,288.8 203.25,288.2 203.5,287.4 203.75,287.1 204,287.0 204.25,287.9 204.5,287.4 204.75,289.5 205,288.9 205.25,287.5 205.5,287.4 205.75,288.8 206,286.3 206.25,287.3 206.5,288.3 206.75,287.0 207,287.3 207.25,287.4 207.5,288.1 207.75,287.7 208,287.9 208.25,288.0 208.5,287.6 208.75,288.4 209,287.1 209.25,286.6 209.5,286.4 209.75,286.5 210,287.2 210.25,288.4 210.5,287.8 210.75,287.2 211,286.9 211.25,287.3 211.5,287.4 211.75,287.2 212,286.6 212.25,287.3 212.5,288.4 212.75,286.1 213,287.5 213.25,286.2 213.5,287.8 213.75,287.1 214,286.2 214.25,287.7 214.5,288.9 214.75,287.7 215,288.5 215.25,287.6 215.5,286.1 215.75,288.0 216,287.4 216.25,286.6 216.5,288.2 216.75,287.9 217,287.3 217.25,288.3 217.5,287.0 217.75,288.1 218,287.0 218.25,288.0 218.5,286.9 218.75,288.7 219,287.8 219.25,288.7 219.5,287.1 219.75,287.3 220,288.2 220.25,285.7 220.5,286.9 220.75,288.4 221,288.0 221.25,288.3 221.5,287.4 221.75,288.1 222,287.2 222.25,286.7 222.5,286.5 222.75,287.3 223,287.3 223.25,287.2 223.5,285.2 223.75,286.3 224,287.3 224.25,287.9 224.5,287.3 224.75,287.1 225,286.1 225.25,289.1 225.5,286.9 225.75,288.9 226,288.8 226.25,287.9 226.5,287.3 226.75,287.8 227,286.9 227.25,287.9 227.5,287.7 227.75,288.1 228,288.3 228.25,288.9 228.5,287.4 228.75,288.4 229,287.1 229.25,287.1 229.5,287.2 229.75,287.0 230,288.4 230.25,288.3 230.5,288.6 230.75,287.7 231,287.9 231.25,287.3 231.5,286.9 231.75,288.0 232,287.9 232.25,286.9 232.5,288.1 232.75,286.5 233,287.6 233.25,287.2 233.5,287.3 233.75,286.9 234,288.4 234.25,288.1 234.5,288.5 234.75,287.8 235,286.8 235.25,287.4 235.5,286.9 235.75,288.0 236,288.5 236.25,287.9 236.5,287.3 236.75,287.4 237,287.8 237.25,286.7 237.5,287.8 237.75,287.8 238,287.3 238.25,287.4 238.5,287.8 238.75,287.1 239,287.1 239.25,288.2 239.5,287.8 239.75,288.9 240,287.0 240.25,286.4 240.5,288.3 240.75,288.3 241,287.2 241.25,286.6 241.5,287.6 241.75,286.5 242,287.4 242.25,286.1 242.5,287.5 242.75,286.2 243,287.5 243.25,288.7 243.5,287.5 243.75,288.2 244,287.2 244.25,287.0 244.5,286.6 244.75,288.4 245,287.6 245.25,288.8 245.5,286.8 245.75,287.5 246,287.7 246.25,288.7 246.5,288.9 246.75,287.2 247,286.9 247.25,286.4 247.5,288.6 247.75,287.6 248,287.2 248.25,287.6 248.5,285.9 248.75,286.5 249,288.3 249.25,287.9 249.5,287.8 249.75,287.0 250,288.1 250.25,288.9 250.5,286.8 250.75,287.7 251,287.4 251.25,287.9 251.5,287.7 251.75,287.6 252,287.1 252.25,287.7 252.5,287.2 252.75,287.6 253,287.6 253.25,288.1 253.5,287.3 253.75,287.5 254,288.4 254.25,287.5 254.5,287.5 254.75,288.3 255,287.9 255.25,287.8 255.5,287.9 255.75,286.8 256,288.0 256.25,288.6 256.5,288.1 256.75,286.6 257,287.9 257.25,287.1 257.5,287.6 257.75,287.8 258,286.9 258.25,288.7 258.5,287.7 258.75,288.3 259,288.2 259.25,288.7 259.5,288.6 259.75,286.7 260,287.8 260.25,286.2 260.5,287.4 260.75,288.2 261,288.4 261.25,288.6 261.5,287.5 261.75,288.0 262,287.8 262.25,288.6 262.5,288.9 262.75,287.5 263,290.4 263.25,287.8 263.5,287.5 263.75,288.2 264,288.3 264.25,288.1 264.5,287.3 264.75,288.8 265,287.8 265.25,288.8 265.5,288.7 265.75,286.9 266,287.1 266.25,287.1 266.5,287.9 266.75,287.8 267,288.0 267.25,287.2 267.5,288.1 267.75,288.8 268,286.8 268.25,287.6 268.5,288.0 268.75,287.7 269,287.6 269.25,289.0 269.5,288.7 269.75,288.4 270,287.3 270.25,289.4 270.5,288.0 270.75,287.4 271,287.6 271.25,287.4 271.5,289.3 271.75,287.9 272,287.8 272.25,286.3 272.5,288.3 272.75,287.1 273,287.0 273.25,288.2 273.5,287.2 273.75,288.4 274,288.6 274.25,286.5 274.5,287.7 274.75,286.7 275,287.7 275.25,288.4 275.5,286.8 275.75,289.1 276,287.6 276.25,287.0 276.5,287.7 276.75,288.3 277,286.8 277.25,287.8 277.5,286.8 277.75,288.6 278,287.9 278.25,287.5 278.5,288.5 278.75,286.9 279,287.5 279.25,289.1 279.5,287.7 279.75,288.7 280,287.9 280.25,287.3 280.5,287.6 280.75,287.8 281,287.5 281.25,287.2 281.5,287.2 281.75,286.7 282,287.8 282.25,288.0 282.5,288.3 282.75,286.5 283,288.3 283.25,287.7 283.5,286.7 283.75,287.8 284,288.3 284.25,288.1 284.5,288.2 284.75,288.4 285,288.3 285.25,287.7 285.5,286.3 285.75,287.2 286,288.0 286.25,287.4 286.5,288.2 286.75,288.2 287,287.7 287.25,289.0 287.5,287.0 287.75,288.3 288,287.3 288.25,287.1 288.5,288.1 288.75,287.2 289,288.2 289.25,286.8 289.5,287.6 289.75,287.0 290,287.4 290.25,287.3 290.5,286.8 290.75,288.0 291,286.7 291.25,286.9 291.5,288.2 291.75,288.2 292,288.0 292.25,287.7 292.5,289.1 292.75,286.6 293,286.9 293.25,286.7 293.5,288.1 293.75,287.6 294,288.2 294.25,288.1 294.5,287.2 294.75,286.8 295,286.6 295.25,288.8 295.5,287.9 295.75,287.7 296,287.0 296.25,287.0 296.5,286.9 296.75,286.9 297,285.4 297.25,287.0 297.5,286.8 297.75,287.2 298,287.1 298.25,287.5 298.5,286.8 298.75,287.4 299,285.0 299.25,285.9 299.5,287.9 299.75,285.7 300,286.3 300.25,286.9 300.5,285.8 300.75,286.8 301,285.2 301.25,284.8 301.5,285.1 301.75,284.8 302,285.8 302.25,285.5 302.5,285.8 302.75,284.7 303,287.0 303.25,285.0 303.5,284.8 303.75,285.0 304,284.3 304.25,283.8 304.5,284.0 304.75,284.3 305,283.8 305.25,283.6 305.5,282.1 305.75,281.5 306,282.9 306.25,280.7 306.5,280.5 306.75,279.9 307,279.3 307.25,276.2 307.5,275.2 307.75,273.2 308,270.8 308.25,265.9 308.5,263.2 308.75,255.7 309,250.9 309.25,242.4 309.5,232.0 309.75,218.4 310,205.9 310.25,189.4 310.5,173.3 310.75,158.3 311,145.4 311.25,137.2 311.5,134.5 311.75,135.6 312,145.6 312.25,159.6 312.5,174.3 312.75,190.3 313,204.2 313.25,219.9 313.5,230.4 313.75,242.1 314,251.7 314.25,259.0 314.5,263.6 314.75,268.2 315,270.5 315.25,273.2 315.5,276.3 315.75,277.0 316,278.2 316.25,278.3 316.5,280.2 316.75,281.3 317,280.9 317.25,281.6 317.5,283.5 317.75,283.0 318,283.0 318.25,282.7 318.5,283.4 318.75,283.9 319,285.3 319.25,284.1 319.5,286.0 319.75,284.2 320,284.8 320.25,285.8 320.5,285.1 320.75,284.8 321,285.4 321.25,285.9 321.5,284.5 321.75,285.6 322,285.7 322.25,285.6 322.5,286.4 322.75,285.6 323,285.7 323.25,286.0 323.5,286.5 323.75,285.9 324,287.1 324.25,285.4 324.5,286.9 324.75,285.3 325,285.8 325.25,286.1 325.5,287.2 325.75,286.3 326,285.2 326.25,286.2 326.5,285.0 326.75,284.3 327,284.8 327.25,284.2 327.5,284.2 327.75,282.4 328,282.0 328.25,280.9 328.5,279.0 328.75,276.8 329,273.8 329.25,272.1 329.5,268.3 329.75,264.9 330,260.6 330.25,257.3 330.5,253.5 330.75,252.2 331,251.9 331.25,252.2 331.5,254.9 331.75,257.6 332,261.9 332.25,264.6 332.5,267.2 332.75,272.0 333,274.5 333.25,276.4 333.5,279.6 333.75,281.0 334,282.5 334.25,282.9 334.5,284.1 334.75,284.8 335,286.3 335.25,285.0 335.5,285.8 335.75,286.3 336,285.0 336.25,285.3 336.5,288.1 336.75,285.4 337,287.2 337.25,286.3 337.5,286.5 337.75,285.7 338,286.5 338.25,287.8 338.5,286.3 338.75,287.8 339,287.6 339.25,288.9 339.5,287.2 339.75,288.4 340,288.2 340.25,287.4 340.5,286.5 340.75,288.8 341,286.8 341.25,287.4 341.5,288.4 341.75,288.6 342,287.3 342.25,287.8 342.5,287.7 342.75,288.7 343,289.7 343.25,286.7 343.5,288.6 343.75,286.0 344,288.0 344.25,287.2 344.5,289.4 344.75,288.2 345,287.5 345.25,287.7 345.5,287.7 345.75,288.2 346,288.0 346.25,288.6 346.5,289.2 346.75,288.6 347,287.3 347.25,287.0 347.5,287.6 347.75,288.9 348,287.9 348.25,287.7 348.5,288.3 348.75,287.2 349,287.4 349.25,288.6 349.5,288.0 349.75,287.9 350,288.4 350.25,287.8 350.5,287.7 350.75,287.9 351,288.7 351.25,288.3 351.5,287.4 351.75,288.0 352,288.7 352.25,289.6 352.5,287.5 352.75,288.5 353,288.1 353.25,288.8 353.5,288.6 353.75,289.3 354,288.6 354.25,287.9 354.5,287.9 354.75,288.5 355,288.5 355.25,289.9 355.5,289.4 355.75,287.4 356,288.5 356.25,287.3 356.5,287.1 356.75,288.8 357,288.6 357.25,287.5 357.5,289.4 357.75,287.6 358,287.4 358.25,288.7 358.5,288.4 358.75,288.1 359,288.2 359.25,288.4 359.5,288.1 359.75,288.1 360,286.9 360.25,287.2 360.5,288.6 360.75,287.7 361,288.5 361.25,289.0 361.5,287.9 361.75,288.3 362,289.5 362.25,288.5 362.5,289.3 362.75,289.1 363,288.5 363.25,287.9 363.5,287.3 363.75,287.1 364,288.2 364.25,288.2 364.5,287.7 364.75,288.3 365,287.3 365.25,288.4 365.5,287.6 365.75,287.5 366,287.5 366.25,287.3 366.5,289.1 366.75,286.1 367,287.2 367.25,287.9 367.5,287.4 367.75,286.5 368,287.8 368.25,285.6 368.5,285.2 368.75,286.3 369,284.5 369.25,283.4 369.5,285.2 369.75,284.5 370,283.6 370.25,281.6 370.5,280.7 370.75,278.2 371,277.9 371.25,274.7 371.5,271.6 371.75,266.2 372,264.3 372.25,260.6 372.5,256.2 372.75,251.9 373,248.1 373.25,245.6 373.5,245.4 373.75,246.1 374,248.2 374.25,251.2 374.5,256.6 374.75,258.8 375,263.7 375.25,267.2 375.5,271.9 375.75,275.2 376,277.6 376.25,279.4 376.5,279.7 376.75,283.5 377,283.5 377.25,283.9 377.5,284.7 377.75,285.0 378,285.9 378.25,286.2 378.5,286.0 378.75,284.7 379,286.7 379.25,287.2 379.5,287.4 379.75,287.0 380,287.6 380.25,288.1 380.5,287.1 380.75,288.6 381,286.3 381.25,286.8 381.5,287.2 381.75,286.1 382,287.2 382.25,288.8 382.5,288.9 382.75,288.1 383,289.3 383.25,288.3 383.5,287.8 383.75,288.4 384,288.1 384.25,288.8 384.5,287.2 384.75,289.0 385,288.0 385.25,289.0 385.5,287.3 385.75,288.1 386,288.5 386.25,289.1 386.5,287.6 386.75,289.7 387,288.8 387.25,288.2 387.5,289.4 387.75,288.6 388,289.4 388.25,290.2 388.5,289.1 388.75,288.2 389,288.3 389.25,289.0 389.5,288.8 389.75,288.1 390,288.2 390.25,289.1 390.5,290.3 390.75,286.8 391,289.2 391.25,288.6 391.5,289.3 391.75,289.3 392,288.8 392.25,288.0 392.5,287.8 392.75,287.4 393,289.6 393.25,288.6 393.5,288.4 393.75,288.6 394,287.8 394.25,289.0 394.5,289.7 394.75,289.6 395,287.7 395.25,289.8 395.5,288.3 395.75,287.5 396,288.0 396.25,288.2 396.5,288.8 396.75,288.1 397,287.8 397.25,288.7 397.5,290.2 397.75,288.4 398,289.2 398.25,288.9 398.5,290.7 398.75,287.6 399,289.7 399.25,288.0 399.5,288.5 399.75,288.8 400,291.1 400.25,288.4 400.5,287.6 400.75,289.8 401,288.3 401.25,288.7 401.5,288.9 401.75,289.0 402,288.8 402.25,289.1 402.5,289.2 402.75,289.5 403,288.6 403.25,288.4 403.5,288.2 403.75,289.4 404,288.9 404.25,289.3 404.5,289.3 404.75,290.1 405,289.1 405.25,289.5 405.5,288.1 405.75,288.2 406,288.8 406.25,288.1 406.5,289.5 406.75,288.1 407,289.0 407.25,287.3 407.5,288.2 407.75,288.8 408,288.8 408.25,287.8 408.5,289.1 408.75,289.7 409,289.5 409.25,288.6 409.5,288.6 409.75,288.2 410,289.5 410.25,290.0 410.5,288.7 410.75,287.8 411,289.2 411.25,289.5 411.5,287.1 411.75,289.1 412,290.6 412.25,289.6 412.5,289.4 412.75,289.3 413,289.8 413.25,288.4 413.5,288.5 413.75,289.4 414,288.6 414.25,289.3 414.5,287.7 414.75,289.6 415,289.7 415.25,289.1 415.5,289.2 415.75,290.2 416,288.3 416.25,288.4 416.5,288.3 416.75,288.8 417,288.4 417.25,289.1 417.5,288.6 417.75,288.1 418,288.0 418.25,290.0 418.5,289.1 418.75,289.0 419,289.1 419.25,289.1 419.5,289.6 419.75,289.5 420,288.7 420.25,288.5 420.5,288.4 420.75,288.2 421,290.1 421.25,288.5 421.5,287.7 421.75,288.5 422,288.6 422.25,289.4 422.5,288.5 422.75,289.5 423,289.4 423.25,290.0 423.5,290.7 423.75,291.1 424,290.1 424.25,288.3 424.5,288.9 424.75,289.3 425,290.6 425.25,289.6 425.5,290.0 425.75,289.0 426,289.6 426.25,289.7 426.5,288.8 426.75,289.7 427,289.9 427.25,289.0 427.5,289.9 427.75,290.3 428,289.2 428.25,289.2 428.5,288.9 428.75,288.7 429,289.3 429.25,288.9 429.5,288.9 429.75,288.6 430,288.1 430.25,288.5 430.5,289.4 430.75,288.3 431,288.7 431.25,290.3 431.5,289.9 431.75,288.7 432,289.6 432.25,288.7 432.5,290.3 432.75,288.7 433,289.2 433.25,290.1 433.5,288.5 433.75,290.0 434,288.5 434.25,289.3 434.5,288.9 434.75,289.0 435,289.2 435.25,289.0 435.5,288.3 435.75,289.6 436,289.5 436.25,289.9 436.5,290.0 436.75,288.0 437,289.8 437.25,289.8 437.5,288.5 437.75,289.6 438,289.8 438.25,288.4 438.5,287.7 438.75,288.4 439,290.5 439.25,288.6 439.5,287.5 439.75,287.9 440,287.2 440.25,287.3 440.5,287.3 440.75,284.9 441,286.4 441.25,286.5 441.5,284.6 441.75,283.6 442,283.8 442.25,281.3 442.5,280.6 442.75,280.0 443,280.7 443.25,281.2 443.5,281.4 443.75,282.5 444,283.5 444.25,284.0 444.5,283.9 444.75,285.0 445,286.6 445.25,285.5 445.4,286.2 445.5,286.2 445.65,286.5 445.75,286.0 445.9,285.8 446,288.6 446.15,287.5 446.25,286.3 446.4,286.6 446.5,287.1 446.65,286.2 446.75,286.8 446.9,285.7 447,285.8 447.15,285.8 447.25,285.3 447.4,283.7 447.5,285.3 447.65,285.2 447.75,285.2 447.9,284.0 448,284.8 448.15,284.6 448.25,283.2 448.4,282.9 448.5,284.8 448.65,283.9 448.75,285.3 448.9,286.3 449,284.6 449.15,284.8 449.25,285.4 449.4,286.2 449.5,285.1 449.65,287.1 449.75,287.1 449.9,287.1 450,286.5 450.15,287.8 450.25,287.9 450.4,286.6 450.5,289.1 450.65,287.6 450.75,288.2 450.9,287.7 451,288.4 451.15,289.1 451.25,287.8 451.4,287.3 451.5,288.2 451.75,287.8 452,288.2 452.25,288.7 452.5,288.9 452.75,289.9 453,288.3 453.25,289.3 453.5,288.7 453.75,290.0 454,290.9 454.25,289.3 454.5,290.3 454.75,288.8 455,288.0 455.25,288.3 455.5,288.1 455.75,288.5 456,289.0 456.25,290.0 456.5,289.7 456.75,289.5 457,288.9 457.25,288.7 457.5,289.3 457.75,289.3 458,289.4 458.25,289.5 458.5,289.2 458.75,287.9 459,288.5 459.25,288.7 459.5,290.5 459.75,289.0 460,289.7 460.25,290.3 460.5,289.5 460.75,289.0 461,289.1 461.25,288.6 461.5,289.5 461.75,290.1 462,289.7 462.25,289.8 462.5,289.8 462.75,290.7 463,288.8 463.25,289.4 463.5,289.8 463.75,290.2 464,287.6 464.25,288.9 464.5,289.1 464.75,288.6 465,289.9 465.25,289.4 465.5,289.0 465.75,288.1 466,288.3 466.25,288.6 466.5,289.6 466.75,288.4 467,287.8 467.25,288.2 467.5,288.8 467.75,290.4 468,291.0 468.25,288.9 468.5,289.9 468.75,290.2 469,290.1 469.25,289.2 469.5,288.3 469.75,288.9 470,287.9 470.25,289.4 470.5,289.8 470.75,287.9 471,289.2 471.25,289.4 471.5,290.1 471.75,290.2 472,289.7 472.25,288.7 472.5,288.9 472.75,290.0 473,288.7 473.25,289.1 473.5,290.2 473.75,289.2 474,288.2 474.25,288.9 474.5,289.6 474.75,289.0 475,289.9 475.25,290.0 475.5,288.6 475.75,288.7 476,289.0 476.25,288.2 476.5,289.3 476.75,288.9 477,289.6 477.25,288.6 477.5,288.4 477.75,290.2 478,288.3 478.25,288.5 478.5,288.4 478.75,288.7 479,288.2 479.25,288.8 479.5,288.3 479.75,288.5 480,289.0 480.25,289.2 480.5,289.0 480.75,288.2 481,288.9 481.25,288.5 481.5,288.5 481.75,287.3 482,288.9 482.25,288.3 482.5,289.6 482.75,288.8 483,287.5 483.25,287.2 483.5,288.9 483.75,287.5 484,288.5 484.25,287.7 484.5,289.3 484.75,287.8 485,288.7 485.25,288.4 485.5,287.0 485.75,287.0 486,288.1 486.25,286.8 486.5,286.0 486.75,287.3 487,288.0 487.25,285.8 487.5,286.5 487.75,285.0 488,285.5 488.25,283.8 488.5,284.1 488.75,282.5 489,280.8 489.25,279.5 489.5,277.0 489.7,274.7 489.75,274.2 489.95,272.6 490,271.2 490.2,269.5 490.25,268.8 490.45,265.5 490.5,263.9 490.7,260.5 490.75,259.4 490.95,256.1 491,253.5 491.2,249.2 491.25,248.1 491.45,243.3 491.5,241.7 491.7,237.0 491.75,237.0 491.95,231.4 492,231.5 492.2,228.7 492.25,227.4 492.45,222.9 492.5,224.3 492.7,223.4 492.75,223.5 492.95,223.0 493,225.1 493.2,226.5 493.25,229.0 493.45,232.6 493.5,234.7 493.7,237.2 493.75,237.5 493.95,244.2 494,245.3 494.2,249.2 494.25,251.6 494.45,255.7 494.5,255.4 494.7,260.2 494.75,261.1 494.95,265.0 495,266.1 495.2,268.7 495.25,269.8 495.45,273.0 495.5,273.2 495.7,275.3 495.75,275.8 496,278.2 496.25,278.7 496.5,281.6 496.75,281.9 497,283.6 497.25,283.2 497.5,285.4 497.75,285.4 498,284.7 498.25,286.2 498.5,285.7 498.75,287.8 499,287.1 499.25,286.4 499.5,287.3 499.75,287.2 500,288.2 500.25,287.8 500.5,288.0 500.75,287.0 501,288.4 501.25,289.4 501.5,288.5 501.75,288.1 502,288.3 502.25,287.6 502.5,288.4 502.75,287.6 503,288.4 503.25,288.2 503.5,287.9 503.75,288.9 504,287.5 504.25,288.6 504.5,287.7 504.75,290.0 505,290.1 505.25,289.3 505.5,290.1 505.75,289.2 506,289.2 506.25,288.5 506.5,288.2 506.75,288.9 507,288.5 507.25,288.6 507.5,289.4 507.75,288.8 508,287.8 508.25,288.8 508.5,288.4 508.75,288.7 509,288.2 509.25,289.8 509.5,290.3 509.75,288.2 510,289.4 510.25,289.4 510.5,288.2 510.75,289.0 511,289.9 511.25,289.5 511.5,290.1 511.75,288.1 512,288.4 512.25,289.1 512.5,289.2 512.75,288.9 513,288.6 513.25,288.6 513.5,288.4 513.75,289.2 514,286.9 514.25,289.9 514.5,288.4 514.75,287.8 515,289.1 515.25,287.7 515.5,288.9 515.75,288.3 516,289.0 516.25,289.1 516.5,289.4 516.75,288.1 517,288.2 517.25,288.3 517.5,287.2 517.75,288.5 518,288.1 518.25,287.0 518.5,288.6 518.75,288.5 519,286.5 519.25,287.5 519.5,287.7 519.75,287.0 520,285.3 520.25,284.4 520.5,284.6 520.75,283.5 521,282.8 521.25,281.5 521.5,280.6 521.75,278.2 522,276.7 522.25,277.0 522.5,272.8 522.75,271.3 523,269.0 523.25,267.1 523.5,264.9 523.75,264.9 524,264.2 524.25,265.1 524.5,267.0 524.75,267.1 525,269.4 525.25,270.1 525.5,273.0 525.75,276.0 526,276.8 526.25,278.2 526.5,280.4 526.75,281.5 527,282.7 527.25,283.6 527.5,286.1 527.75,284.8 528,285.7 528.25,286.1 528.5,287.8 528.75,287.0 529,288.4 529.25,287.8 529.5,287.8 529.75,287.0 530,289.0 530.25,288.6 530.5,288.6 530.75,288.3 531,288.2 531.25,287.7 531.5,289.3 531.75,288.9 532,288.5 532.25,288.3 532.5,288.9 532.75,288.8 533,290.1 533.25,289.5 533.5,288.6 533.75,288.2 534,288.9 534.25,288.4 534.5,289.1 534.75,289.4 535,289.6 535.25,289.4 535.5,289.0 535.75,289.6 536,288.6 536.25,289.2 536.5,289.8 536.75,289.4 537,288.4 537.25,288.5 537.5,288.2 537.75,290.6 538,288.2 538.25,289.2 538.5,290.6 538.75,290.1 539,290.3 539.25,289.0 539.5,289.9 539.75,291.5 540,289.4 540.25,289.7 540.5,289.2 540.75,289.4 541,289.7 541.25,290.4 541.5,288.8 541.75,288.4 542,289.5 542.25,289.6 542.5,290.4 542.75,290.0 543,289.0 543.25,289.9 543.5,290.2 543.75,289.7 544,289.2 544.25,289.9 544.5,289.2 544.75,288.2 545,290.4 545.25,288.6 545.5,289.3 545.75,289.3 546,289.3 546.25,289.3 546.5,288.5 546.75,289.9 547,289.5 547.25,289.5 547.5,290.3 547.75,290.3 548,290.5 548.25,290.8 548.5,289.8 548.75,288.4 549,289.7 549.25,289.5 549.5,289.6 549.75,289.1 550,288.9 550.25,290.1 550.5,290.2 550.75,288.8 551,289.9 551.25,289.4 551.5,289.3 551.75,290.0 552,289.5 552.25,289.2 552.5,289.6 552.75,288.2 553,289.1 553.25,289.2 553.5,288.6 553.75,289.7 554,289.7 554.25,289.1 554.5,289.4 554.75,290.0 555,290.3 555.25,289.0 555.5,289.8 555.75,290.3 556,289.5 556.25,289.0 556.5,289.0 556.75,289.3 557,288.8 557.25,291.0 557.5,289.2 557.75,289.8 558,289.7 558.25,290.0 558.5,289.3 558.75,288.7 559,290.7 559.25,289.5 559.5,289.6 559.75,289.7 560,290.4 560.25,290.1 560.5,290.4 560.75,290.1 561,289.7 561.25,289.7 561.5,289.0 561.75,288.2 562,289.4 562.25,288.8 562.5,291.4 562.75,290.7 563,290.4 563.25,289.2 563.5,291.0 563.75,288.4 564,288.7 564.25,289.0 564.5,288.9 564.75,289.7 565,289.7 565.25,290.9 565.5,290.3 565.75,290.4 566,289.9 566.25,289.5 566.5,289.1 566.75,288.5 567,289.0 567.25,289.3 567.5,290.1 567.75,288.4 568,288.6 568.25,289.7 568.5,288.8 568.75,289.8 569,289.3 569.25,289.0 569.5,288.6 569.75,289.5 570,289.1 570.25,289.1 570.5,289.1 570.75,289.7 571,289.7 571.25,288.4 571.5,289.5 571.75,289.8 572,290.3 572.25,290.1 572.5,289.7 572.75,288.8 573,289.0 573.25,290.2 573.5,289.1 573.75,290.3 574,290.4 574.25,288.8 574.5,289.9 574.75,289.5 575,291.0 575.25,290.1 575.5,289.2 575.75,289.8 576,288.9 576.25,289.4 576.5,289.7 576.75,289.7 577,289.8 577.25,288.9 577.5,288.2 577.75,289.3 578,288.9 578.25,289.0 578.5,291.0 578.75,290.3 579,289.4 579.25,288.5 579.5,288.6 579.75,289.8 580,290.3 580.25,289.3 580.5,289.6 580.75,289.7 581,290.3 581.25,288.2 581.5,289.6 581.75,289.8 582,290.2 582.25,289.8 582.5,288.7 582.75,289.1 583,288.4 583.25,289.6 583.5,289.6 583.75,289.8 584,288.8 584.25,288.7 584.5,290.5 584.75,289.6 585,290.7 585.25,289.8 585.5,288.4 585.75,290.0 586,290.3 586.25,289.1 586.5,288.1 586.75,289.9 587,289.3 587.25,289.6 587.5,287.5 587.75,289.7 588,287.5 588.25,288.8 588.5,290.0 588.75,288.1 589,288.1 589.25,289.1 589.5,290.5 589.75,290.5 590,288.9 590.25,290.0 590.5,289.7 590.75,289.5 591,289.6 591.25,288.8 591.5,289.9 591.75,290.0 592,291.2 592.25,289.9 592.5,287.5 592.75,288.4 593,289.5 593.25,289.3 593.5,287.9 593.75,289.1 594,288.9 594.25,289.1 594.5,289.0 594.75,289.8 595,290.1 595.25,289.5 595.5,288.3 595.75,288.4 596,288.5 596.25,288.9 596.5,288.7 596.75,288.7 597,288.2 597.25,289.5 597.5,289.4 597.75,289.5 598,288.7 598.25,289.0 598.5,288.0 598.75,287.9 599,288.2 599.25,288.9 599.5,288.4 599.75,287.6 600,288.4 600.25,288.6 600.5,288.3 600.75,287.7 601,288.1 601.25,287.7 601.5,287.6 601.75,287.7 602,288.1 602.25,288.8 602.5,288.4 602.75,287.6 603,286.7 603.25,286.5 603.5,286.3 603.75,287.0 604,283.9 604.25,285.6 604.5,283.5 604.75,284.2 605,284.4 605.25,281.8 605.5,279.6 605.75,280.6 606,278.9 606.25,276.0 606.5,273.9 606.75,269.4 607,267.4 607.25,264.0 607.5,259.2 607.75,254.8 608,251.3 608.25,247.5 608.5,243.1 608.75,242.5 609,241.3 609.25,241.6 609.5,244.4 609.75,247.1 610,250.7 610.25,253.9 610.5,259.0 610.75,261.6 611,266.0 611.25,268.2 611.5,271.2 611.75,275.2 612,277.0 612.25,278.8 612.5,280.6 612.75,281.6 613,281.6 613.25,283.0 613.5,283.4 613.75,283.5 614,284.1 614.25,284.1 614.5,284.0 614.75,284.3 615,284.8 615.25,286.0 615.5,283.9 615.75,284.7 616,283.1 616.25,285.0 616.5,283.3 616.75,283.2 617,283.4 617.25,282.4 617.5,279.6 617.75,279.8 618,277.6 618.25,276.1 618.4,274.3 618.5,273.6 618.65,271.4 618.75,269.8 618.9,268.5 619,265.0 619.15,263.2 619.25,261.0 619.4,258.6 619.5,256.3 619.65,253.2 619.75,250.6 619.9,247.0 620,243.7 620.15,241.1 620.25,238.8 620.4,234.5 620.5,232.0 620.65,228.6 620.75,228.2 620.9,224.4 621,223.1 621.15,220.9 621.25,220.0 621.4,219.4 621.5,221.3 621.65,220.0 621.75,222.4 621.9,224.4 622,226.0 622.15,228.1 622.25,230.6 622.4,235.8 622.5,237.1 622.65,242.0 622.75,244.4 622.9,248.0 623,250.6 623.15,252.8 623.25,255.6 623.4,259.6 623.5,260.3 623.65,265.2 623.75,265.4 623.9,268.2 624,269.0 624.15,272.1 624.25,272.6 624.4,274.7 624.5,275.1 624.75,279.0 625,278.8 625.25,281.7 625.5,282.7 625.75,283.7 626,283.4 626.25,285.5 626.5,285.9 626.75,285.7 627,286.2 627.25,286.2 627.5,287.0 627.75,286.2 628,287.4 628.25,287.4 628.5,286.3 628.75,285.6 629,287.5 629.25,287.6 629.5,288.7 629.75,288.0 630,287.7 630.25,287.2 630.5,288.2 630.75,287.9 631,287.6 631.25,288.4 631.5,289.3 631.75,288.6 632,287.9 632.25,288.9 632.5,288.0 632.75,287.7 633,289.2 633.25,288.5 633.5,289.7 633.75,289.2 634,288.4 634.25,289.2 634.5,289.9 634.75,288.9 635,288.3 635.25,288.7 635.5,288.6 635.75,288.3 636,288.3 636.25,289.5 636.5,290.0 636.75,289.0 637,289.8 637.25,289.9 637.5,290.5 637.75,289.2 638,289.1 638.25,289.6 638.5,289.4 638.75,289.6 639,290.3 639.25,289.1 639.5,289.6 639.75,288.7 640,289.3 640.25,289.0 640.5,288.9 640.75,289.3 641,289.2 641.25,289.8 641.5,290.1 641.75,288.5 642,290.2 642.25,288.0 642.5,289.7 642.75,290.0 643,289.1 643.25,289.4 643.5,289.0 643.75,290.2 644,287.4 644.25,288.9 644.5,288.2 644.75,289.7 645,290.5 645.25,290.4 645.5,290.1 645.75,289.8 646,289.1 646.25,290.5 646.5,290.0 646.75,289.0 647,288.7 647.25,289.2 647.5,290.4 647.75,290.5 648,290.7 648.25,289.1 648.5,289.4 648.75,290.6 649,289.8 649.25,290.1 649.5,288.7 649.75,289.3 650,289.6 650.25,289.3 650.5,289.3 650.75,288.4 651,290.7 651.25,289.6 651.5,288.5 651.75,290.2 652,289.4 652.25,289.9 652.5,289.2 652.75,288.7 653,288.6 653.25,289.3 653.5,289.5 653.75,289.2 654,289.2 654.25,289.5 654.5,288.7 654.75,289.1 655,289.0 655.25,288.3 655.5,287.9 655.75,287.6 656,286.9 656.25,286.6 656.5,288.6 656.75,287.7 657,287.4 657.25,289.0 657.5,288.7 657.75,288.2 658,289.0 658.25,288.3 658.5,288.8 658.75,290.0 659,289.6 659.25,288.8 659.5,289.5 659.75,290.0 660,289.2 660.25,289.0 660.5,290.7 660.75,289.3 661,288.6 661.25,289.7 661.5,291.2 661.75,290.1 662,290.4 662.25,288.2 662.5,289.4 662.75,290.6 663,289.5 663.25,290.7 663.5,290.2 663.75,290.1 664,291.0 664.25,289.5 664.5,289.5 664.75,289.9 665,290.0 665.25,288.7 665.5,290.7 665.75,290.1 666,289.8 666.25,290.3 666.5,289.6 666.75,290.8 667,290.0 667.25,290.4 667.5,289.3 667.75,289.7 668,290.2 668.25,289.3 668.5,289.5 668.75,289.9 669,290.7 669.25,290.4 669.5,290.5 669.75,290.1 670,290.5 670.25,291.0 670.5,290.0 670.75,290.2 671,290.3 671.25,288.5 671.5,289.8 671.75,290.2 672,290.4 672.25,289.6 672.5,290.5 672.75,289.4 673,289.7 673.25,291.0 673.5,288.8 673.75,289.7 674,289.6 674.25,289.6 674.5,289.3 674.75,290.0 675,288.8 675.25,288.5 675.5,289.7 675.75,288.4 676,289.4 676.25,289.0 676.4,288.5 676.5,288.6 676.65,288.7 676.75,289.0 676.9,288.2 677,288.4 677.15,287.5 677.25,288.2 677.4,286.9 677.5,288.2 677.65,287.8 677.75,289.5 677.9,288.8 678,287.7 678.15,288.4 678.25,287.9 678.4,286.8 678.5,285.8 678.65,288.2 678.75,287.7 678.9,286.0 679,287.7 679.15,287.9 679.25,286.8 679.4,287.8 679.5,286.0 679.65,287.1 679.75,287.3 679.9,287.9 680,287.6 680.15,287.6 680.25,287.9 680.4,287.1 680.5,288.7 680.65,287.5 680.75,288.4 680.9,287.9 681,287.8 681.15,288.5 681.25,288.5 681.4,289.2 681.5,289.1 681.65,288.1 681.75,288.9 681.9,288.7 682,288.1 682.15,288.0 682.25,289.0 682.4,288.6 682.5,288.0 682.75,289.0 683,289.4 683.25,289.4 683.5,288.6 683.75,289.1 684,290.5 684.25,289.1 684.5,289.4 684.75,291.3 685,290.0 685.25,289.4 685.5,288.4 685.75,290.0 686,288.9 686.25,289.8 686.5,289.2 686.75,288.7 687,291.0 687.25,289.8 687.5,290.5 687.75,290.4 688,289.4 688.25,290.0 688.5,289.7 688.75,290.6 689,290.2 689.25,289.7 689.5,291.1 689.75,290.3 690,290.3 690.25,289.4 690.5,290.2 690.75,288.9 691,290.3 691.25,289.3 691.5,290.1 691.75,289.8 692,290.1 692.25,290.2 692.5,289.9 692.75,289.9 693,288.9 693.25,288.6 693.5,290.9 693.75,290.4 694,288.9 694.25,291.3 694.5,289.5 694.75,290.3 695,290.3 695.25,290.1 695.5,290.4 695.75,289.0 696,290.0 696.25,289.8 696.5,290.1 696.75,289.8 697,289.5 697.25,289.5 697.5,290.6 697.75,289.4 698,290.2 698.25,290.2 698.5,289.9 698.75,290.3 699,290.4 699.25,289.6 699.5,290.2 699.75,291.3 700,289.2 700.25,289.8 700.5,289.4 700.75,291.4 701,289.0 701.25,290.0 701.5,290.6 701.75,289.4 702,289.9 702.25,289.5 702.5,289.0 702.75,289.9 703,290.3 703.25,289.7 703.5,290.1 703.75,290.4 704,290.8 704.25,289.1 704.5,290.4 704.75,289.5 705,288.6 705.25,289.4 705.5,290.4 705.75,290.1 706,289.2 706.25,291.0 706.5,290.2 706.75,289.9 707,289.5 707.25,290.2 707.5,289.6 707.75,290.7 708,290.1 708.25,290.3 708.5,289.7 708.75,288.8 709,290.2 709.25,289.1 709.5,289.8 709.75,289.8 710,289.3 710.25,290.4 710.5,288.8 710.75,290.8 711,289.4 711.25,290.4 711.5,290.6 711.75,289.1 712,289.2 712.25,290.4 712.5,289.8 712.75,289.7 713,288.4 713.25,288.5 713.5,290.0 713.75,290.6 714,289.0 714.25,288.9 714.5,289.6 714.75,289.8 715,289.8 715.25,289.1 715.5,288.0 715.75,290.3 716,288.9 716.25,290.1 716.5,287.7 716.75,289.3 717,288.6 717.25,288.1 717.5,289.4 717.75,289.5 718,288.1 718.25,288.8 718.5,287.4 718.75,287.5 719,287.5 719.25,287.1 719.5,287.5 719.75,285.8 720,286.9 720.25,286.5 720.5,285.1 720.75,283.9 721,282.4 721.25,283.3 721.4,282.4 721.5,282.7 721.65,281.4 721.75,281.9 721.9,281.3 722,281.1 722.15,280.7 722.25,280.4 722.4,280.4 722.5,278.8 722.65,279.3 722.75,278.6 722.9,277.7 723,277.0 723.15,278.3 723.25,277.1 723.4,276.2 723.5,276.3 723.65,276.0 723.75,275.4 723.9,274.5 724,275.5 724.15,275.1 724.25,274.9 724.4,275.8 724.5,274.2 724.65,274.5 724.75,275.4 724.9,276.0 725,276.0 725.15,276.4 725.25,274.6 725.4,276.8 725.5,277.0 725.65,277.6 725.75,276.9 725.9,278.2 726,278.8 726.15,279.7 726.25,279.1 726.4,278.5 726.5,279.8 726.65,280.7 726.75,280.9 726.9,282.3 727,281.1 727.15,281.0 727.25,281.6 727.4,282.9 727.5,282.1 727.75,282.5 728,283.2 728.25,285.1 728.5,284.8 728.75,284.7 729,285.7 729.25,285.8 729.5,284.7 729.7,286.0 729.75,285.5 729.95,283.9 730,284.5 730.2,285.4 730.25,285.5 730.45,284.9 730.5,284.3 730.7,285.0 730.75,283.6 730.95,285.0 731,284.5 731.2,284.3 731.25,283.9 731.45,284.7 731.5,282.4 731.7,283.3 731.75,284.2 731.95,283.2 732,284.6 732.2,283.8 732.25,282.9 732.45,284.2 732.5,283.3 732.7,283.8 732.75,283.0 732.95,283.1 733,284.0 733.2,283.8 733.25,283.2 733.45,283.4 733.5,284.5 733.7,285.6 733.75,283.8 733.95,285.2 734,282.8 734.2,284.2 734.25,285.7 734.45,286.7 734.5,285.7 734.7,286.4 734.75,286.2 734.95,287.1 735,285.7 735.2,287.2 735.25,286.5 735.45,286.9 735.5,287.2 735.7,287.3 735.75,287.0 736,287.6 736.25,287.4 736.5,289.3 736.75,289.0 737,288.4 737.25,290.0 737.5,289.9 737.75,289.4 738,288.8 738.25,289.5 738.5,289.8 738.75,290.4 739,289.4 739.25,289.1 739.5,291.2 739.75,290.6 740,289.9 740.25,289.0 740.5,290.0 740.75,290.5 741,290.3 741.25,290.3 741.5,289.8 741.75,290.6 742,289.4 742.25,289.5 742.5,289.5 742.75,289.4 743,291.2 743.25,288.7 743.5,290.1 743.75,289.2 744,289.1 744.25,290.0 744.5,288.8 744.75,289.9 745,291.5 745.25,289.9 745.5,290.3 745.75,289.4 746,290.3 746.25,288.9 746.5,290.1 746.75,289.9 747,291.5 747.25,289.9 747.5,289.7 747.75,289.6 748,289.1 748.25,290.5 748.5,290.9 748.75,289.7 749,290.4 749.25,289.7 749.5,290.2 749.75,290.2 750,288.9 750.25,289.3 750.5,290.5 750.75,288.5 751,289.8 751.25,289.6 751.5,289.2 751.75,289.8 752,290.0 752.25,290.1 752.5,287.9 752.75,290.9 753,289.3 753.25,290.3 753.5,289.5 753.75,289.1 754,289.4 754.25,291.6 754.5,290.4 754.75,289.0 755,289.2 755.25,289.7 755.5,289.2 755.75,288.7 756,288.3 756.25,287.4 756.5,288.4 756.75,288.3 757,288.7 757.25,286.4 757.5,286.8 757.75,285.8 758,286.2 758.25,284.6 758.5,283.7 758.75,282.3 759,283.4 759.25,282.5 759.5,282.6 759.75,281.0 760,282.8 760.25,280.3 760.5,281.1 760.75,281.1 761,281.7 761.25,281.2 761.5,281.1 761.75,281.5 762,283.3 762.25,283.4 762.5,284.1 762.75,283.8 763,285.0 763.25,285.5 763.5,286.2 763.75,285.2 764,286.0 764.25,288.0 764.5,286.7 764.75,287.1 765,287.1 765.25,286.4 765.5,286.8 765.75,287.9 766,287.3 766.25,289.2 766.5,286.9 766.75,286.6 767,287.8 767.25,287.4 767.5,289.3 767.75,288.2 768,289.0 768.25,287.8 768.5,289.4 768.75,289.5 769,290.0 769.25,289.4 769.5,289.7 769.75,289.6 770,290.2 770.25,289.3 770.5,290.0 770.75,289.3 771,290.3 771.25,289.6 771.5,289.4 771.75,289.4 772,291.0 772.25,288.9 772.5,288.9 772.75,290.5 773,289.3 773.25,289.7 773.5,289.7 773.75,291.7 774,289.6 774.25,289.6 774.5,289.8 774.75,290.3 775,290.5 775.25,289.1 775.5,290.5 775.75,291.5 776,288.9 776.25,290.6 776.5,290.7 776.75,290.3 777,290.1 777.25,288.6 777.5,291.0 777.75,290.0 778,290.1 778.25,291.1 778.5,288.6 778.75,290.2 779,290.7 779.25,290.7 779.5,290.7 779.75,291.7 780,290.5 780.25,291.0 780.5,290.8 780.75,289.2 781,289.7 781.25,291.7 781.5,290.1 781.75,290.2 782,289.4 782.25,290.0 782.5,289.4 782.75,289.9 783,290.7 783.25,289.7 783.5,289.9 783.75,291.2 784,290.6 784.25,290.7 784.5,291.0 784.75,289.9 785,290.0 785.25,288.9 785.5,290.8 785.75,290.2 786,290.3 786.25,289.6 786.5,290.8 786.75,290.8 787,290.5 787.25,289.2 787.5,289.7 787.75,290.3 788,289.8 788.25,290.6 788.5,291.0 788.75,289.8 789,290.2 789.25,289.9 789.5,291.1 789.75,291.0 790,292.2 790.25,290.4 790.5,289.7 790.75,290.6 791,290.2 791.25,290.5 791.5,291.2 791.75,290.2 792,290.9 792.25,288.9 792.5,291.1 792.75,290.5 793,290.2 793.25,290.0 793.5,291.4 793.75,290.0 794,291.3 794.25,290.0 794.5,290.4 794.75,290.6 795,291.8 795.25,290.5 795.5,290.5 795.75,290.3 796,290.2 796.25,290.0 796.5,291.6 796.75,291.4 797,289.9 797.25,290.5 797.5,289.6 797.75,291.0 798,290.9 798.25,290.5 798.5,289.8 798.75,290.9 799,290.8 799.25,290.3 799.5,290.9 799.75,289.4 800,290.0 800.25,289.7 800.5,290.5 800.75,291.6 801,290.4 801.25,291.2 801.5,290.4 801.75,290.1 802,291.1 802.25,290.8 802.5,291.4 802.75,291.1 803,289.8 803.25,288.6 803.5,290.5 803.75,289.6 804,289.4 804.25,289.4 804.5,289.9 804.75,290.2 805,290.4 805.25,291.8 805.5,289.5 805.75,290.4 806,289.5 806.25,289.7 806.5,290.4 806.75,290.7 807,289.5 807.25,291.2 807.5,289.7 807.75,291.1 808,290.3 808.25,291.0 808.5,290.8 808.75,290.2 809,290.7 809.25,289.4 809.5,289.5 809.75,290.1 810,291.3 810.25,289.9 810.5,290.0 810.75,291.5 811,290.4 811.25,290.4 811.5,289.6 811.75,290.4 812,290.8 812.25,290.3 812.5,290.9 812.75,290.6 813,291.1 813.25,290.9 813.5,290.3 813.75,291.0 814,291.6 814.25,290.6 814.5,289.5 814.75,290.5 815,290.2 815.25,292.2 815.5,290.9 815.75,289.6 816,290.2 816.25,291.4 816.5,289.5 816.75,290.0 817,290.3 817.25,290.2 817.5,289.9 817.75,290.4 818,289.3 818.25,289.9 818.5,289.9 818.75,290.1 819,290.1 819.25,290.3 819.5,290.1 819.75,290.0 820,290.6 820.25,290.9 820.5,291.0 820.75,289.5 821,290.5 821.25,290.8 821.5,290.1 821.75,290.6 822,290.1 822.25,290.5 822.5,289.2 822.75,290.6 823,289.9 823.25,289.7 823.5,290.0 823.75,290.9 824,290.9 824.25,290.4 824.5,290.8 824.75,289.9 825,289.3 825.25,288.9 825.5,290.2 825.75,290.1 826,290.2 826.25,290.2 826.5,291.0 826.75,289.5 827,289.6 827.25,291.5 827.5,290.6 827.75,289.9 828,288.7 828.25,289.5 828.5,289.8 828.75,290.0 829,290.2 829.25,289.8 829.5,290.8 829.75,289.1 830,289.7 830.25,289.4 830.5,290.4 830.75,290.0 831,290.4 831.25,289.9 831.5,292.4 831.75,290.2 832,289.2 832.25,289.7 832.5,289.3 832.75,290.1 833,290.2 833.25,289.7 833.5,289.3 833.75,288.9 834,290.4 834.25,289.9 834.5,287.0 834.75,288.9 835,288.2 835.25,288.3 835.5,289.5 835.75,287.3 836,287.1 836.25,289.2 836.5,286.7 836.75,286.4 837,286.9 837.25,285.1 837.5,284.8 837.75,284.2 838,284.2 838.25,281.1 838.5,280.7 838.75,280.2 839,279.8 839.25,277.6 839.5,277.3 839.75,275.5 840,274.6 840.25,275.0 840.5,273.3 840.75,275.1 841,273.2 841.25,273.8 841.5,274.0 841.75,273.0 842,273.8 842.25,276.2 842.5,276.2 842.75,277.7 843,278.9 843.25,279.6 843.5,282.1 843.75,282.8 844,283.3 844.25,284.4 844.5,284.1 844.75,286.1 845,285.5 845.25,287.7 845.5,286.6 845.75,287.1 846,288.6 846.25,288.5 846.5,287.7 846.75,289.0 847,288.7 847.25,288.9 847.5,289.5 847.75,289.6 848,289.9 848.25,289.6 848.5,289.6 848.75,289.4 849,290.6 849.25,289.0 849.5,290.9 849.75,291.2 850,291.2 850.25,289.6 850.5,291.2 850.75,290.6 851,290.6 851.25,292.1 851.5,290.0 851.75,290.3 852,289.0 852.25,288.4 852.5,290.1 852.75,290.2 853,290.5 853.25,290.2 853.5,288.6 853.75,290.3 854,290.8 854.25,291.1 854.5,289.3 854.75,289.4 855,289.5 855.25,289.6 855.5,288.9 855.75,289.5 856,291.1 856.25,289.2 856.5,288.7 856.75,289.8 857,289.6 857.25,290.4 857.5,289.4 857.75,289.8 858,289.3 858.25,289.1 858.5,290.0 858.75,289.8 859,289.6 859.25,289.9 859.5,288.9 859.75,289.4 860,289.4 860.25,290.0 860.5,287.7 860.75,288.6 861,289.0 861.25,288.1 861.5,288.4 861.75,288.6 862,288.3 862.25,286.5 862.5,286.7 862.75,285.4 863,287.6 863.25,287.2 863.5,287.9 863.75,286.9 864,286.0 864.25,287.6 864.5,285.9 864.75,286.9 865,286.9 865.25,287.7 865.5,287.9 865.75,287.1 866,287.1 866.25,287.7 866.5,287.4 866.75,288.6 867,288.2 867.25,289.0 867.5,289.9 867.75,287.4 868,287.6 868.25,288.3 868.5,288.2 868.75,287.5 869,286.5 869.25,289.3 869.5,287.5 869.75,286.5 870,285.5 870.25,288.1 870.5,287.3 870.75,287.0 871,286.3 871.25,287.0 871.5,286.8 871.75,285.5 872,289.3 872.25,287.9 872.5,287.5 872.75,287.3 873,287.7 873.25,290.1 873.5,288.8 873.75,287.8 874,289.5 874.25,289.4 874.5,289.6 874.75,289.2 875,289.3 875.25,289.7 875.5,289.5 875.75,288.8 876,289.1 876.25,289.9 876.5,288.8 876.75,289.9 877,289.8 877.25,290.6 877.5,290.2 877.75,290.0 878,290.0 878.25,290.5 878.5,290.9 878.75,289.5 879,289.2 879.25,289.8 879.5,288.7 879.75,289.7 880,290.9 880.25,291.0 880.5,291.4 880.75,290.4 881,290.5 881.25,289.9 881.5,290.0 881.75,290.6 882,291.0 882.25,290.7 882.5,289.0 882.75,290.8 883,290.4 883.25,290.0 883.5,290.5 883.75,291.1 884,290.5 884.25,289.9 884.5,292.8 884.75,290.0 885,290.8 885.25,291.3 885.5,289.8 885.75,290.8 886,289.9 886.25,290.3 886.5,289.9 886.75,291.7 887,289.5 887.25,290.8 887.5,290.5 887.75,289.1 888,291.7 888.25,290.1 888.5,290.3 888.75,290.6 889,289.8 889.25,289.9 889.5,290.5 889.75,289.9 890,290.6 890.25,291.4 890.5,289.8 890.75,289.4 891,290.4 891.25,290.8 891.5,291.0 891.75,289.7 892,288.8 892.25,291.1 892.5,291.0 892.75,291.6 893,289.8 893.25,290.9 893.5,291.2 893.75,289.2 894,291.3 894.25,291.5 894.5,290.9 894.75,290.9 895,291.0 895.25,290.3 895.5,289.5 895.75,289.9 896,290.4 896.25,289.9 896.5,291.2 896.75,290.2 897,290.4 897.25,289.3 897.5,290.8 897.75,290.0 898,291.6 898.25,289.3 898.5,290.8 898.75,290.2 899,290.3 899.25,291.7 899.5,291.2 899.75,289.9 900,291.5 900.25,290.1 900.5,291.1 900.75,289.3 901,290.3 901.25,290.3 901.5,290.3 901.75,289.4 902,289.2 902.25,290.5 902.5,291.0 902.75,290.6 903,290.3 903.25,289.5 903.5,290.3 903.75,290.1 904,290.0 904.25,290.7 904.5,290.7 904.75,290.8 905,290.4 905.25,290.0 905.5,290.4 905.75,290.3 906,289.4 906.25,290.3 906.5,289.4 906.75,289.2 907,290.0 907.25,290.1 907.5,291.0 907.75,290.3 908,290.9 908.25,291.5 908.5,290.6 908.75,290.8 909,290.0 909.25,291.1 909.5,290.6 909.75,290.6 910,289.7 910.25,289.9 910.5,290.1 910.75,290.6 911,291.3 911.25,289.5 911.5,290.3 911.75,290.3 912,292.1 912.25,290.4 912.5,290.1 912.75,291.0 913,289.7 913.25,290.9 913.5,289.3 913.75,291.9 914,290.5 914.25,290.2 914.5,289.6 914.75,290.4 915,290.6 915.25,290.0 915.5,291.3 915.75,290.3 916,290.6 916.25,290.7 916.5,291.5 916.75,290.2 917,290.5 917.25,290.7 917.5,290.9 917.75,289.2 918,291.3 918.25,290.4 918.5,290.0 918.75,290.5 919,289.1 919.25,289.9 919.5,290.6 919.75,291.4 920,290.4 920.25,290.7 920.5,290.3 920.75,291.1 921,290.2 921.25,290.8 921.5,290.2 921.75,289.8 922,289.7 922.25,290.0 922.5,291.2 922.75,292.7 923,290.3 923.25,289.9 923.5,290.8 923.75,290.7 924,290.0 924.25,291.7 924.5,291.0 924.75,291.0 925,290.4 925.25,290.4 925.5,291.0 925.75,289.3 926,289.7 926.25,290.4 926.5,289.3 926.75,291.4 927,289.8 927.25,289.9 927.5,290.4 927.75,291.2 928,290.1 928.25,289.6 928.5,289.5 928.75,290.2 929,289.6 929.25,291.7 929.5,290.9 929.75,287.7 930,289.2 930.25,290.1 930.5,291.4 930.75,288.3 931,289.3 931.25,290.3 931.5,288.9 931.75,289.3 932,288.7 932.25,289.4 932.5,288.0 932.75,288.5 933,287.3 933.25,288.7 933.5,288.2 933.75,287.4 934,287.1 934.25,286.7 934.5,286.1 934.75,286.0 934.8,286.1 935,285.4 935.05,285.0 935.25,284.8 935.3,284.6 935.5,284.9 935.55,284.6 935.75,285.5 935.8,283.9 936,283.7 936.05,283.1 936.25,283.3 936.3,282.8 936.5,282.2 936.55,282.9 936.75,283.6 936.8,281.8 937,281.7 937.05,282.1 937.25,282.1 937.3,282.8 937.5,281.3 937.55,281.6 937.75,281.1 937.8,281.1 938,281.4 938.05,281.0 938.25,282.2 938.3,282.6 938.5,281.7 938.55,281.6 938.75,283.3 938.8,282.2 939,283.7 939.05,280.7 939.25,282.9 939.3,282.4 939.5,283.1 939.55,284.1 939.75,284.7 939.8,283.9 940,285.0 940.05,283.7 940.25,285.0 940.3,284.8 940.5,284.1 940.55,286.0 940.75,285.3 940.8,286.1 941,285.6 941.25,286.7 941.5,287.4 941.75,287.3 942,287.3 942.25,288.3 942.5,288.3 942.75,288.1 943,288.7 943.25,288.8 943.5,288.8 943.75,289.8 944,290.5 944.25,289.1 944.5,289.4 944.75,289.0 945,288.8 945.25,290.6 945.5,289.4 945.75,290.1 946,289.0 946.25,289.5 946.5,290.3 946.75,290.4 947,290.2 947.25,290.4 947.5,290.3 947.75,290.9 948,291.4 948.25,290.6 948.5,290.1 948.75,289.5 949,289.9 949.25,290.0 949.5,291.3 949.75,289.2 950,289.7 950.25,289.6 950.5,290.9 950.75,289.8 951,289.0 951.25,288.9 951.5,290.5 951.75,289.2 952,291.1 952.25,291.1 952.5,289.5 952.75,290.1 953,290.3 953.25,289.3 953.5,289.4 953.75,289.9 954,290.3 954.25,290.5 954.5,289.0 954.75,290.4 955,290.2 955.25,290.1 955.5,289.9 955.75,291.0 956,291.3 956.25,289.9 956.5,290.0 956.75,289.0 957,289.8 957.25,290.5 957.5,289.9 957.75,290.2 958,289.8 958.25,289.9 958.5,290.2 958.75,290.2 959,288.2 959.25,289.3 959.5,287.2 959.75,289.1 960,288.6 960.25,288.4 960.4,289.8 960.5,288.9 960.65,289.3 960.75,288.9 960.9,289.5 961,288.1 961.15,287.9 961.25,288.0 961.4,289.6 961.5,287.5 961.65,287.7 961.75,288.6 961.9,288.1 962,287.1 962.15,288.5 962.25,287.6 962.4,288.1 962.5,287.5 962.65,287.5 962.75,286.4 962.9,287.9 963,286.4 963.15,286.9 963.25,287.6 963.4,286.6 963.5,286.9 963.65,286.8 963.75,287.0 963.9,287.3 964,285.9 964.15,286.6 964.25,288.5 964.4,285.8 964.5,286.8 964.65,287.9 964.75,286.1 964.9,286.9 965,287.0 965.15,288.8 965.25,287.2 965.4,288.4 965.5,287.6 965.65,288.1 965.75,287.4 965.9,287.3 966,288.1 966.15,287.6 966.25,288.5 966.4,288.8 966.5,289.1 966.75,290.1 967,290.2 967.25,288.6 967.5,288.9 967.75,290.8 968,289.7 968.25,289.5 968.5,290.7 968.75,289.6 969,290.7 969.25,289.9 969.5,291.1 969.75,290.1 970,290.8 970.25,291.0 970.5,291.5 970.75,289.8 971,290.1 971.25,289.4 971.5,289.2 971.75,290.1 972,290.6 972.25,291.4 972.5,290.2 972.75,291.8 973,290.6 973.25,291.1 973.5,290.4 973.75,289.7 974,291.7 974.25,290.4 974.5,291.3 974.75,290.3 975,291.0 975.25,290.5 975.5,290.3 975.75,290.5 976,291.1 976.25,289.8 976.5,289.9 976.75,291.3 977,290.1 977.25,290.8 977.5,289.7 977.75,290.5 978,291.4 978.25,290.7 978.5,290.8 978.75,290.4 979,290.7 979.25,289.4 979.5,289.5 979.75,290.9 980,289.4 980.25,291.6 980.5,291.3 980.75,289.8 981,289.1 981.25,289.0 981.5,290.9 981.75,290.6 982,291.6 982.25,291.0 982.5,291.8 982.75,291.3 983,290.0 983.25,290.5 983.5,290.1 983.75,290.5 984,290.3 984.25,290.5 984.5,291.6 984.75,290.3 985,289.8 985.25,290.2 985.5,290.4 985.75,290.3 986,290.6 986.25,290.4 986.5,291.5 986.75,291.3 987,290.2 987.25,291.4 987.5,291.7 987.75,290.7 988,290.1 988.25,291.0 988.5,290.7 988.75,291.0 989,290.0 989.25,292.2 989.5,290.6 989.75,291.1 990,290.3 990.25,290.8 990.5,289.1 990.75,289.8 991,289.0 991.25,291.4 991.5,289.8 991.75,289.6 992,291.5 992.25,290.4 992.5,290.6 992.75,291.5 993,291.1 993.25,291.0 993.5,291.2 993.75,289.4 994,291.7 994.25,291.7 994.5,292.1 994.75,289.3 995,290.2 995.25,290.4 995.5,292.0 995.75,291.2 996,292.0 996.25,291.1 996.5,290.3 996.75,289.9 997,290.4 997.25,291.8 997.5,290.2"/>
<g fill="#000"><rect x="191.2" y="699.2" width="5.6" height="8.8" rx="0.8"/><rect x="460.8" y="699.3" width="4.4" height="8.7" rx="0.8"/><rect x="593.1" y="699.2" width="5.8" height="8.8" rx="0.8"/><rect x="727.2" y="699.4" width="5.3" height="8.6" rx="0.8"/><rect x="861.9" y="699.6" width="5.0" height="8.4" rx="0.8"/></g>
<path d="M57 9.4H1001V715.8H57Z M62 14.4V709.4H996V14.4Z" fill="#000" fill-rule="evenodd"/>
<g fill="none" stroke="#808080" stroke-width="1.15"><rect x="140.65" y="14.60" width="13.8" height="18.1" rx="0.6"/><rect x="306.70" y="107.40" width="13.8" height="18.1" rx="0.6"/><rect x="323.70" y="227.85" width="13.8" height="18.1" rx="0.6"/><rect x="365.35" y="220.20" width="13.8" height="18.1" rx="0.6"/><rect x="485.50" y="198.50" width="13.8" height="18.1" rx="0.6"/><rect x="517.25" y="237.85" width="13.8" height="18.1" rx="0.6"/><rect x="597.65" y="208.15" width="13.8" height="18.1" rx="0.6"/><rect x="619.45" y="195.95" width="13.8" height="18.1" rx="0.6"/><rect x="717.85" y="247.05" width="13.8" height="18.1" rx="0.6"/><rect x="756.50" y="254.10" width="13.8" height="18.1" rx="0.6"/><rect x="837.40" y="249.70" width="13.8" height="18.1" rx="0.6"/><rect x="932.30" y="254.80" width="13.8" height="18.1" rx="0.6"/><rect x="565.60" y="41.20" width="13.8" height="18.1" rx="0.6"/></g>
<g fill="#000"><path d="M155.0 335.6L161.6 344.0L155.0 352.4L148.4 344.0Z"/><path d="M326.5 315.6L333.1 324.0L326.5 332.4L319.9 324.0Z"/><path d="M355.3 301.1L361.9 309.5L355.3 317.9L348.8 309.5Z"/><path d="M391.6 349.9L398.2 358.4L391.6 366.8L385.1 358.4Z"/><path d="M456.0 338.1L462.6 346.5L456.0 354.9L449.4 346.5Z"/><path d="M524.1 301.2L530.6 309.6L524.1 318.1L517.6 309.6Z"/><path d="M548.6 345.2L555.1 353.6L548.6 362.1L542.1 353.6Z"/><path d="M624.2 330.6L630.8 339.0L624.2 347.4L617.7 339.0Z"/><path d="M631.9 313.4L638.4 321.9L631.9 330.3L625.4 321.9Z"/><path d="M654.0 298.8L660.5 307.2L654.0 315.6L647.5 307.2Z"/><path d="M668.3 340.4L674.8 348.9L668.3 357.3L661.8 348.9Z"/><path d="M744.7 337.8L751.2 346.2L744.7 354.6L738.2 346.2Z"/><path d="M761.7 347.7L768.2 356.1L761.7 364.6L755.2 356.1Z"/><path d="M785.7 355.1L792.2 363.5L785.7 371.9L779.2 363.5Z"/><path d="M876.5 345.1L883.0 353.5L876.5 361.9L870.0 353.5Z"/><path d="M895.6 350.1L902.1 358.5L895.6 366.9L889.1 358.5Z"/><path d="M968.8 341.1L975.3 349.5L968.8 357.9L962.2 349.5Z"/><path d="M157.1 468.2L163.7 476.7L157.1 485.1L150.5 476.7Z"/><path d="M328.0 448.4L334.6 456.8L328.0 465.2L321.4 456.8Z"/><path d="M338.6 391.4L345.2 399.9L338.6 408.3L332.1 399.9Z"/><path d="M624.0 441.8L630.5 450.2L624.0 458.6L617.5 450.2Z"/><path d="M626.2 610.0L632.8 618.5L626.2 627.0L619.7 618.5Z"/><path d="M567.6 87.0L574.1 95.5L567.6 104.0L561.1 95.5Z"/></g>
<g fill="#000">
<g class="s" font-size="40">
<text transform="translate(75.2,273)">a</text>
<text transform="translate(74.3,366.3) scale(1.04,1)">b</text>
<text transform="translate(76.1,508.5) scale(1.05,1)">c</text>
<text transform="translate(73.3,689.8) scale(1.05,1)">d</text>
</g>
<g font-size="43.5" text-anchor="middle">
<text x="59.5" y="761">10</text><text x="193.7" y="761">20</text><text x="328" y="761">30</text><text x="462" y="761">40</text>
<text x="595.6" y="761">50</text><text x="729.6" y="761">60</text><text x="864.2" y="761">70</text><text x="998.7" y="761">80</text>
</g>
<text class="s" x="528.5" y="800" font-size="40" text-anchor="middle">2<tspan font-weight="normal">θ(</tspan>degree)</text>
<text transform="translate(42,477.3) rotate(-90)" font-size="42.6">Intensity(a.u.)</text>
<g font-size="43">
<text transform="translate(171,466.3) rotate(-90)">100</text>
<text transform="translate(311.6,480) rotate(-90)">110</text>
<text transform="translate(385.5,454) rotate(-90)">101</text>
<text transform="translate(610.3,481.3) rotate(-90)">002</text>
</g>
<g font-size="33">
<text x="815.1" y="232.7" textLength="96.7" lengthAdjust="spacingAndGlyphs">OA/Ln</text><text x="912.9" y="209.3" font-size="18.5" textLength="24" lengthAdjust="spacingAndGlyphs">3+</text><text x="934.4" y="232.7" textLength="36.8" lengthAdjust="spacingAndGlyphs">=6</text>
<text x="807.6" y="340.7" textLength="96.7" lengthAdjust="spacingAndGlyphs">OA/Ln</text><text x="905.3" y="317.5" font-size="18.5" textLength="24" lengthAdjust="spacingAndGlyphs">3+</text><text x="927" y="340.7">=20</text>
<text x="810.1" y="474.9" textLength="96.7" lengthAdjust="spacingAndGlyphs">OA/Ln</text><text x="908.1" y="452.6" font-size="18.5" textLength="24" lengthAdjust="spacingAndGlyphs">3+</text><text x="929.4" y="474.9">=30</text>
<text x="812.5" y="659.2" textLength="96.7" lengthAdjust="spacingAndGlyphs">OA/Ln</text><text x="910" y="636" font-size="18.5" textLength="24" lengthAdjust="spacingAndGlyphs">3+</text><text x="932" y="659.2">=40</text>
</g>
<g font-size="30">
<text x="592.5" y="59.6">Y(OH)</text>
<text x="679.5" y="70.6" font-size="31" textLength="14" lengthAdjust="spacingAndGlyphs">3</text>
<text x="694.6" y="59.6" textLength="296.9" lengthAdjust="spacingAndGlyphs">:10%Nd,10%Yb,2%Er</text>
<text x="580.8" y="101.7" font-weight="normal">β</text>
<text x="596.3" y="101.7">-NaYF</text>
<text transform="translate(683,114.8) scale(0.83,1)" font-size="31">4</text>
<text x="697.3" y="101.7" textLength="294.6" lengthAdjust="spacingAndGlyphs">:10%Nd,10%Yb,2%Er</text>
</g>
</g>

</svg>
</body></html>
